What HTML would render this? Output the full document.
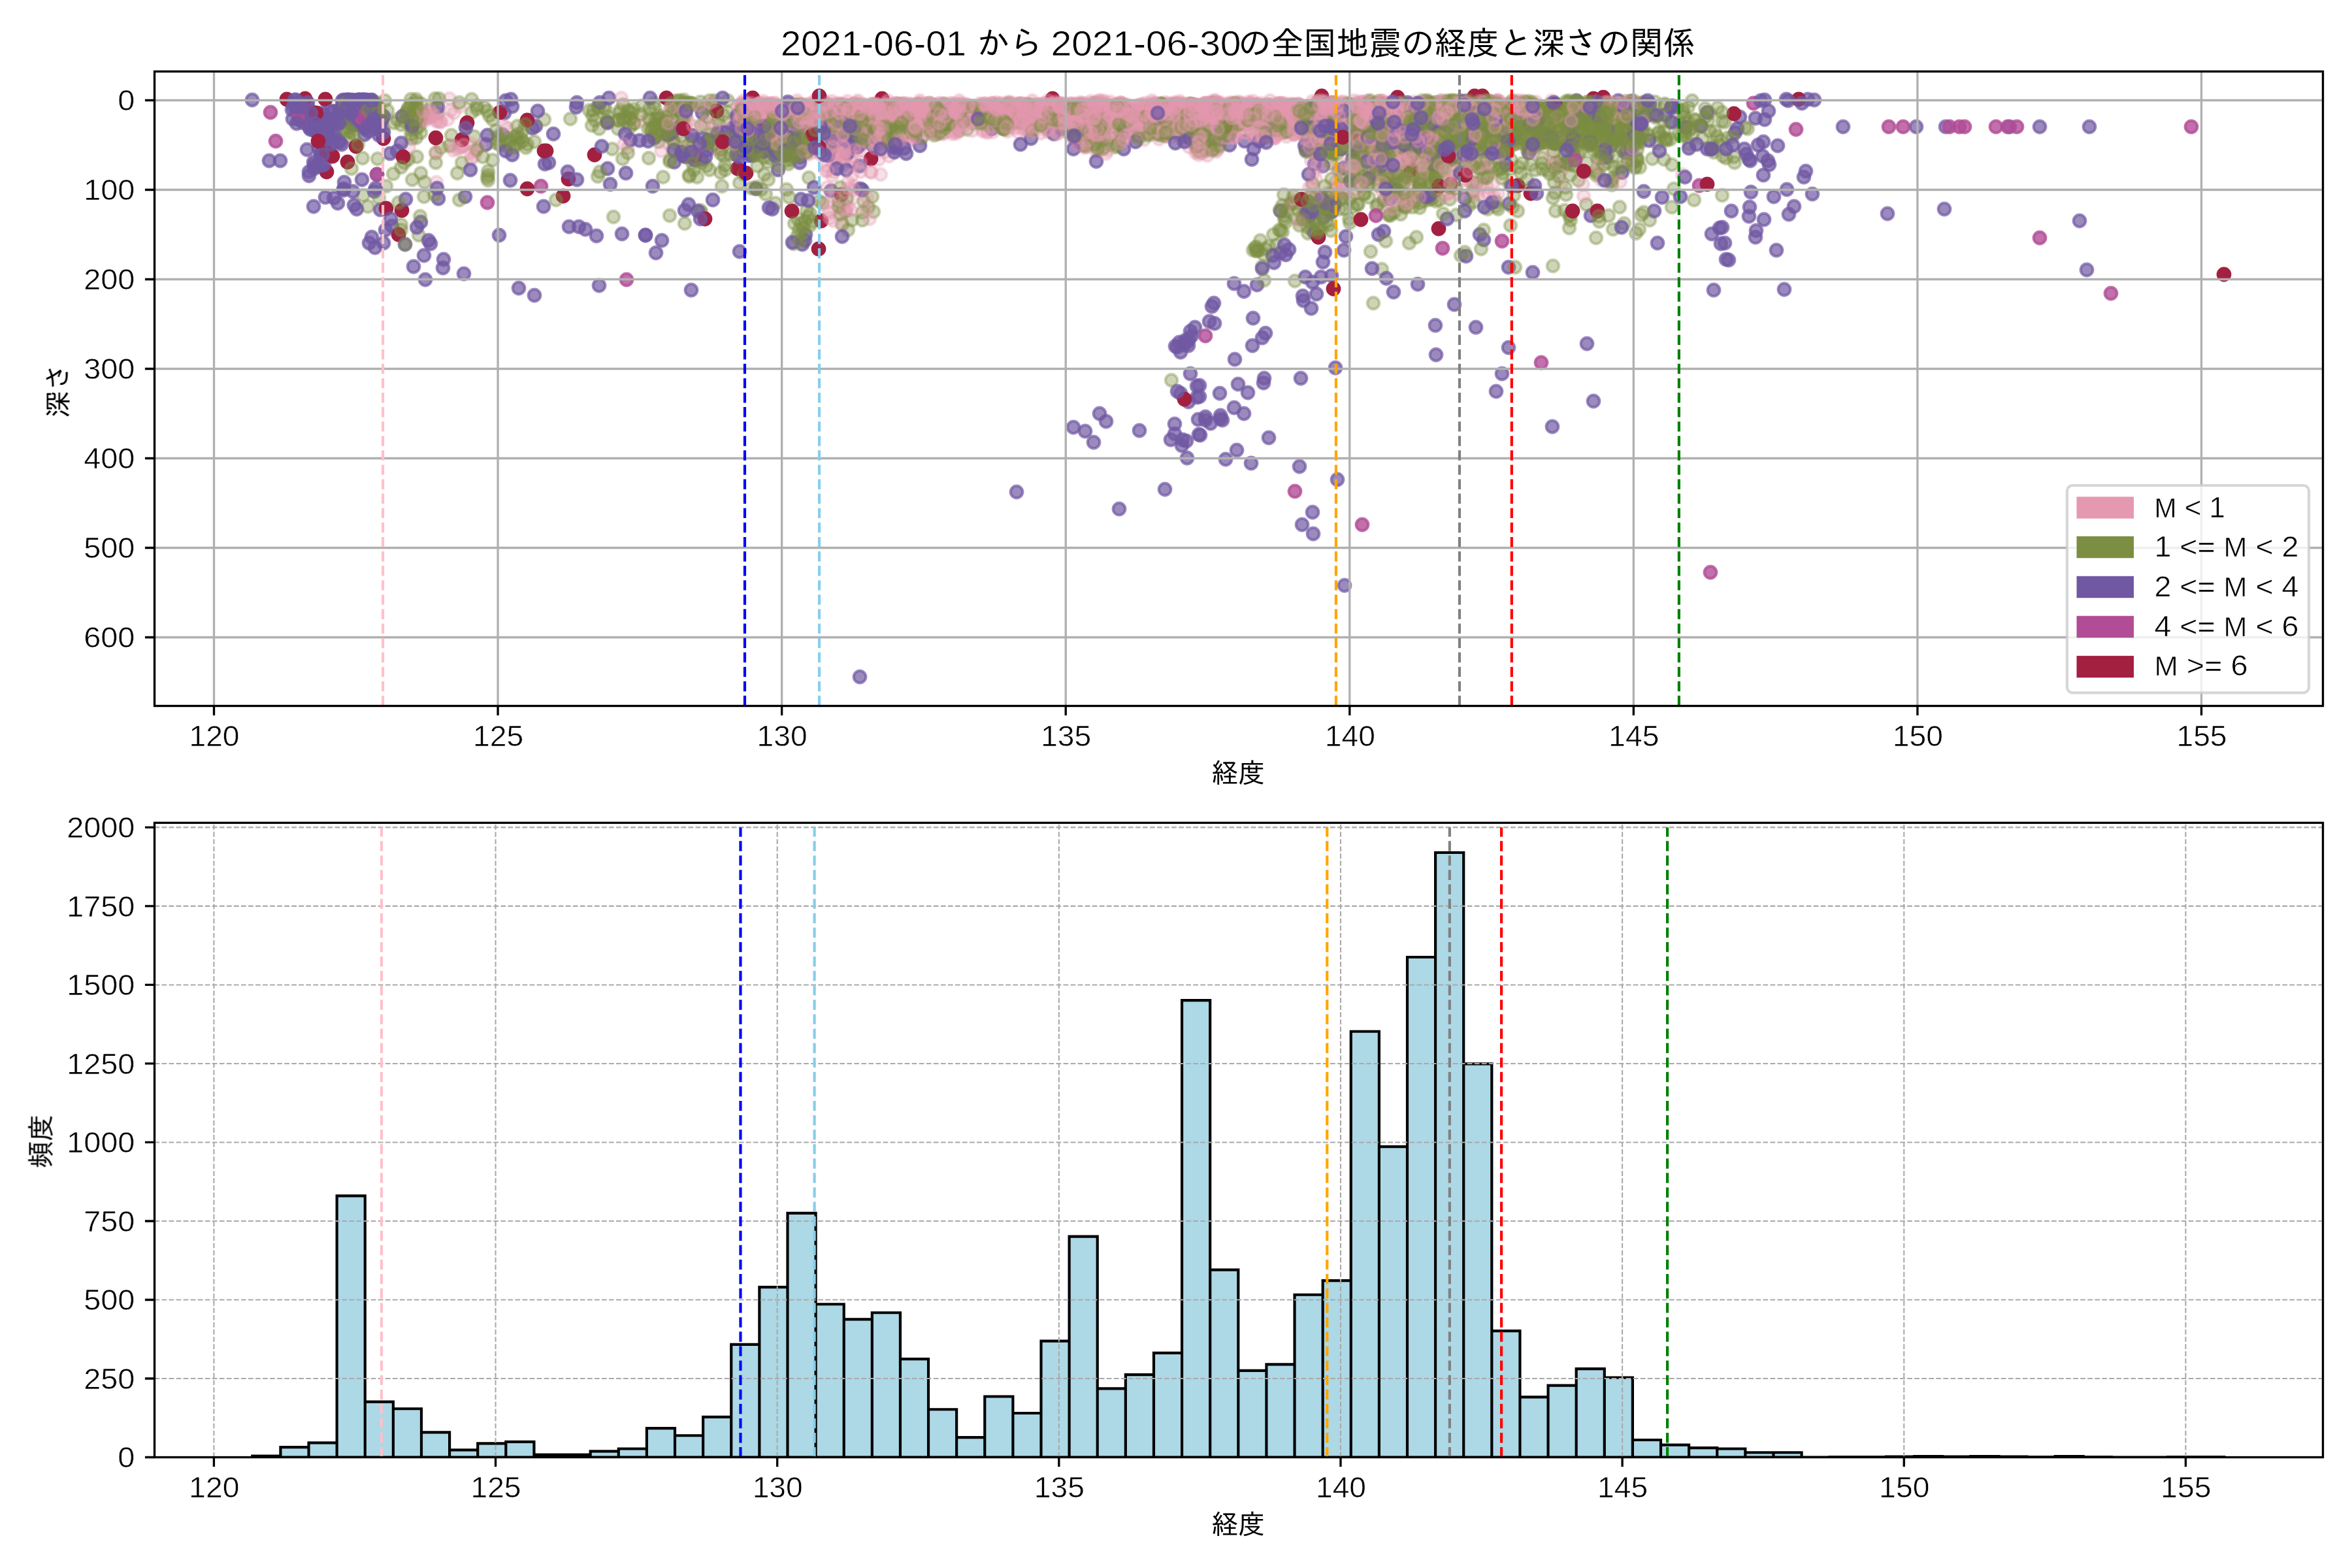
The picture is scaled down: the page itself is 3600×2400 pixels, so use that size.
<!DOCTYPE html>
<html lang="ja"><head><meta charset="utf-8"><title>2021-06 全国地震の経度と深さの関係</title>
<style>html,body{margin:0;padding:0;background:#fff}svg{display:block}text{font-family:'Liberation Sans', 'IPAGothic', sans-serif;fill:#000}</style></head><body>
<svg width="3600" height="2400" viewBox="0 0 3600 2400">
<rect width="3600" height="2400" fill="#fff"/>
<defs><clipPath id="ct"><rect x="236.5" y="109.4" width="3319.0" height="971.1"/></clipPath><clipPath id="cb"><rect x="236.5" y="1259.4" width="3319.0" height="971.1"/></clipPath></defs>
<g clip-path="url(#ct)">
<style>.sP{fill:#e599b1;stroke:#e599b1;fill-opacity:.3;stroke-opacity:.3}.sG{fill:#7c8e42;stroke:#7c8e42;fill-opacity:.38;stroke-opacity:.38}.sV{fill:#7058a2;stroke:#7058a2;fill-opacity:.7;stroke-opacity:.7}.sM{fill:#b24c96;stroke:#b24c96;fill-opacity:.8;stroke-opacity:.8}.sC{fill:#a32041;stroke:#a32041}.sc circle{r:9.3px}</style>
<g class="sc" stroke-width="4.17">
<g class="sC"><circle cx="2422" cy="169" r="9.3"/><circle cx="524" cy="170" r="9.3"/><circle cx="500" cy="263" r="9.3"/><circle cx="2365" cy="205" r="9.3"/><circle cx="1257" cy="338" r="9.3"/><circle cx="1129" cy="258" r="9.3"/></g>
<g class="sV"><circle cx="1138" cy="200" r="9.3"/><circle cx="2252" cy="171" r="9.3"/><circle cx="491" cy="236" r="9.3"/><circle cx="1993" cy="803" r="9.3"/><circle cx="510" cy="210" r="9.3"/><circle cx="481" cy="178" r="9.3"/><circle cx="532" cy="174" r="9.3"/><circle cx="542" cy="314" r="9.3"/><circle cx="2277" cy="215" r="9.3"/><circle cx="1272" cy="292" r="9.3"/><circle cx="537" cy="154" r="9.3"/><circle cx="1233" cy="359" r="9.3"/><circle cx="1835" cy="665" r="9.3"/><circle cx="2136" cy="159" r="9.3"/><circle cx="1002" cy="211" r="9.3"/><circle cx="1038" cy="168" r="9.3"/><circle cx="1199" cy="203" r="9.3"/><circle cx="820" cy="193" r="9.3"/><circle cx="1799" cy="530" r="9.3"/><circle cx="2392" cy="210" r="9.3"/><circle cx="2200" cy="211" r="9.3"/><circle cx="563" cy="154" r="9.3"/><circle cx="2125" cy="227" r="9.3"/><circle cx="1304" cy="211" r="9.3"/><circle cx="1192" cy="220" r="9.3"/><circle cx="1904" cy="633" r="9.3"/><circle cx="496" cy="252" r="9.3"/><circle cx="2640" cy="372" r="9.3"/><circle cx="2544" cy="302" r="9.3"/><circle cx="2293" cy="191" r="9.3"/><circle cx="744" cy="221" r="9.3"/><circle cx="2256" cy="210" r="9.3"/><circle cx="1401" cy="207" r="9.3"/><circle cx="2096" cy="194" r="9.3"/><circle cx="1346" cy="214" r="9.3"/><circle cx="2265" cy="359" r="9.3"/><circle cx="1868" cy="641" r="9.3"/><circle cx="2488" cy="234" r="9.3"/><circle cx="1169" cy="215" r="9.3"/><circle cx="2133" cy="447" r="9.3"/><circle cx="551" cy="153" r="9.3"/><circle cx="558" cy="154" r="9.3"/><circle cx="2455" cy="207" r="9.3"/><circle cx="527" cy="279" r="9.3"/><circle cx="579" cy="178" r="9.3"/><circle cx="847" cy="205" r="9.3"/><circle cx="2278" cy="188" r="9.3"/><circle cx="1233" cy="199" r="9.3"/><circle cx="533" cy="153" r="9.3"/><circle cx="525" cy="164" r="9.3"/><circle cx="568" cy="154" r="9.3"/><circle cx="2537" cy="372" r="9.3"/><circle cx="386" cy="153" r="9.3"/><circle cx="1177" cy="230" r="9.3"/><circle cx="896" cy="351" r="9.3"/><circle cx="1161" cy="201" r="9.3"/><circle cx="815" cy="196" r="9.3"/><circle cx="568" cy="168" r="9.3"/><circle cx="769" cy="206" r="9.3"/><circle cx="557" cy="153" r="9.3"/><circle cx="493" cy="198" r="9.3"/><circle cx="1470" cy="183" r="9.3"/><circle cx="2307" cy="204" r="9.3"/><circle cx="764" cy="360" r="9.3"/><circle cx="2642" cy="397" r="9.3"/><circle cx="2198" cy="183" r="9.3"/><circle cx="2145" cy="201" r="9.3"/><circle cx="1842" cy="202" r="9.3"/><circle cx="2738" cy="328" r="9.3"/><circle cx="1225" cy="240" r="9.3"/><circle cx="580" cy="199" r="9.3"/><circle cx="1853" cy="648" r="9.3"/><circle cx="2613" cy="228" r="9.3"/><circle cx="1195" cy="206" r="9.3"/><circle cx="772" cy="173" r="9.3"/></g>
<g class="sG"><circle cx="1973" cy="161" r="9.3"/><circle cx="2452" cy="179" r="9.3"/><circle cx="2133" cy="295" r="9.3"/><circle cx="2305" cy="176" r="9.3"/><circle cx="908" cy="169" r="9.3"/><circle cx="929" cy="186" r="9.3"/><circle cx="1428" cy="194" r="9.3"/><circle cx="622" cy="174" r="9.3"/><circle cx="2183" cy="160" r="9.3"/><circle cx="1192" cy="179" r="9.3"/><circle cx="2013" cy="225" r="9.3"/><circle cx="1820" cy="190" r="9.3"/><circle cx="2021" cy="306" r="9.3"/><circle cx="1491" cy="189" r="9.3"/><circle cx="2047" cy="297" r="9.3"/><circle cx="1357" cy="167" r="9.3"/><circle cx="2443" cy="155" r="9.3"/><circle cx="2144" cy="328" r="9.3"/><circle cx="1072" cy="322" r="9.3"/><circle cx="2181" cy="192" r="9.3"/><circle cx="2337" cy="219" r="9.3"/><circle cx="2076" cy="221" r="9.3"/><circle cx="2409" cy="187" r="9.3"/><circle cx="1406" cy="181" r="9.3"/><circle cx="2440" cy="173" r="9.3"/><circle cx="2226" cy="246" r="9.3"/><circle cx="539" cy="194" r="9.3"/><circle cx="2226" cy="198" r="9.3"/><circle cx="1838" cy="233" r="9.3"/><circle cx="2576" cy="168" r="9.3"/><circle cx="1891" cy="185" r="9.3"/><circle cx="2054" cy="282" r="9.3"/><circle cx="1210" cy="208" r="9.3"/><circle cx="667" cy="234" r="9.3"/><circle cx="1480" cy="198" r="9.3"/><circle cx="1949" cy="359" r="9.3"/><circle cx="2397" cy="216" r="9.3"/><circle cx="1833" cy="224" r="9.3"/><circle cx="649" cy="301" r="9.3"/><circle cx="2334" cy="177" r="9.3"/><circle cx="2097" cy="189" r="9.3"/><circle cx="1086" cy="154" r="9.3"/><circle cx="2497" cy="213" r="9.3"/><circle cx="1451" cy="167" r="9.3"/><circle cx="1658" cy="222" r="9.3"/><circle cx="2010" cy="175" r="9.3"/><circle cx="2397" cy="298" r="9.3"/><circle cx="1996" cy="188" r="9.3"/><circle cx="2096" cy="166" r="9.3"/><circle cx="1006" cy="207" r="9.3"/><circle cx="2474" cy="177" r="9.3"/><circle cx="2188" cy="226" r="9.3"/><circle cx="2395" cy="177" r="9.3"/><circle cx="2443" cy="263" r="9.3"/><circle cx="2478" cy="169" r="9.3"/><circle cx="2499" cy="164" r="9.3"/><circle cx="1529" cy="164" r="9.3"/><circle cx="2207" cy="192" r="9.3"/><circle cx="2255" cy="233" r="9.3"/><circle cx="2335" cy="167" r="9.3"/><circle cx="2115" cy="412" r="9.3"/><circle cx="2211" cy="186" r="9.3"/><circle cx="1069" cy="163" r="9.3"/><circle cx="2288" cy="164" r="9.3"/><circle cx="2203" cy="208" r="9.3"/><circle cx="2155" cy="161" r="9.3"/><circle cx="2579" cy="202" r="9.3"/><circle cx="1062" cy="260" r="9.3"/><circle cx="2397" cy="155" r="9.3"/><circle cx="807" cy="221" r="9.3"/><circle cx="2193" cy="235" r="9.3"/><circle cx="641" cy="360" r="9.3"/><circle cx="2255" cy="217" r="9.3"/><circle cx="2410" cy="190" r="9.3"/><circle cx="629" cy="160" r="9.3"/><circle cx="1878" cy="180" r="9.3"/><circle cx="1242" cy="193" r="9.3"/><circle cx="1345" cy="174" r="9.3"/><circle cx="1866" cy="222" r="9.3"/><circle cx="2174" cy="217" r="9.3"/><circle cx="1883" cy="204" r="9.3"/><circle cx="2362" cy="191" r="9.3"/><circle cx="2136" cy="208" r="9.3"/><circle cx="2205" cy="156" r="9.3"/><circle cx="2260" cy="280" r="9.3"/><circle cx="2090" cy="199" r="9.3"/><circle cx="1014" cy="191" r="9.3"/><circle cx="1825" cy="168" r="9.3"/><circle cx="2253" cy="161" r="9.3"/><circle cx="1886" cy="171" r="9.3"/><circle cx="1204" cy="221" r="9.3"/><circle cx="2057" cy="218" r="9.3"/><circle cx="2008" cy="202" r="9.3"/><circle cx="2167" cy="189" r="9.3"/><circle cx="1313" cy="206" r="9.3"/><circle cx="2456" cy="206" r="9.3"/><circle cx="1221" cy="335" r="9.3"/><circle cx="1229" cy="202" r="9.3"/><circle cx="1214" cy="198" r="9.3"/><circle cx="1254" cy="172" r="9.3"/><circle cx="1247" cy="214" r="9.3"/><circle cx="2436" cy="156" r="9.3"/><circle cx="1543" cy="170" r="9.3"/><circle cx="1121" cy="219" r="9.3"/><circle cx="2273" cy="215" r="9.3"/><circle cx="1469" cy="168" r="9.3"/><circle cx="2501" cy="206" r="9.3"/><circle cx="2070" cy="213" r="9.3"/><circle cx="2443" cy="171" r="9.3"/><circle cx="1320" cy="325" r="9.3"/><circle cx="1464" cy="174" r="9.3"/><circle cx="2464" cy="202" r="9.3"/><circle cx="2493" cy="164" r="9.3"/><circle cx="2238" cy="170" r="9.3"/><circle cx="2140" cy="313" r="9.3"/><circle cx="2168" cy="183" r="9.3"/><circle cx="670" cy="173" r="9.3"/><circle cx="2300" cy="194" r="9.3"/><circle cx="1466" cy="172" r="9.3"/><circle cx="2070" cy="206" r="9.3"/><circle cx="1363" cy="200" r="9.3"/><circle cx="2507" cy="184" r="9.3"/><circle cx="1872" cy="211" r="9.3"/><circle cx="2412" cy="191" r="9.3"/><circle cx="1056" cy="160" r="9.3"/><circle cx="1309" cy="173" r="9.3"/><circle cx="2173" cy="204" r="9.3"/><circle cx="2136" cy="163" r="9.3"/><circle cx="1047" cy="157" r="9.3"/><circle cx="955" cy="184" r="9.3"/><circle cx="2217" cy="188" r="9.3"/><circle cx="2038" cy="157" r="9.3"/><circle cx="587" cy="199" r="9.3"/><circle cx="2460" cy="177" r="9.3"/><circle cx="1151" cy="223" r="9.3"/><circle cx="1190" cy="181" r="9.3"/><circle cx="2419" cy="233" r="9.3"/><circle cx="1892" cy="192" r="9.3"/><circle cx="1937" cy="381" r="9.3"/><circle cx="1230" cy="349" r="9.3"/><circle cx="1164" cy="206" r="9.3"/><circle cx="2315" cy="183" r="9.3"/><circle cx="2440" cy="209" r="9.3"/><circle cx="1467" cy="200" r="9.3"/><circle cx="2210" cy="156" r="9.3"/><circle cx="2606" cy="212" r="9.3"/><circle cx="2081" cy="237" r="9.3"/><circle cx="1247" cy="204" r="9.3"/><circle cx="1607" cy="188" r="9.3"/><circle cx="2623" cy="233" r="9.3"/><circle cx="1837" cy="172" r="9.3"/><circle cx="2097" cy="206" r="9.3"/><circle cx="2539" cy="204" r="9.3"/><circle cx="1409" cy="190" r="9.3"/><circle cx="2273" cy="178" r="9.3"/><circle cx="1191" cy="169" r="9.3"/><circle cx="2357" cy="194" r="9.3"/><circle cx="2501" cy="176" r="9.3"/><circle cx="929" cy="186" r="9.3"/><circle cx="2248" cy="197" r="9.3"/><circle cx="2286" cy="205" r="9.3"/><circle cx="2453" cy="182" r="9.3"/><circle cx="2201" cy="264" r="9.3"/><circle cx="1917" cy="168" r="9.3"/><circle cx="1747" cy="200" r="9.3"/><circle cx="2180" cy="230" r="9.3"/><circle cx="1009" cy="193" r="9.3"/><circle cx="1037" cy="154" r="9.3"/><circle cx="2469" cy="171" r="9.3"/><circle cx="1196" cy="224" r="9.3"/><circle cx="2032" cy="228" r="9.3"/><circle cx="1055" cy="270" r="9.3"/><circle cx="1128" cy="207" r="9.3"/><circle cx="2258" cy="196" r="9.3"/><circle cx="2443" cy="170" r="9.3"/><circle cx="2488" cy="208" r="9.3"/><circle cx="2298" cy="173" r="9.3"/><circle cx="2634" cy="215" r="9.3"/><circle cx="1673" cy="162" r="9.3"/><circle cx="527" cy="162" r="9.3"/><circle cx="1373" cy="168" r="9.3"/><circle cx="2404" cy="329" r="9.3"/><circle cx="1178" cy="209" r="9.3"/><circle cx="1725" cy="173" r="9.3"/><circle cx="1275" cy="219" r="9.3"/><circle cx="1140" cy="206" r="9.3"/><circle cx="2288" cy="179" r="9.3"/><circle cx="2272" cy="218" r="9.3"/><circle cx="2469" cy="272" r="9.3"/><circle cx="1681" cy="159" r="9.3"/></g>
<g class="sP"><circle cx="1355" cy="209" r="9.3"/><circle cx="1945" cy="167" r="9.3"/><circle cx="1635" cy="179" r="9.3"/><circle cx="1867" cy="167" r="9.3"/><circle cx="1864" cy="172" r="9.3"/><circle cx="1646" cy="162" r="9.3"/><circle cx="1240" cy="205" r="9.3"/><circle cx="2118" cy="159" r="9.3"/><circle cx="2168" cy="187" r="9.3"/><circle cx="2258" cy="229" r="9.3"/><circle cx="1406" cy="158" r="9.3"/><circle cx="1614" cy="183" r="9.3"/><circle cx="1753" cy="174" r="9.3"/><circle cx="1413" cy="185" r="9.3"/><circle cx="1563" cy="167" r="9.3"/><circle cx="1832" cy="177" r="9.3"/><circle cx="1534" cy="168" r="9.3"/><circle cx="1345" cy="190" r="9.3"/><circle cx="1807" cy="159" r="9.3"/><circle cx="1736" cy="174" r="9.3"/><circle cx="2173" cy="158" r="9.3"/><circle cx="1208" cy="184" r="9.3"/><circle cx="1399" cy="213" r="9.3"/><circle cx="2155" cy="309" r="9.3"/><circle cx="1385" cy="176" r="9.3"/><circle cx="1473" cy="174" r="9.3"/><circle cx="2023" cy="158" r="9.3"/><circle cx="1255" cy="165" r="9.3"/><circle cx="674" cy="187" r="9.3"/><circle cx="1647" cy="175" r="9.3"/><circle cx="2186" cy="180" r="9.3"/><circle cx="1230" cy="169" r="9.3"/><circle cx="1986" cy="171" r="9.3"/><circle cx="1120" cy="192" r="9.3"/><circle cx="1884" cy="192" r="9.3"/><circle cx="1621" cy="160" r="9.3"/><circle cx="2296" cy="157" r="9.3"/><circle cx="1911" cy="156" r="9.3"/><circle cx="2287" cy="301" r="9.3"/><circle cx="2448" cy="208" r="9.3"/><circle cx="1298" cy="279" r="9.3"/><circle cx="1604" cy="202" r="9.3"/><circle cx="2076" cy="165" r="9.3"/><circle cx="1404" cy="183" r="9.3"/><circle cx="1708" cy="176" r="9.3"/><circle cx="1920" cy="161" r="9.3"/><circle cx="2155" cy="282" r="9.3"/><circle cx="2205" cy="180" r="9.3"/><circle cx="1598" cy="179" r="9.3"/><circle cx="1816" cy="181" r="9.3"/><circle cx="694" cy="230" r="9.3"/><circle cx="2267" cy="282" r="9.3"/><circle cx="1721" cy="160" r="9.3"/><circle cx="1596" cy="177" r="9.3"/><circle cx="1486" cy="168" r="9.3"/><circle cx="1151" cy="175" r="9.3"/><circle cx="1279" cy="243" r="9.3"/><circle cx="2261" cy="187" r="9.3"/><circle cx="1769" cy="164" r="9.3"/><circle cx="1461" cy="202" r="9.3"/><circle cx="1567" cy="174" r="9.3"/><circle cx="1626" cy="192" r="9.3"/><circle cx="2057" cy="288" r="9.3"/><circle cx="1575" cy="174" r="9.3"/><circle cx="2033" cy="181" r="9.3"/><circle cx="1653" cy="157" r="9.3"/><circle cx="1629" cy="162" r="9.3"/><circle cx="1461" cy="184" r="9.3"/><circle cx="2291" cy="161" r="9.3"/><circle cx="1799" cy="182" r="9.3"/><circle cx="1372" cy="177" r="9.3"/><circle cx="1570" cy="177" r="9.3"/><circle cx="1232" cy="178" r="9.3"/><circle cx="1734" cy="181" r="9.3"/><circle cx="1295" cy="175" r="9.3"/><circle cx="2512" cy="158" r="9.3"/><circle cx="2068" cy="189" r="9.3"/><circle cx="1332" cy="189" r="9.3"/><circle cx="1238" cy="172" r="9.3"/><circle cx="2228" cy="166" r="9.3"/><circle cx="2338" cy="157" r="9.3"/><circle cx="1255" cy="165" r="9.3"/><circle cx="1255" cy="160" r="9.3"/><circle cx="2332" cy="163" r="9.3"/><circle cx="1189" cy="168" r="9.3"/><circle cx="1433" cy="182" r="9.3"/><circle cx="1194" cy="162" r="9.3"/><circle cx="1326" cy="176" r="9.3"/><circle cx="2057" cy="299" r="9.3"/><circle cx="1810" cy="160" r="9.3"/><circle cx="1376" cy="176" r="9.3"/><circle cx="2380" cy="250" r="9.3"/><circle cx="1772" cy="162" r="9.3"/><circle cx="1678" cy="168" r="9.3"/><circle cx="1769" cy="206" r="9.3"/><circle cx="2150" cy="303" r="9.3"/><circle cx="1841" cy="219" r="9.3"/><circle cx="2213" cy="179" r="9.3"/><circle cx="1700" cy="212" r="9.3"/><circle cx="2153" cy="249" r="9.3"/><circle cx="1658" cy="165" r="9.3"/><circle cx="1842" cy="194" r="9.3"/><circle cx="1702" cy="165" r="9.3"/><circle cx="1728" cy="195" r="9.3"/><circle cx="1607" cy="178" r="9.3"/><circle cx="1309" cy="220" r="9.3"/><circle cx="1554" cy="172" r="9.3"/><circle cx="1220" cy="167" r="9.3"/><circle cx="2133" cy="171" r="9.3"/><circle cx="1364" cy="176" r="9.3"/><circle cx="1408" cy="154" r="9.3"/><circle cx="1345" cy="168" r="9.3"/><circle cx="1845" cy="158" r="9.3"/><circle cx="1090" cy="228" r="9.3"/><circle cx="1865" cy="159" r="9.3"/><circle cx="1384" cy="162" r="9.3"/><circle cx="2228" cy="175" r="9.3"/><circle cx="1822" cy="177" r="9.3"/><circle cx="1988" cy="186" r="9.3"/><circle cx="1725" cy="170" r="9.3"/><circle cx="2237" cy="163" r="9.3"/><circle cx="1796" cy="174" r="9.3"/><circle cx="1202" cy="162" r="9.3"/><circle cx="1734" cy="178" r="9.3"/><circle cx="2255" cy="163" r="9.3"/><circle cx="1848" cy="166" r="9.3"/><circle cx="1971" cy="318" r="9.3"/><circle cx="1897" cy="165" r="9.3"/><circle cx="1809" cy="178" r="9.3"/><circle cx="2164" cy="179" r="9.3"/><circle cx="1934" cy="164" r="9.3"/><circle cx="1785" cy="176" r="9.3"/><circle cx="1629" cy="187" r="9.3"/><circle cx="1450" cy="175" r="9.3"/><circle cx="1675" cy="176" r="9.3"/><circle cx="2049" cy="163" r="9.3"/><circle cx="1148" cy="170" r="9.3"/><circle cx="1890" cy="206" r="9.3"/><circle cx="1292" cy="323" r="9.3"/><circle cx="1513" cy="162" r="9.3"/><circle cx="1774" cy="168" r="9.3"/><circle cx="2327" cy="184" r="9.3"/><circle cx="1572" cy="171" r="9.3"/><circle cx="1748" cy="174" r="9.3"/><circle cx="1963" cy="198" r="9.3"/><circle cx="1333" cy="178" r="9.3"/><circle cx="1548" cy="171" r="9.3"/><circle cx="1964" cy="185" r="9.3"/><circle cx="2026" cy="185" r="9.3"/><circle cx="1920" cy="169" r="9.3"/><circle cx="2189" cy="165" r="9.3"/><circle cx="1222" cy="184" r="9.3"/><circle cx="703" cy="226" r="9.3"/><circle cx="1826" cy="212" r="9.3"/><circle cx="1708" cy="189" r="9.3"/><circle cx="1642" cy="163" r="9.3"/><circle cx="1798" cy="157" r="9.3"/><circle cx="1962" cy="178" r="9.3"/><circle cx="1280" cy="251" r="9.3"/><circle cx="1154" cy="209" r="9.3"/><circle cx="1819" cy="173" r="9.3"/><circle cx="1959" cy="171" r="9.3"/><circle cx="2127" cy="161" r="9.3"/><circle cx="2277" cy="164" r="9.3"/><circle cx="1956" cy="159" r="9.3"/><circle cx="2341" cy="225" r="9.3"/><circle cx="2168" cy="166" r="9.3"/><circle cx="1951" cy="210" r="9.3"/><circle cx="1275" cy="222" r="9.3"/><circle cx="1941" cy="203" r="9.3"/><circle cx="1937" cy="182" r="9.3"/><circle cx="2063" cy="186" r="9.3"/><circle cx="1624" cy="160" r="9.3"/><circle cx="2243" cy="246" r="9.3"/><circle cx="1779" cy="167" r="9.3"/><circle cx="1685" cy="204" r="9.3"/><circle cx="2028" cy="163" r="9.3"/><circle cx="1823" cy="159" r="9.3"/><circle cx="1383" cy="175" r="9.3"/><circle cx="1014" cy="176" r="9.3"/><circle cx="1757" cy="163" r="9.3"/><circle cx="1221" cy="160" r="9.3"/><circle cx="1559" cy="188" r="9.3"/><circle cx="1330" cy="173" r="9.3"/><circle cx="2088" cy="219" r="9.3"/><circle cx="1387" cy="168" r="9.3"/><circle cx="1387" cy="169" r="9.3"/><circle cx="1920" cy="168" r="9.3"/><circle cx="2048" cy="179" r="9.3"/><circle cx="1342" cy="203" r="9.3"/><circle cx="1637" cy="179" r="9.3"/><circle cx="1179" cy="161" r="9.3"/><circle cx="1405" cy="170" r="9.3"/><circle cx="1634" cy="191" r="9.3"/><circle cx="2468" cy="167" r="9.3"/><circle cx="1363" cy="163" r="9.3"/><circle cx="2441" cy="172" r="9.3"/><circle cx="1548" cy="187" r="9.3"/><circle cx="1256" cy="159" r="9.3"/><circle cx="1312" cy="176" r="9.3"/><circle cx="1908" cy="162" r="9.3"/><circle cx="2138" cy="174" r="9.3"/><circle cx="1896" cy="163" r="9.3"/><circle cx="1525" cy="166" r="9.3"/><circle cx="1827" cy="177" r="9.3"/><circle cx="2482" cy="166" r="9.3"/><circle cx="1918" cy="183" r="9.3"/><circle cx="2217" cy="185" r="9.3"/><circle cx="2276" cy="211" r="9.3"/><circle cx="1048" cy="225" r="9.3"/><circle cx="1178" cy="169" r="9.3"/><circle cx="2265" cy="175" r="9.3"/><circle cx="2293" cy="158" r="9.3"/><circle cx="1382" cy="165" r="9.3"/><circle cx="2106" cy="261" r="9.3"/><circle cx="1184" cy="171" r="9.3"/><circle cx="1316" cy="186" r="9.3"/><circle cx="1981" cy="162" r="9.3"/><circle cx="1348" cy="267" r="9.3"/><circle cx="1945" cy="162" r="9.3"/><circle cx="1939" cy="173" r="9.3"/><circle cx="1361" cy="239" r="9.3"/><circle cx="1329" cy="186" r="9.3"/><circle cx="1886" cy="170" r="9.3"/></g>
<g class="sM"><circle cx="1845" cy="514" r="9.3"/><circle cx="414" cy="172" r="9.3"/></g>
<g class="sG"><circle cx="2038" cy="326" r="9.3"/><circle cx="2628" cy="209" r="9.3"/><circle cx="2496" cy="156" r="9.3"/><circle cx="1927" cy="383" r="9.3"/><circle cx="2534" cy="180" r="9.3"/><circle cx="1960" cy="166" r="9.3"/><circle cx="2064" cy="194" r="9.3"/><circle cx="2286" cy="160" r="9.3"/><circle cx="2254" cy="198" r="9.3"/><circle cx="1984" cy="312" r="9.3"/><circle cx="2432" cy="181" r="9.3"/><circle cx="2288" cy="241" r="9.3"/><circle cx="1742" cy="171" r="9.3"/><circle cx="2136" cy="279" r="9.3"/><circle cx="1216" cy="193" r="9.3"/><circle cx="1256" cy="188" r="9.3"/><circle cx="1861" cy="216" r="9.3"/><circle cx="2120" cy="161" r="9.3"/><circle cx="2602" cy="192" r="9.3"/><circle cx="2066" cy="197" r="9.3"/><circle cx="1224" cy="185" r="9.3"/><circle cx="2533" cy="156" r="9.3"/><circle cx="1398" cy="203" r="9.3"/><circle cx="2464" cy="192" r="9.3"/><circle cx="954" cy="160" r="9.3"/><circle cx="2128" cy="328" r="9.3"/><circle cx="2425" cy="188" r="9.3"/><circle cx="1251" cy="181" r="9.3"/><circle cx="1416" cy="191" r="9.3"/><circle cx="2379" cy="188" r="9.3"/><circle cx="568" cy="164" r="9.3"/><circle cx="2305" cy="167" r="9.3"/><circle cx="1307" cy="214" r="9.3"/><circle cx="2340" cy="192" r="9.3"/><circle cx="1091" cy="160" r="9.3"/><circle cx="619" cy="186" r="9.3"/><circle cx="1130" cy="195" r="9.3"/><circle cx="1099" cy="183" r="9.3"/><circle cx="1101" cy="190" r="9.3"/><circle cx="2201" cy="233" r="9.3"/><circle cx="1716" cy="209" r="9.3"/><circle cx="1055" cy="268" r="9.3"/><circle cx="787" cy="225" r="9.3"/><circle cx="1388" cy="167" r="9.3"/><circle cx="1167" cy="174" r="9.3"/><circle cx="2245" cy="154" r="9.3"/><circle cx="2377" cy="186" r="9.3"/><circle cx="2403" cy="223" r="9.3"/><circle cx="2421" cy="180" r="9.3"/><circle cx="2088" cy="208" r="9.3"/><circle cx="2443" cy="221" r="9.3"/><circle cx="1828" cy="161" r="9.3"/><circle cx="2300" cy="187" r="9.3"/><circle cx="2001" cy="185" r="9.3"/><circle cx="2228" cy="176" r="9.3"/><circle cx="2073" cy="219" r="9.3"/><circle cx="2300" cy="164" r="9.3"/><circle cx="2181" cy="233" r="9.3"/><circle cx="1221" cy="230" r="9.3"/><circle cx="634" cy="175" r="9.3"/><circle cx="2502" cy="180" r="9.3"/><circle cx="630" cy="188" r="9.3"/><circle cx="2284" cy="169" r="9.3"/><circle cx="2411" cy="216" r="9.3"/><circle cx="1848" cy="196" r="9.3"/><circle cx="1168" cy="179" r="9.3"/><circle cx="2411" cy="196" r="9.3"/><circle cx="1716" cy="172" r="9.3"/><circle cx="1172" cy="229" r="9.3"/><circle cx="2391" cy="220" r="9.3"/><circle cx="2002" cy="357" r="9.3"/><circle cx="1257" cy="203" r="9.3"/><circle cx="1105" cy="285" r="9.3"/><circle cx="2427" cy="263" r="9.3"/><circle cx="1974" cy="196" r="9.3"/><circle cx="1723" cy="183" r="9.3"/><circle cx="2380" cy="295" r="9.3"/><circle cx="2375" cy="159" r="9.3"/><circle cx="2246" cy="155" r="9.3"/><circle cx="2270" cy="219" r="9.3"/><circle cx="2489" cy="200" r="9.3"/><circle cx="2454" cy="187" r="9.3"/><circle cx="2278" cy="267" r="9.3"/><circle cx="2270" cy="198" r="9.3"/><circle cx="2222" cy="172" r="9.3"/><circle cx="2296" cy="165" r="9.3"/><circle cx="2025" cy="314" r="9.3"/><circle cx="2221" cy="189" r="9.3"/><circle cx="2169" cy="221" r="9.3"/><circle cx="2266" cy="244" r="9.3"/><circle cx="2256" cy="196" r="9.3"/><circle cx="2159" cy="176" r="9.3"/><circle cx="2327" cy="195" r="9.3"/><circle cx="1212" cy="232" r="9.3"/><circle cx="2186" cy="264" r="9.3"/><circle cx="1248" cy="173" r="9.3"/><circle cx="2089" cy="203" r="9.3"/><circle cx="2429" cy="249" r="9.3"/><circle cx="675" cy="226" r="9.3"/><circle cx="2169" cy="189" r="9.3"/><circle cx="1181" cy="189" r="9.3"/><circle cx="1994" cy="331" r="9.3"/><circle cx="2230" cy="164" r="9.3"/><circle cx="2475" cy="200" r="9.3"/><circle cx="1842" cy="198" r="9.3"/><circle cx="2095" cy="302" r="9.3"/><circle cx="1964" cy="184" r="9.3"/><circle cx="2180" cy="220" r="9.3"/><circle cx="2286" cy="215" r="9.3"/><circle cx="2315" cy="218" r="9.3"/><circle cx="1264" cy="188" r="9.3"/><circle cx="1850" cy="208" r="9.3"/><circle cx="2432" cy="189" r="9.3"/><circle cx="1104" cy="229" r="9.3"/><circle cx="2192" cy="229" r="9.3"/><circle cx="564" cy="158" r="9.3"/><circle cx="1844" cy="227" r="9.3"/><circle cx="1295" cy="202" r="9.3"/><circle cx="2186" cy="183" r="9.3"/><circle cx="2005" cy="197" r="9.3"/><circle cx="997" cy="197" r="9.3"/><circle cx="2559" cy="317" r="9.3"/><circle cx="2280" cy="160" r="9.3"/><circle cx="2150" cy="199" r="9.3"/><circle cx="2196" cy="157" r="9.3"/><circle cx="1185" cy="207" r="9.3"/><circle cx="2034" cy="324" r="9.3"/><circle cx="2303" cy="198" r="9.3"/><circle cx="2420" cy="212" r="9.3"/><circle cx="2450" cy="229" r="9.3"/><circle cx="2482" cy="179" r="9.3"/><circle cx="2069" cy="161" r="9.3"/><circle cx="1204" cy="290" r="9.3"/><circle cx="1370" cy="192" r="9.3"/><circle cx="915" cy="163" r="9.3"/><circle cx="2231" cy="217" r="9.3"/><circle cx="2101" cy="260" r="9.3"/><circle cx="1874" cy="173" r="9.3"/><circle cx="1833" cy="184" r="9.3"/><circle cx="2176" cy="273" r="9.3"/><circle cx="1550" cy="168" r="9.3"/><circle cx="2475" cy="215" r="9.3"/><circle cx="2449" cy="211" r="9.3"/><circle cx="2340" cy="155" r="9.3"/><circle cx="1227" cy="163" r="9.3"/><circle cx="2066" cy="179" r="9.3"/><circle cx="2323" cy="196" r="9.3"/><circle cx="2088" cy="173" r="9.3"/><circle cx="1346" cy="192" r="9.3"/><circle cx="2198" cy="272" r="9.3"/><circle cx="2500" cy="210" r="9.3"/><circle cx="1989" cy="202" r="9.3"/><circle cx="1833" cy="231" r="9.3"/><circle cx="2230" cy="154" r="9.3"/><circle cx="1137" cy="213" r="9.3"/><circle cx="1745" cy="204" r="9.3"/><circle cx="2101" cy="197" r="9.3"/><circle cx="1435" cy="205" r="9.3"/><circle cx="907" cy="177" r="9.3"/><circle cx="2031" cy="194" r="9.3"/><circle cx="1138" cy="186" r="9.3"/><circle cx="2137" cy="158" r="9.3"/><circle cx="2248" cy="206" r="9.3"/><circle cx="1718" cy="199" r="9.3"/><circle cx="2449" cy="197" r="9.3"/><circle cx="2186" cy="259" r="9.3"/><circle cx="2104" cy="169" r="9.3"/><circle cx="1323" cy="200" r="9.3"/><circle cx="970" cy="189" r="9.3"/><circle cx="1197" cy="185" r="9.3"/><circle cx="2298" cy="189" r="9.3"/><circle cx="2289" cy="178" r="9.3"/><circle cx="2342" cy="193" r="9.3"/><circle cx="2315" cy="194" r="9.3"/><circle cx="1127" cy="231" r="9.3"/><circle cx="1586" cy="191" r="9.3"/><circle cx="1195" cy="165" r="9.3"/><circle cx="1667" cy="171" r="9.3"/><circle cx="2379" cy="173" r="9.3"/><circle cx="2343" cy="178" r="9.3"/><circle cx="2478" cy="189" r="9.3"/><circle cx="1195" cy="199" r="9.3"/><circle cx="1243" cy="203" r="9.3"/><circle cx="2380" cy="157" r="9.3"/><circle cx="1942" cy="377" r="9.3"/><circle cx="1638" cy="172" r="9.3"/><circle cx="2066" cy="341" r="9.3"/><circle cx="2228" cy="182" r="9.3"/><circle cx="1148" cy="178" r="9.3"/><circle cx="2487" cy="179" r="9.3"/></g>
<g class="sC"><circle cx="439" cy="152" r="9.3"/><circle cx="1212" cy="323" r="9.3"/><circle cx="587" cy="212" r="9.3"/><circle cx="1152" cy="150" r="9.3"/><circle cx="1288" cy="298" r="9.3"/><circle cx="2439" cy="151" r="9.3"/></g>
<g class="sP"><circle cx="1973" cy="165" r="9.3"/><circle cx="1976" cy="159" r="9.3"/><circle cx="1664" cy="217" r="9.3"/><circle cx="1675" cy="159" r="9.3"/><circle cx="1963" cy="184" r="9.3"/><circle cx="1605" cy="170" r="9.3"/><circle cx="1045" cy="230" r="9.3"/><circle cx="1693" cy="173" r="9.3"/><circle cx="999" cy="201" r="9.3"/><circle cx="1932" cy="174" r="9.3"/><circle cx="1462" cy="162" r="9.3"/><circle cx="1543" cy="186" r="9.3"/><circle cx="2251" cy="235" r="9.3"/><circle cx="1655" cy="171" r="9.3"/><circle cx="1372" cy="158" r="9.3"/><circle cx="1324" cy="201" r="9.3"/><circle cx="1198" cy="165" r="9.3"/><circle cx="1488" cy="200" r="9.3"/><circle cx="2214" cy="170" r="9.3"/><circle cx="2100" cy="197" r="9.3"/><circle cx="1785" cy="197" r="9.3"/><circle cx="1693" cy="193" r="9.3"/><circle cx="2338" cy="222" r="9.3"/><circle cx="1819" cy="198" r="9.3"/><circle cx="1675" cy="163" r="9.3"/><circle cx="1898" cy="175" r="9.3"/><circle cx="2211" cy="161" r="9.3"/><circle cx="1858" cy="169" r="9.3"/><circle cx="1880" cy="174" r="9.3"/><circle cx="1367" cy="174" r="9.3"/><circle cx="1729" cy="162" r="9.3"/><circle cx="1198" cy="178" r="9.3"/><circle cx="1893" cy="166" r="9.3"/><circle cx="1302" cy="162" r="9.3"/><circle cx="1976" cy="183" r="9.3"/><circle cx="1771" cy="173" r="9.3"/><circle cx="1793" cy="201" r="9.3"/><circle cx="2169" cy="175" r="9.3"/><circle cx="1583" cy="166" r="9.3"/><circle cx="1313" cy="168" r="9.3"/><circle cx="1940" cy="171" r="9.3"/><circle cx="1785" cy="204" r="9.3"/><circle cx="1512" cy="189" r="9.3"/><circle cx="1544" cy="164" r="9.3"/><circle cx="1399" cy="189" r="9.3"/><circle cx="1670" cy="155" r="9.3"/><circle cx="1245" cy="160" r="9.3"/><circle cx="1558" cy="159" r="9.3"/><circle cx="1411" cy="161" r="9.3"/><circle cx="1769" cy="165" r="9.3"/><circle cx="2118" cy="305" r="9.3"/><circle cx="1625" cy="176" r="9.3"/><circle cx="1948" cy="170" r="9.3"/><circle cx="1220" cy="154" r="9.3"/><circle cx="1911" cy="181" r="9.3"/><circle cx="1921" cy="160" r="9.3"/><circle cx="1322" cy="195" r="9.3"/><circle cx="1989" cy="168" r="9.3"/><circle cx="1897" cy="158" r="9.3"/><circle cx="1890" cy="181" r="9.3"/><circle cx="1396" cy="180" r="9.3"/><circle cx="1414" cy="174" r="9.3"/><circle cx="2329" cy="164" r="9.3"/><circle cx="1817" cy="165" r="9.3"/><circle cx="1550" cy="171" r="9.3"/><circle cx="2168" cy="165" r="9.3"/><circle cx="1768" cy="170" r="9.3"/><circle cx="1340" cy="160" r="9.3"/><circle cx="2105" cy="158" r="9.3"/><circle cx="2093" cy="180" r="9.3"/><circle cx="1281" cy="169" r="9.3"/><circle cx="1325" cy="171" r="9.3"/><circle cx="1677" cy="164" r="9.3"/><circle cx="1940" cy="160" r="9.3"/><circle cx="1206" cy="183" r="9.3"/><circle cx="1888" cy="166" r="9.3"/><circle cx="1918" cy="165" r="9.3"/><circle cx="1887" cy="163" r="9.3"/><circle cx="2194" cy="168" r="9.3"/><circle cx="1517" cy="165" r="9.3"/><circle cx="1559" cy="203" r="9.3"/><circle cx="708" cy="225" r="9.3"/><circle cx="1964" cy="203" r="9.3"/><circle cx="1994" cy="304" r="9.3"/><circle cx="1212" cy="198" r="9.3"/><circle cx="1615" cy="166" r="9.3"/><circle cx="1235" cy="237" r="9.3"/><circle cx="1232" cy="162" r="9.3"/><circle cx="2101" cy="241" r="9.3"/><circle cx="2176" cy="170" r="9.3"/><circle cx="1352" cy="178" r="9.3"/><circle cx="1636" cy="159" r="9.3"/><circle cx="1586" cy="165" r="9.3"/><circle cx="1175" cy="162" r="9.3"/><circle cx="2098" cy="162" r="9.3"/><circle cx="1101" cy="229" r="9.3"/><circle cx="2002" cy="174" r="9.3"/><circle cx="1372" cy="220" r="9.3"/><circle cx="2210" cy="194" r="9.3"/><circle cx="1417" cy="174" r="9.3"/><circle cx="1878" cy="181" r="9.3"/><circle cx="1785" cy="206" r="9.3"/><circle cx="1628" cy="163" r="9.3"/><circle cx="2122" cy="243" r="9.3"/><circle cx="2109" cy="241" r="9.3"/><circle cx="1574" cy="170" r="9.3"/><circle cx="1903" cy="172" r="9.3"/><circle cx="1344" cy="162" r="9.3"/><circle cx="1359" cy="179" r="9.3"/><circle cx="1697" cy="162" r="9.3"/><circle cx="1286" cy="163" r="9.3"/><circle cx="1309" cy="173" r="9.3"/><circle cx="1686" cy="168" r="9.3"/><circle cx="1260" cy="166" r="9.3"/><circle cx="1356" cy="171" r="9.3"/><circle cx="1736" cy="168" r="9.3"/><circle cx="1913" cy="163" r="9.3"/><circle cx="1698" cy="169" r="9.3"/><circle cx="1434" cy="180" r="9.3"/><circle cx="1843" cy="228" r="9.3"/><circle cx="1849" cy="177" r="9.3"/><circle cx="1897" cy="169" r="9.3"/><circle cx="1764" cy="190" r="9.3"/><circle cx="1190" cy="191" r="9.3"/><circle cx="1297" cy="155" r="9.3"/><circle cx="2375" cy="154" r="9.3"/><circle cx="1354" cy="166" r="9.3"/><circle cx="1986" cy="182" r="9.3"/><circle cx="1593" cy="204" r="9.3"/><circle cx="659" cy="179" r="9.3"/><circle cx="1389" cy="177" r="9.3"/><circle cx="2121" cy="158" r="9.3"/><circle cx="1316" cy="194" r="9.3"/><circle cx="1268" cy="160" r="9.3"/><circle cx="1883" cy="167" r="9.3"/><circle cx="2070" cy="168" r="9.3"/><circle cx="2145" cy="274" r="9.3"/><circle cx="2188" cy="177" r="9.3"/><circle cx="2132" cy="157" r="9.3"/><circle cx="1817" cy="181" r="9.3"/><circle cx="2230" cy="167" r="9.3"/><circle cx="1358" cy="220" r="9.3"/><circle cx="2182" cy="183" r="9.3"/><circle cx="1881" cy="178" r="9.3"/><circle cx="1680" cy="226" r="9.3"/><circle cx="1539" cy="174" r="9.3"/><circle cx="1445" cy="162" r="9.3"/><circle cx="1791" cy="167" r="9.3"/><circle cx="1787" cy="158" r="9.3"/><circle cx="2175" cy="172" r="9.3"/><circle cx="1312" cy="169" r="9.3"/><circle cx="1312" cy="173" r="9.3"/><circle cx="1429" cy="163" r="9.3"/><circle cx="2054" cy="294" r="9.3"/><circle cx="1856" cy="178" r="9.3"/><circle cx="2294" cy="171" r="9.3"/><circle cx="1863" cy="183" r="9.3"/><circle cx="1139" cy="176" r="9.3"/><circle cx="1866" cy="158" r="9.3"/><circle cx="1757" cy="164" r="9.3"/><circle cx="1936" cy="170" r="9.3"/><circle cx="2082" cy="231" r="9.3"/><circle cx="1692" cy="211" r="9.3"/><circle cx="2049" cy="171" r="9.3"/><circle cx="1234" cy="169" r="9.3"/><circle cx="1867" cy="175" r="9.3"/><circle cx="1298" cy="317" r="9.3"/><circle cx="1153" cy="177" r="9.3"/><circle cx="1885" cy="161" r="9.3"/><circle cx="2304" cy="161" r="9.3"/><circle cx="1751" cy="214" r="9.3"/><circle cx="1619" cy="160" r="9.3"/><circle cx="1848" cy="160" r="9.3"/><circle cx="1363" cy="167" r="9.3"/><circle cx="1411" cy="186" r="9.3"/><circle cx="1909" cy="178" r="9.3"/><circle cx="2178" cy="162" r="9.3"/><circle cx="1565" cy="180" r="9.3"/><circle cx="1223" cy="159" r="9.3"/><circle cx="1952" cy="211" r="9.3"/><circle cx="1192" cy="194" r="9.3"/><circle cx="2219" cy="219" r="9.3"/><circle cx="2156" cy="178" r="9.3"/><circle cx="2092" cy="161" r="9.3"/><circle cx="1285" cy="159" r="9.3"/><circle cx="2085" cy="180" r="9.3"/><circle cx="1187" cy="162" r="9.3"/><circle cx="1375" cy="162" r="9.3"/><circle cx="1655" cy="202" r="9.3"/><circle cx="1287" cy="167" r="9.3"/><circle cx="1727" cy="170" r="9.3"/><circle cx="1805" cy="163" r="9.3"/><circle cx="2334" cy="160" r="9.3"/><circle cx="2486" cy="167" r="9.3"/><circle cx="1721" cy="165" r="9.3"/><circle cx="2018" cy="154" r="9.3"/><circle cx="1235" cy="181" r="9.3"/><circle cx="1294" cy="324" r="9.3"/><circle cx="2014" cy="273" r="9.3"/><circle cx="1426" cy="191" r="9.3"/><circle cx="2071" cy="163" r="9.3"/><circle cx="2249" cy="278" r="9.3"/><circle cx="1234" cy="177" r="9.3"/><circle cx="2222" cy="168" r="9.3"/><circle cx="2121" cy="283" r="9.3"/><circle cx="1716" cy="158" r="9.3"/><circle cx="1419" cy="164" r="9.3"/><circle cx="1554" cy="178" r="9.3"/><circle cx="1856" cy="165" r="9.3"/><circle cx="1863" cy="213" r="9.3"/><circle cx="2026" cy="175" r="9.3"/><circle cx="1815" cy="186" r="9.3"/><circle cx="1441" cy="167" r="9.3"/><circle cx="2045" cy="162" r="9.3"/><circle cx="1961" cy="166" r="9.3"/><circle cx="1972" cy="196" r="9.3"/><circle cx="1249" cy="206" r="9.3"/><circle cx="1218" cy="173" r="9.3"/><circle cx="1896" cy="160" r="9.3"/><circle cx="1267" cy="166" r="9.3"/><circle cx="1768" cy="165" r="9.3"/><circle cx="2144" cy="173" r="9.3"/><circle cx="2255" cy="296" r="9.3"/><circle cx="1831" cy="164" r="9.3"/></g>
<g class="sV"><circle cx="1236" cy="230" r="9.3"/><circle cx="2364" cy="199" r="9.3"/><circle cx="2009" cy="784" r="9.3"/><circle cx="2049" cy="220" r="9.3"/><circle cx="1815" cy="210" r="9.3"/><circle cx="1146" cy="238" r="9.3"/><circle cx="2003" cy="309" r="9.3"/><circle cx="1895" cy="588" r="9.3"/><circle cx="1720" cy="228" r="9.3"/><circle cx="1994" cy="453" r="9.3"/><circle cx="1316" cy="1036" r="9.3"/><circle cx="549" cy="153" r="9.3"/><circle cx="1232" cy="368" r="9.3"/><circle cx="2296" cy="178" r="9.3"/><circle cx="2047" cy="734" r="9.3"/><circle cx="2123" cy="281" r="9.3"/><circle cx="1851" cy="492" r="9.3"/><circle cx="2139" cy="202" r="9.3"/><circle cx="532" cy="176" r="9.3"/><circle cx="2222" cy="177" r="9.3"/><circle cx="470" cy="229" r="9.3"/><circle cx="1054" cy="313" r="9.3"/><circle cx="2100" cy="411" r="9.3"/><circle cx="2154" cy="233" r="9.3"/><circle cx="1817" cy="701" r="9.3"/><circle cx="556" cy="153" r="9.3"/><circle cx="1876" cy="703" r="9.3"/><circle cx="1337" cy="224" r="9.3"/><circle cx="456" cy="159" r="9.3"/><circle cx="2269" cy="166" r="9.3"/><circle cx="670" cy="164" r="9.3"/><circle cx="539" cy="154" r="9.3"/><circle cx="2324" cy="164" r="9.3"/><circle cx="470" cy="157" r="9.3"/><circle cx="473" cy="269" r="9.3"/><circle cx="659" cy="373" r="9.3"/><circle cx="2670" cy="228" r="9.3"/><circle cx="2371" cy="182" r="9.3"/><circle cx="1048" cy="322" r="9.3"/><circle cx="1312" cy="225" r="9.3"/><circle cx="475" cy="198" r="9.3"/><circle cx="1175" cy="191" r="9.3"/><circle cx="1792" cy="180" r="9.3"/><circle cx="1372" cy="227" r="9.3"/><circle cx="2096" cy="166" r="9.3"/><circle cx="512" cy="182" r="9.3"/><circle cx="447" cy="168" r="9.3"/><circle cx="500" cy="206" r="9.3"/><circle cx="569" cy="177" r="9.3"/><circle cx="565" cy="372" r="9.3"/><circle cx="1098" cy="204" r="9.3"/><circle cx="571" cy="193" r="9.3"/><circle cx="540" cy="190" r="9.3"/><circle cx="2216" cy="175" r="9.3"/><circle cx="1157" cy="289" r="9.3"/><circle cx="531" cy="153" r="9.3"/><circle cx="1240" cy="228" r="9.3"/><circle cx="474" cy="196" r="9.3"/><circle cx="1973" cy="382" r="9.3"/><circle cx="1231" cy="217" r="9.3"/><circle cx="553" cy="180" r="9.3"/><circle cx="2477" cy="154" r="9.3"/><circle cx="1882" cy="222" r="9.3"/><circle cx="2073" cy="222" r="9.3"/><circle cx="1207" cy="227" r="9.3"/><circle cx="2516" cy="293" r="9.3"/><circle cx="496" cy="195" r="9.3"/><circle cx="656" cy="368" r="9.3"/><circle cx="531" cy="171" r="9.3"/><circle cx="2460" cy="159" r="9.3"/><circle cx="1227" cy="220" r="9.3"/><circle cx="2190" cy="234" r="9.3"/><circle cx="2687" cy="363" r="9.3"/><circle cx="2483" cy="171" r="9.3"/><circle cx="1562" cy="221" r="9.3"/></g>
<g class="sM"><circle cx="555" cy="193" r="9.3"/><circle cx="3122" cy="364" r="9.3"/><circle cx="551" cy="186" r="9.3"/></g>
<g class="sC"><circle cx="467" cy="151" r="9.3"/><circle cx="1611" cy="151" r="9.3"/><circle cx="1529" cy="166" r="9.3"/><circle cx="836" cy="231" r="9.3"/><circle cx="2023" cy="147" r="9.3"/><circle cx="2245" cy="184" r="9.3"/></g>
<g class="sV"><circle cx="1889" cy="434" r="9.3"/><circle cx="2619" cy="228" r="9.3"/><circle cx="2014" cy="312" r="9.3"/><circle cx="459" cy="181" r="9.3"/><circle cx="529" cy="172" r="9.3"/><circle cx="530" cy="154" r="9.3"/><circle cx="526" cy="289" r="9.3"/><circle cx="1894" cy="185" r="9.3"/><circle cx="1556" cy="753" r="9.3"/><circle cx="2026" cy="333" r="9.3"/><circle cx="2698" cy="239" r="9.3"/><circle cx="490" cy="181" r="9.3"/><circle cx="2679" cy="246" r="9.3"/><circle cx="2735" cy="290" r="9.3"/><circle cx="2343" cy="228" r="9.3"/><circle cx="1905" cy="216" r="9.3"/><circle cx="2397" cy="249" r="9.3"/><circle cx="1082" cy="230" r="9.3"/><circle cx="2061" cy="181" r="9.3"/><circle cx="2194" cy="172" r="9.3"/><circle cx="2408" cy="217" r="9.3"/><circle cx="2038" cy="422" r="9.3"/><circle cx="1497" cy="183" r="9.3"/><circle cx="535" cy="182" r="9.3"/><circle cx="2310" cy="312" r="9.3"/><circle cx="1723" cy="202" r="9.3"/><circle cx="1832" cy="608" r="9.3"/><circle cx="2096" cy="216" r="9.3"/><circle cx="535" cy="164" r="9.3"/><circle cx="1228" cy="374" r="9.3"/><circle cx="1998" cy="424" r="9.3"/><circle cx="1960" cy="323" r="9.3"/><circle cx="2005" cy="165" r="9.3"/><circle cx="2034" cy="201" r="9.3"/><circle cx="1820" cy="519" r="9.3"/><circle cx="2699" cy="217" r="9.3"/><circle cx="1151" cy="238" r="9.3"/><circle cx="2366" cy="181" r="9.3"/><circle cx="480" cy="248" r="9.3"/><circle cx="545" cy="154" r="9.3"/><circle cx="2490" cy="231" r="9.3"/><circle cx="507" cy="185" r="9.3"/><circle cx="1960" cy="387" r="9.3"/><circle cx="2761" cy="271" r="9.3"/><circle cx="712" cy="301" r="9.3"/><circle cx="1950" cy="402" r="9.3"/><circle cx="1091" cy="306" r="9.3"/><circle cx="2466" cy="223" r="9.3"/><circle cx="555" cy="185" r="9.3"/><circle cx="2089" cy="225" r="9.3"/><circle cx="542" cy="169" r="9.3"/><circle cx="2224" cy="240" r="9.3"/><circle cx="551" cy="177" r="9.3"/><circle cx="1578" cy="212" r="9.3"/><circle cx="575" cy="176" r="9.3"/><circle cx="2090" cy="166" r="9.3"/><circle cx="1760" cy="184" r="9.3"/><circle cx="678" cy="410" r="9.3"/><circle cx="1866" cy="214" r="9.3"/><circle cx="2244" cy="157" r="9.3"/><circle cx="1744" cy="659" r="9.3"/><circle cx="2025" cy="401" r="9.3"/><circle cx="1805" cy="524" r="9.3"/><circle cx="794" cy="441" r="9.3"/><circle cx="2105" cy="172" r="9.3"/><circle cx="2265" cy="228" r="9.3"/><circle cx="2288" cy="215" r="9.3"/><circle cx="2242" cy="304" r="9.3"/><circle cx="952" cy="358" r="9.3"/><circle cx="558" cy="206" r="9.3"/><circle cx="1998" cy="182" r="9.3"/><circle cx="2071" cy="243" r="9.3"/><circle cx="2346" cy="417" r="9.3"/><circle cx="2130" cy="165" r="9.3"/><circle cx="2933" cy="194" r="9.3"/><circle cx="2656" cy="203" r="9.3"/></g>
<g class="sG"><circle cx="2037" cy="353" r="9.3"/><circle cx="2435" cy="172" r="9.3"/><circle cx="1796" cy="164" r="9.3"/><circle cx="2123" cy="181" r="9.3"/><circle cx="1001" cy="158" r="9.3"/><circle cx="2479" cy="202" r="9.3"/><circle cx="1517" cy="167" r="9.3"/><circle cx="1661" cy="182" r="9.3"/><circle cx="2431" cy="215" r="9.3"/><circle cx="2255" cy="279" r="9.3"/><circle cx="1313" cy="174" r="9.3"/><circle cx="1170" cy="168" r="9.3"/><circle cx="2177" cy="173" r="9.3"/><circle cx="2248" cy="202" r="9.3"/><circle cx="1798" cy="183" r="9.3"/><circle cx="2414" cy="158" r="9.3"/><circle cx="2408" cy="160" r="9.3"/><circle cx="1160" cy="233" r="9.3"/><circle cx="2465" cy="165" r="9.3"/><circle cx="1998" cy="210" r="9.3"/><circle cx="2206" cy="163" r="9.3"/><circle cx="2248" cy="171" r="9.3"/><circle cx="2047" cy="212" r="9.3"/><circle cx="2258" cy="181" r="9.3"/><circle cx="2368" cy="183" r="9.3"/><circle cx="1615" cy="163" r="9.3"/><circle cx="2260" cy="212" r="9.3"/><circle cx="2010" cy="174" r="9.3"/><circle cx="2066" cy="304" r="9.3"/><circle cx="2277" cy="243" r="9.3"/><circle cx="1996" cy="196" r="9.3"/><circle cx="2045" cy="196" r="9.3"/><circle cx="2225" cy="207" r="9.3"/><circle cx="2370" cy="210" r="9.3"/><circle cx="2361" cy="242" r="9.3"/><circle cx="2632" cy="222" r="9.3"/><circle cx="1265" cy="160" r="9.3"/><circle cx="1299" cy="194" r="9.3"/><circle cx="569" cy="166" r="9.3"/><circle cx="703" cy="306" r="9.3"/><circle cx="2104" cy="206" r="9.3"/><circle cx="2231" cy="209" r="9.3"/><circle cx="1431" cy="169" r="9.3"/><circle cx="2510" cy="219" r="9.3"/><circle cx="965" cy="183" r="9.3"/><circle cx="2099" cy="216" r="9.3"/><circle cx="1895" cy="179" r="9.3"/><circle cx="2556" cy="186" r="9.3"/><circle cx="1307" cy="183" r="9.3"/><circle cx="1620" cy="160" r="9.3"/><circle cx="1785" cy="176" r="9.3"/><circle cx="2323" cy="323" r="9.3"/><circle cx="2559" cy="252" r="9.3"/><circle cx="2548" cy="159" r="9.3"/><circle cx="2099" cy="223" r="9.3"/><circle cx="1283" cy="182" r="9.3"/><circle cx="2355" cy="163" r="9.3"/><circle cx="1560" cy="159" r="9.3"/><circle cx="2496" cy="165" r="9.3"/><circle cx="2494" cy="221" r="9.3"/><circle cx="630" cy="212" r="9.3"/><circle cx="1198" cy="178" r="9.3"/><circle cx="2472" cy="165" r="9.3"/><circle cx="1828" cy="211" r="9.3"/><circle cx="2263" cy="200" r="9.3"/><circle cx="2379" cy="212" r="9.3"/><circle cx="2088" cy="182" r="9.3"/><circle cx="1877" cy="171" r="9.3"/><circle cx="833" cy="183" r="9.3"/><circle cx="2529" cy="243" r="9.3"/><circle cx="2636" cy="185" r="9.3"/><circle cx="1463" cy="171" r="9.3"/><circle cx="2211" cy="181" r="9.3"/><circle cx="1008" cy="217" r="9.3"/><circle cx="571" cy="184" r="9.3"/><circle cx="1218" cy="171" r="9.3"/><circle cx="2187" cy="172" r="9.3"/><circle cx="1223" cy="352" r="9.3"/><circle cx="2489" cy="162" r="9.3"/><circle cx="1966" cy="331" r="9.3"/><circle cx="1444" cy="165" r="9.3"/><circle cx="1970" cy="323" r="9.3"/><circle cx="2295" cy="192" r="9.3"/><circle cx="1334" cy="201" r="9.3"/><circle cx="2096" cy="158" r="9.3"/><circle cx="2190" cy="281" r="9.3"/><circle cx="2131" cy="273" r="9.3"/><circle cx="2296" cy="169" r="9.3"/><circle cx="2507" cy="207" r="9.3"/><circle cx="998" cy="210" r="9.3"/><circle cx="1215" cy="373" r="9.3"/><circle cx="2223" cy="154" r="9.3"/><circle cx="1152" cy="166" r="9.3"/><circle cx="1933" cy="201" r="9.3"/><circle cx="1610" cy="169" r="9.3"/><circle cx="2002" cy="325" r="9.3"/><circle cx="2063" cy="194" r="9.3"/><circle cx="2243" cy="184" r="9.3"/><circle cx="2146" cy="264" r="9.3"/><circle cx="773" cy="223" r="9.3"/><circle cx="2099" cy="242" r="9.3"/><circle cx="1780" cy="192" r="9.3"/><circle cx="1328" cy="211" r="9.3"/><circle cx="2282" cy="198" r="9.3"/><circle cx="2267" cy="179" r="9.3"/><circle cx="1675" cy="158" r="9.3"/><circle cx="2437" cy="201" r="9.3"/><circle cx="593" cy="169" r="9.3"/><circle cx="1230" cy="206" r="9.3"/><circle cx="1130" cy="182" r="9.3"/><circle cx="2133" cy="175" r="9.3"/><circle cx="2416" cy="171" r="9.3"/><circle cx="1032" cy="219" r="9.3"/><circle cx="2255" cy="187" r="9.3"/><circle cx="2168" cy="243" r="9.3"/><circle cx="2166" cy="169" r="9.3"/><circle cx="2079" cy="183" r="9.3"/><circle cx="2276" cy="215" r="9.3"/><circle cx="2381" cy="209" r="9.3"/><circle cx="2459" cy="216" r="9.3"/><circle cx="2451" cy="191" r="9.3"/><circle cx="2229" cy="235" r="9.3"/><circle cx="2636" cy="299" r="9.3"/><circle cx="997" cy="200" r="9.3"/><circle cx="2455" cy="206" r="9.3"/><circle cx="1548" cy="178" r="9.3"/><circle cx="1966" cy="203" r="9.3"/><circle cx="1015" cy="271" r="9.3"/><circle cx="2230" cy="242" r="9.3"/><circle cx="2417" cy="163" r="9.3"/><circle cx="2654" cy="240" r="9.3"/><circle cx="2112" cy="200" r="9.3"/><circle cx="1395" cy="181" r="9.3"/><circle cx="2352" cy="163" r="9.3"/><circle cx="1187" cy="311" r="9.3"/><circle cx="2465" cy="162" r="9.3"/><circle cx="2167" cy="200" r="9.3"/><circle cx="2442" cy="218" r="9.3"/><circle cx="2088" cy="297" r="9.3"/><circle cx="1259" cy="311" r="9.3"/><circle cx="1989" cy="345" r="9.3"/><circle cx="2172" cy="191" r="9.3"/><circle cx="2334" cy="204" r="9.3"/><circle cx="1796" cy="160" r="9.3"/><circle cx="2541" cy="209" r="9.3"/><circle cx="2154" cy="214" r="9.3"/><circle cx="2433" cy="223" r="9.3"/><circle cx="2121" cy="231" r="9.3"/><circle cx="1008" cy="182" r="9.3"/><circle cx="1381" cy="161" r="9.3"/><circle cx="1247" cy="200" r="9.3"/><circle cx="1150" cy="193" r="9.3"/><circle cx="2375" cy="217" r="9.3"/><circle cx="1274" cy="212" r="9.3"/><circle cx="2325" cy="193" r="9.3"/><circle cx="2473" cy="173" r="9.3"/><circle cx="2515" cy="158" r="9.3"/><circle cx="1376" cy="178" r="9.3"/><circle cx="961" cy="169" r="9.3"/><circle cx="2259" cy="213" r="9.3"/><circle cx="1997" cy="182" r="9.3"/><circle cx="1584" cy="171" r="9.3"/><circle cx="2214" cy="244" r="9.3"/><circle cx="2476" cy="196" r="9.3"/><circle cx="2249" cy="232" r="9.3"/><circle cx="1820" cy="179" r="9.3"/><circle cx="2391" cy="216" r="9.3"/><circle cx="2331" cy="220" r="9.3"/><circle cx="1981" cy="309" r="9.3"/><circle cx="1165" cy="290" r="9.3"/><circle cx="1901" cy="186" r="9.3"/><circle cx="2364" cy="218" r="9.3"/><circle cx="2502" cy="257" r="9.3"/><circle cx="1506" cy="188" r="9.3"/><circle cx="657" cy="169" r="9.3"/><circle cx="1329" cy="215" r="9.3"/><circle cx="1127" cy="184" r="9.3"/><circle cx="2357" cy="208" r="9.3"/><circle cx="1903" cy="181" r="9.3"/><circle cx="1379" cy="207" r="9.3"/><circle cx="1357" cy="214" r="9.3"/><circle cx="2237" cy="193" r="9.3"/><circle cx="1199" cy="202" r="9.3"/><circle cx="1954" cy="375" r="9.3"/><circle cx="1979" cy="169" r="9.3"/><circle cx="2303" cy="173" r="9.3"/><circle cx="2304" cy="170" r="9.3"/><circle cx="2186" cy="176" r="9.3"/><circle cx="2671" cy="195" r="9.3"/><circle cx="1114" cy="154" r="9.3"/><circle cx="2579" cy="207" r="9.3"/></g>
<g class="sP"><circle cx="1239" cy="171" r="9.3"/><circle cx="1530" cy="159" r="9.3"/><circle cx="1160" cy="159" r="9.3"/><circle cx="1340" cy="160" r="9.3"/><circle cx="2125" cy="300" r="9.3"/><circle cx="1841" cy="164" r="9.3"/><circle cx="1746" cy="160" r="9.3"/><circle cx="1553" cy="196" r="9.3"/><circle cx="1527" cy="167" r="9.3"/><circle cx="2009" cy="214" r="9.3"/><circle cx="1166" cy="174" r="9.3"/><circle cx="2160" cy="241" r="9.3"/><circle cx="1383" cy="216" r="9.3"/><circle cx="1975" cy="311" r="9.3"/><circle cx="1440" cy="164" r="9.3"/><circle cx="2126" cy="184" r="9.3"/><circle cx="1897" cy="161" r="9.3"/><circle cx="2410" cy="211" r="9.3"/><circle cx="1287" cy="170" r="9.3"/><circle cx="1534" cy="174" r="9.3"/><circle cx="1137" cy="159" r="9.3"/><circle cx="1692" cy="184" r="9.3"/><circle cx="1348" cy="161" r="9.3"/><circle cx="2194" cy="162" r="9.3"/><circle cx="1952" cy="166" r="9.3"/><circle cx="1443" cy="205" r="9.3"/><circle cx="1162" cy="159" r="9.3"/><circle cx="2108" cy="173" r="9.3"/><circle cx="1469" cy="190" r="9.3"/><circle cx="1267" cy="209" r="9.3"/><circle cx="1183" cy="196" r="9.3"/><circle cx="1147" cy="208" r="9.3"/><circle cx="1897" cy="166" r="9.3"/><circle cx="1136" cy="169" r="9.3"/><circle cx="2121" cy="176" r="9.3"/><circle cx="1375" cy="169" r="9.3"/><circle cx="1350" cy="178" r="9.3"/><circle cx="2223" cy="176" r="9.3"/><circle cx="1681" cy="230" r="9.3"/><circle cx="1418" cy="162" r="9.3"/><circle cx="1887" cy="162" r="9.3"/><circle cx="1808" cy="174" r="9.3"/><circle cx="1406" cy="160" r="9.3"/><circle cx="1527" cy="163" r="9.3"/><circle cx="1851" cy="171" r="9.3"/><circle cx="1898" cy="165" r="9.3"/><circle cx="2032" cy="174" r="9.3"/><circle cx="2321" cy="170" r="9.3"/><circle cx="1496" cy="174" r="9.3"/><circle cx="1936" cy="176" r="9.3"/><circle cx="2193" cy="177" r="9.3"/><circle cx="1472" cy="170" r="9.3"/><circle cx="1874" cy="190" r="9.3"/><circle cx="1986" cy="177" r="9.3"/><circle cx="2030" cy="215" r="9.3"/><circle cx="1864" cy="164" r="9.3"/><circle cx="1511" cy="203" r="9.3"/><circle cx="1370" cy="171" r="9.3"/><circle cx="1891" cy="163" r="9.3"/><circle cx="1497" cy="177" r="9.3"/><circle cx="1961" cy="159" r="9.3"/><circle cx="1823" cy="159" r="9.3"/><circle cx="1556" cy="174" r="9.3"/><circle cx="1536" cy="163" r="9.3"/><circle cx="1362" cy="192" r="9.3"/><circle cx="1829" cy="174" r="9.3"/><circle cx="1253" cy="163" r="9.3"/><circle cx="1848" cy="167" r="9.3"/><circle cx="2045" cy="278" r="9.3"/><circle cx="1354" cy="164" r="9.3"/><circle cx="1253" cy="176" r="9.3"/><circle cx="2142" cy="157" r="9.3"/><circle cx="1801" cy="167" r="9.3"/><circle cx="2442" cy="174" r="9.3"/><circle cx="1311" cy="163" r="9.3"/><circle cx="1468" cy="154" r="9.3"/><circle cx="1405" cy="179" r="9.3"/><circle cx="1275" cy="164" r="9.3"/><circle cx="2427" cy="161" r="9.3"/><circle cx="1271" cy="203" r="9.3"/><circle cx="1603" cy="159" r="9.3"/><circle cx="1956" cy="195" r="9.3"/><circle cx="2206" cy="169" r="9.3"/><circle cx="1875" cy="176" r="9.3"/><circle cx="2188" cy="160" r="9.3"/><circle cx="1323" cy="164" r="9.3"/><circle cx="1570" cy="160" r="9.3"/><circle cx="1451" cy="164" r="9.3"/><circle cx="2198" cy="165" r="9.3"/><circle cx="2014" cy="172" r="9.3"/><circle cx="1630" cy="168" r="9.3"/><circle cx="1187" cy="158" r="9.3"/><circle cx="1783" cy="177" r="9.3"/><circle cx="1575" cy="199" r="9.3"/><circle cx="2390" cy="280" r="9.3"/><circle cx="1651" cy="222" r="9.3"/><circle cx="1308" cy="285" r="9.3"/><circle cx="1916" cy="166" r="9.3"/><circle cx="1444" cy="204" r="9.3"/><circle cx="2478" cy="193" r="9.3"/><circle cx="1138" cy="163" r="9.3"/><circle cx="1847" cy="167" r="9.3"/><circle cx="1829" cy="170" r="9.3"/><circle cx="2122" cy="192" r="9.3"/><circle cx="2103" cy="200" r="9.3"/><circle cx="1516" cy="169" r="9.3"/><circle cx="1731" cy="179" r="9.3"/><circle cx="1661" cy="177" r="9.3"/><circle cx="2137" cy="256" r="9.3"/><circle cx="1987" cy="176" r="9.3"/><circle cx="1609" cy="179" r="9.3"/><circle cx="1761" cy="202" r="9.3"/><circle cx="1238" cy="173" r="9.3"/><circle cx="1989" cy="161" r="9.3"/><circle cx="1835" cy="174" r="9.3"/><circle cx="1924" cy="176" r="9.3"/><circle cx="1526" cy="159" r="9.3"/><circle cx="1877" cy="211" r="9.3"/><circle cx="2282" cy="179" r="9.3"/><circle cx="2164" cy="231" r="9.3"/><circle cx="1655" cy="191" r="9.3"/><circle cx="1743" cy="208" r="9.3"/><circle cx="1784" cy="171" r="9.3"/><circle cx="2207" cy="178" r="9.3"/><circle cx="1888" cy="165" r="9.3"/><circle cx="2258" cy="204" r="9.3"/><circle cx="2145" cy="222" r="9.3"/><circle cx="1840" cy="168" r="9.3"/><circle cx="1436" cy="176" r="9.3"/><circle cx="1814" cy="166" r="9.3"/><circle cx="1350" cy="168" r="9.3"/><circle cx="1947" cy="202" r="9.3"/><circle cx="688" cy="151" r="9.3"/><circle cx="2140" cy="213" r="9.3"/><circle cx="1635" cy="163" r="9.3"/><circle cx="2082" cy="159" r="9.3"/><circle cx="1875" cy="179" r="9.3"/><circle cx="1695" cy="210" r="9.3"/><circle cx="2244" cy="190" r="9.3"/><circle cx="1859" cy="154" r="9.3"/><circle cx="2206" cy="154" r="9.3"/><circle cx="2014" cy="216" r="9.3"/><circle cx="1667" cy="177" r="9.3"/><circle cx="1579" cy="182" r="9.3"/><circle cx="2129" cy="171" r="9.3"/><circle cx="1022" cy="186" r="9.3"/><circle cx="1228" cy="161" r="9.3"/><circle cx="1953" cy="205" r="9.3"/><circle cx="1636" cy="163" r="9.3"/><circle cx="1974" cy="161" r="9.3"/><circle cx="1692" cy="159" r="9.3"/><circle cx="1828" cy="171" r="9.3"/><circle cx="1790" cy="187" r="9.3"/><circle cx="1743" cy="180" r="9.3"/><circle cx="1834" cy="228" r="9.3"/><circle cx="1820" cy="225" r="9.3"/><circle cx="2031" cy="160" r="9.3"/><circle cx="1988" cy="167" r="9.3"/><circle cx="1994" cy="168" r="9.3"/><circle cx="2112" cy="165" r="9.3"/><circle cx="1189" cy="173" r="9.3"/><circle cx="2064" cy="272" r="9.3"/><circle cx="1664" cy="158" r="9.3"/><circle cx="1650" cy="211" r="9.3"/><circle cx="1946" cy="171" r="9.3"/><circle cx="2277" cy="163" r="9.3"/><circle cx="2235" cy="188" r="9.3"/><circle cx="1460" cy="175" r="9.3"/><circle cx="1672" cy="196" r="9.3"/><circle cx="1550" cy="161" r="9.3"/><circle cx="1290" cy="169" r="9.3"/><circle cx="2267" cy="171" r="9.3"/><circle cx="1825" cy="186" r="9.3"/><circle cx="1838" cy="178" r="9.3"/><circle cx="1284" cy="318" r="9.3"/><circle cx="2225" cy="173" r="9.3"/><circle cx="1166" cy="194" r="9.3"/><circle cx="1152" cy="164" r="9.3"/><circle cx="1251" cy="166" r="9.3"/><circle cx="1290" cy="233" r="9.3"/><circle cx="2092" cy="158" r="9.3"/><circle cx="1335" cy="174" r="9.3"/><circle cx="1838" cy="167" r="9.3"/><circle cx="2092" cy="222" r="9.3"/><circle cx="1855" cy="176" r="9.3"/><circle cx="1865" cy="182" r="9.3"/><circle cx="1495" cy="187" r="9.3"/><circle cx="1825" cy="161" r="9.3"/><circle cx="2166" cy="173" r="9.3"/><circle cx="2226" cy="175" r="9.3"/><circle cx="1432" cy="180" r="9.3"/><circle cx="1880" cy="162" r="9.3"/><circle cx="1740" cy="206" r="9.3"/><circle cx="2249" cy="180" r="9.3"/><circle cx="1838" cy="167" r="9.3"/><circle cx="1630" cy="170" r="9.3"/><circle cx="2090" cy="168" r="9.3"/><circle cx="1594" cy="171" r="9.3"/><circle cx="1678" cy="167" r="9.3"/><circle cx="1337" cy="170" r="9.3"/><circle cx="1144" cy="165" r="9.3"/><circle cx="1656" cy="223" r="9.3"/><circle cx="1566" cy="163" r="9.3"/><circle cx="1296" cy="184" r="9.3"/><circle cx="2246" cy="193" r="9.3"/><circle cx="1931" cy="175" r="9.3"/><circle cx="1828" cy="175" r="9.3"/><circle cx="1520" cy="202" r="9.3"/><circle cx="1164" cy="158" r="9.3"/><circle cx="1678" cy="232" r="9.3"/><circle cx="1269" cy="238" r="9.3"/><circle cx="1423" cy="172" r="9.3"/><circle cx="1863" cy="230" r="9.3"/><circle cx="1376" cy="170" r="9.3"/><circle cx="1853" cy="156" r="9.3"/><circle cx="2113" cy="182" r="9.3"/><circle cx="1988" cy="168" r="9.3"/><circle cx="1776" cy="158" r="9.3"/><circle cx="1987" cy="159" r="9.3"/><circle cx="2193" cy="168" r="9.3"/><circle cx="2017" cy="201" r="9.3"/><circle cx="1249" cy="194" r="9.3"/><circle cx="1660" cy="166" r="9.3"/><circle cx="2019" cy="159" r="9.3"/><circle cx="1981" cy="183" r="9.3"/></g>
<g class="sM"><circle cx="1982" cy="752" r="9.3"/><circle cx="1937" cy="207" r="9.3"/></g>
<g class="sG"><circle cx="1867" cy="224" r="9.3"/><circle cx="2228" cy="172" r="9.3"/><circle cx="2373" cy="160" r="9.3"/><circle cx="2225" cy="181" r="9.3"/><circle cx="2057" cy="212" r="9.3"/><circle cx="2291" cy="165" r="9.3"/><circle cx="2372" cy="191" r="9.3"/><circle cx="1660" cy="179" r="9.3"/><circle cx="2213" cy="240" r="9.3"/><circle cx="2243" cy="176" r="9.3"/><circle cx="2167" cy="232" r="9.3"/><circle cx="1273" cy="193" r="9.3"/><circle cx="2291" cy="167" r="9.3"/><circle cx="1871" cy="197" r="9.3"/><circle cx="2192" cy="268" r="9.3"/><circle cx="2313" cy="245" r="9.3"/><circle cx="2233" cy="198" r="9.3"/><circle cx="1223" cy="193" r="9.3"/><circle cx="1645" cy="208" r="9.3"/><circle cx="1976" cy="182" r="9.3"/><circle cx="1778" cy="162" r="9.3"/><circle cx="2174" cy="214" r="9.3"/><circle cx="2023" cy="351" r="9.3"/><circle cx="1189" cy="191" r="9.3"/><circle cx="1361" cy="197" r="9.3"/><circle cx="2394" cy="214" r="9.3"/><circle cx="2462" cy="175" r="9.3"/><circle cx="1171" cy="190" r="9.3"/><circle cx="2409" cy="166" r="9.3"/><circle cx="1032" cy="155" r="9.3"/><circle cx="1317" cy="181" r="9.3"/><circle cx="2170" cy="164" r="9.3"/><circle cx="2217" cy="190" r="9.3"/><circle cx="2356" cy="222" r="9.3"/><circle cx="1760" cy="197" r="9.3"/><circle cx="2215" cy="189" r="9.3"/><circle cx="2121" cy="165" r="9.3"/><circle cx="2465" cy="211" r="9.3"/><circle cx="1323" cy="192" r="9.3"/><circle cx="1217" cy="237" r="9.3"/><circle cx="2350" cy="260" r="9.3"/><circle cx="1284" cy="177" r="9.3"/><circle cx="2236" cy="163" r="9.3"/><circle cx="1968" cy="340" r="9.3"/><circle cx="1758" cy="207" r="9.3"/><circle cx="2088" cy="209" r="9.3"/><circle cx="629" cy="152" r="9.3"/><circle cx="1437" cy="189" r="9.3"/><circle cx="1820" cy="159" r="9.3"/><circle cx="2233" cy="215" r="9.3"/><circle cx="1856" cy="160" r="9.3"/><circle cx="1308" cy="199" r="9.3"/><circle cx="1169" cy="222" r="9.3"/><circle cx="2403" cy="174" r="9.3"/><circle cx="2119" cy="251" r="9.3"/><circle cx="765" cy="222" r="9.3"/><circle cx="667" cy="249" r="9.3"/><circle cx="1986" cy="335" r="9.3"/><circle cx="2586" cy="221" r="9.3"/><circle cx="2377" cy="303" r="9.3"/><circle cx="2423" cy="213" r="9.3"/><circle cx="563" cy="316" r="9.3"/><circle cx="2266" cy="194" r="9.3"/><circle cx="2265" cy="209" r="9.3"/><circle cx="2017" cy="155" r="9.3"/><circle cx="2040" cy="157" r="9.3"/><circle cx="2423" cy="217" r="9.3"/><circle cx="2073" cy="195" r="9.3"/><circle cx="2137" cy="193" r="9.3"/><circle cx="2507" cy="159" r="9.3"/><circle cx="634" cy="170" r="9.3"/><circle cx="2416" cy="175" r="9.3"/><circle cx="1152" cy="186" r="9.3"/><circle cx="2452" cy="238" r="9.3"/><circle cx="2137" cy="158" r="9.3"/><circle cx="541" cy="164" r="9.3"/><circle cx="2475" cy="215" r="9.3"/><circle cx="2366" cy="217" r="9.3"/><circle cx="2451" cy="187" r="9.3"/><circle cx="1375" cy="159" r="9.3"/><circle cx="2410" cy="254" r="9.3"/><circle cx="1608" cy="167" r="9.3"/><circle cx="584" cy="181" r="9.3"/><circle cx="2340" cy="174" r="9.3"/><circle cx="2238" cy="221" r="9.3"/><circle cx="2479" cy="317" r="9.3"/><circle cx="1214" cy="238" r="9.3"/><circle cx="776" cy="219" r="9.3"/><circle cx="2271" cy="166" r="9.3"/><circle cx="1278" cy="180" r="9.3"/><circle cx="2108" cy="260" r="9.3"/><circle cx="2167" cy="198" r="9.3"/><circle cx="1765" cy="165" r="9.3"/><circle cx="1582" cy="161" r="9.3"/><circle cx="1999" cy="206" r="9.3"/><circle cx="1289" cy="343" r="9.3"/><circle cx="2548" cy="212" r="9.3"/><circle cx="642" cy="179" r="9.3"/><circle cx="1647" cy="199" r="9.3"/><circle cx="2280" cy="158" r="9.3"/><circle cx="1884" cy="196" r="9.3"/><circle cx="1642" cy="198" r="9.3"/><circle cx="2277" cy="196" r="9.3"/><circle cx="1113" cy="171" r="9.3"/><circle cx="805" cy="226" r="9.3"/><circle cx="2206" cy="162" r="9.3"/><circle cx="1256" cy="185" r="9.3"/><circle cx="1604" cy="197" r="9.3"/><circle cx="1754" cy="189" r="9.3"/><circle cx="993" cy="181" r="9.3"/><circle cx="1602" cy="173" r="9.3"/><circle cx="1400" cy="171" r="9.3"/><circle cx="2290" cy="159" r="9.3"/><circle cx="2404" cy="268" r="9.3"/><circle cx="1273" cy="190" r="9.3"/><circle cx="2128" cy="196" r="9.3"/><circle cx="1932" cy="187" r="9.3"/><circle cx="2074" cy="296" r="9.3"/><circle cx="1003" cy="204" r="9.3"/><circle cx="963" cy="170" r="9.3"/><circle cx="1914" cy="199" r="9.3"/><circle cx="2250" cy="214" r="9.3"/><circle cx="2407" cy="164" r="9.3"/><circle cx="2400" cy="213" r="9.3"/><circle cx="2369" cy="261" r="9.3"/><circle cx="1376" cy="193" r="9.3"/><circle cx="2069" cy="201" r="9.3"/><circle cx="2461" cy="209" r="9.3"/><circle cx="2055" cy="213" r="9.3"/><circle cx="2150" cy="175" r="9.3"/><circle cx="2211" cy="231" r="9.3"/><circle cx="2408" cy="236" r="9.3"/><circle cx="2203" cy="236" r="9.3"/><circle cx="1736" cy="184" r="9.3"/><circle cx="2231" cy="198" r="9.3"/><circle cx="2128" cy="330" r="9.3"/><circle cx="2174" cy="279" r="9.3"/><circle cx="633" cy="180" r="9.3"/><circle cx="726" cy="209" r="9.3"/><circle cx="2175" cy="209" r="9.3"/><circle cx="579" cy="164" r="9.3"/><circle cx="2184" cy="208" r="9.3"/><circle cx="2238" cy="174" r="9.3"/><circle cx="2642" cy="242" r="9.3"/><circle cx="2021" cy="196" r="9.3"/><circle cx="2406" cy="229" r="9.3"/><circle cx="1564" cy="169" r="9.3"/><circle cx="1675" cy="176" r="9.3"/><circle cx="2001" cy="347" r="9.3"/><circle cx="2481" cy="177" r="9.3"/><circle cx="2539" cy="202" r="9.3"/><circle cx="1573" cy="164" r="9.3"/><circle cx="2369" cy="175" r="9.3"/><circle cx="1213" cy="195" r="9.3"/><circle cx="1535" cy="195" r="9.3"/><circle cx="2029" cy="328" r="9.3"/><circle cx="2212" cy="158" r="9.3"/><circle cx="1322" cy="308" r="9.3"/><circle cx="1652" cy="172" r="9.3"/><circle cx="1183" cy="218" r="9.3"/><circle cx="1050" cy="177" r="9.3"/><circle cx="2349" cy="161" r="9.3"/><circle cx="1890" cy="182" r="9.3"/><circle cx="2239" cy="221" r="9.3"/><circle cx="2408" cy="212" r="9.3"/><circle cx="1662" cy="224" r="9.3"/><circle cx="1913" cy="189" r="9.3"/><circle cx="2125" cy="329" r="9.3"/><circle cx="644" cy="203" r="9.3"/><circle cx="630" cy="186" r="9.3"/><circle cx="2233" cy="165" r="9.3"/><circle cx="2009" cy="281" r="9.3"/><circle cx="2209" cy="217" r="9.3"/><circle cx="2567" cy="165" r="9.3"/><circle cx="2372" cy="167" r="9.3"/><circle cx="1320" cy="337" r="9.3"/><circle cx="2311" cy="259" r="9.3"/><circle cx="2404" cy="337" r="9.3"/><circle cx="1334" cy="163" r="9.3"/><circle cx="2283" cy="209" r="9.3"/><circle cx="2200" cy="172" r="9.3"/><circle cx="1157" cy="226" r="9.3"/><circle cx="2205" cy="239" r="9.3"/><circle cx="722" cy="172" r="9.3"/><circle cx="2640" cy="187" r="9.3"/><circle cx="1584" cy="166" r="9.3"/><circle cx="1254" cy="308" r="9.3"/><circle cx="1350" cy="215" r="9.3"/><circle cx="2380" cy="219" r="9.3"/><circle cx="971" cy="189" r="9.3"/></g>
<g class="sC"><circle cx="1020" cy="150" r="9.3"/><circle cx="2139" cy="149" r="9.3"/><circle cx="615" cy="322" r="9.3"/><circle cx="1163" cy="182" r="9.3"/><circle cx="807" cy="184" r="9.3"/><circle cx="870" cy="274" r="9.3"/></g>
<g class="sP"><circle cx="2212" cy="160" r="9.3"/><circle cx="2332" cy="192" r="9.3"/><circle cx="1883" cy="174" r="9.3"/><circle cx="1405" cy="175" r="9.3"/><circle cx="1274" cy="248" r="9.3"/><circle cx="1253" cy="190" r="9.3"/><circle cx="1936" cy="174" r="9.3"/><circle cx="1679" cy="167" r="9.3"/><circle cx="2198" cy="248" r="9.3"/><circle cx="1373" cy="169" r="9.3"/><circle cx="1499" cy="159" r="9.3"/><circle cx="2158" cy="172" r="9.3"/><circle cx="1889" cy="194" r="9.3"/><circle cx="667" cy="185" r="9.3"/><circle cx="1751" cy="174" r="9.3"/><circle cx="2104" cy="198" r="9.3"/><circle cx="1862" cy="200" r="9.3"/><circle cx="1305" cy="160" r="9.3"/><circle cx="2038" cy="174" r="9.3"/><circle cx="1433" cy="173" r="9.3"/><circle cx="1907" cy="203" r="9.3"/><circle cx="1824" cy="168" r="9.3"/><circle cx="2060" cy="181" r="9.3"/><circle cx="1382" cy="172" r="9.3"/><circle cx="2209" cy="198" r="9.3"/><circle cx="1166" cy="169" r="9.3"/><circle cx="1899" cy="165" r="9.3"/><circle cx="1212" cy="227" r="9.3"/><circle cx="1951" cy="208" r="9.3"/><circle cx="1768" cy="191" r="9.3"/><circle cx="1192" cy="218" r="9.3"/><circle cx="1808" cy="165" r="9.3"/><circle cx="1675" cy="201" r="9.3"/><circle cx="1727" cy="174" r="9.3"/><circle cx="1839" cy="165" r="9.3"/><circle cx="1201" cy="209" r="9.3"/><circle cx="1894" cy="202" r="9.3"/><circle cx="1234" cy="203" r="9.3"/><circle cx="1698" cy="174" r="9.3"/><circle cx="1699" cy="176" r="9.3"/><circle cx="1995" cy="329" r="9.3"/><circle cx="1782" cy="208" r="9.3"/><circle cx="2020" cy="198" r="9.3"/><circle cx="2114" cy="206" r="9.3"/><circle cx="2347" cy="162" r="9.3"/><circle cx="1790" cy="194" r="9.3"/><circle cx="1884" cy="174" r="9.3"/><circle cx="1935" cy="179" r="9.3"/><circle cx="2335" cy="173" r="9.3"/><circle cx="2061" cy="158" r="9.3"/><circle cx="1627" cy="175" r="9.3"/><circle cx="1909" cy="165" r="9.3"/><circle cx="2412" cy="169" r="9.3"/><circle cx="2058" cy="295" r="9.3"/><circle cx="1201" cy="187" r="9.3"/><circle cx="1682" cy="169" r="9.3"/><circle cx="1988" cy="166" r="9.3"/><circle cx="1270" cy="326" r="9.3"/><circle cx="2240" cy="258" r="9.3"/><circle cx="1315" cy="177" r="9.3"/><circle cx="1557" cy="163" r="9.3"/><circle cx="1453" cy="201" r="9.3"/><circle cx="2340" cy="168" r="9.3"/><circle cx="2326" cy="172" r="9.3"/><circle cx="657" cy="180" r="9.3"/><circle cx="1636" cy="164" r="9.3"/><circle cx="1393" cy="182" r="9.3"/><circle cx="2277" cy="160" r="9.3"/><circle cx="1898" cy="166" r="9.3"/><circle cx="1501" cy="160" r="9.3"/><circle cx="1601" cy="196" r="9.3"/><circle cx="1345" cy="244" r="9.3"/><circle cx="2180" cy="168" r="9.3"/><circle cx="1289" cy="344" r="9.3"/><circle cx="1271" cy="166" r="9.3"/><circle cx="1805" cy="167" r="9.3"/><circle cx="1899" cy="177" r="9.3"/><circle cx="1919" cy="211" r="9.3"/><circle cx="1391" cy="185" r="9.3"/><circle cx="707" cy="224" r="9.3"/><circle cx="2334" cy="178" r="9.3"/><circle cx="1229" cy="168" r="9.3"/><circle cx="2036" cy="161" r="9.3"/><circle cx="1770" cy="165" r="9.3"/><circle cx="1367" cy="169" r="9.3"/><circle cx="2238" cy="178" r="9.3"/><circle cx="1411" cy="212" r="9.3"/><circle cx="1394" cy="168" r="9.3"/><circle cx="1831" cy="225" r="9.3"/><circle cx="721" cy="244" r="9.3"/><circle cx="2158" cy="254" r="9.3"/><circle cx="1615" cy="184" r="9.3"/><circle cx="1964" cy="163" r="9.3"/><circle cx="1172" cy="173" r="9.3"/><circle cx="1361" cy="168" r="9.3"/><circle cx="2100" cy="209" r="9.3"/><circle cx="2092" cy="163" r="9.3"/><circle cx="1801" cy="202" r="9.3"/><circle cx="1346" cy="179" r="9.3"/><circle cx="1807" cy="173" r="9.3"/><circle cx="1221" cy="163" r="9.3"/><circle cx="2020" cy="167" r="9.3"/><circle cx="2451" cy="174" r="9.3"/><circle cx="1602" cy="173" r="9.3"/><circle cx="1951" cy="180" r="9.3"/><circle cx="1567" cy="166" r="9.3"/><circle cx="1840" cy="187" r="9.3"/><circle cx="1191" cy="174" r="9.3"/><circle cx="1407" cy="165" r="9.3"/><circle cx="1153" cy="163" r="9.3"/><circle cx="2251" cy="183" r="9.3"/><circle cx="2213" cy="179" r="9.3"/><circle cx="1540" cy="168" r="9.3"/><circle cx="2061" cy="196" r="9.3"/><circle cx="1751" cy="169" r="9.3"/><circle cx="1906" cy="180" r="9.3"/><circle cx="1274" cy="269" r="9.3"/><circle cx="777" cy="196" r="9.3"/><circle cx="2347" cy="184" r="9.3"/><circle cx="1032" cy="191" r="9.3"/><circle cx="1575" cy="180" r="9.3"/><circle cx="1670" cy="166" r="9.3"/><circle cx="2085" cy="156" r="9.3"/><circle cx="1829" cy="195" r="9.3"/><circle cx="1435" cy="189" r="9.3"/><circle cx="1687" cy="180" r="9.3"/><circle cx="1752" cy="184" r="9.3"/><circle cx="1576" cy="183" r="9.3"/><circle cx="2120" cy="198" r="9.3"/><circle cx="1706" cy="180" r="9.3"/><circle cx="1361" cy="178" r="9.3"/><circle cx="1732" cy="168" r="9.3"/><circle cx="1727" cy="199" r="9.3"/><circle cx="772" cy="193" r="9.3"/><circle cx="1655" cy="173" r="9.3"/><circle cx="654" cy="178" r="9.3"/><circle cx="2057" cy="156" r="9.3"/><circle cx="1952" cy="189" r="9.3"/><circle cx="1841" cy="172" r="9.3"/><circle cx="2256" cy="160" r="9.3"/><circle cx="1445" cy="159" r="9.3"/><circle cx="1535" cy="196" r="9.3"/><circle cx="1308" cy="159" r="9.3"/><circle cx="1759" cy="189" r="9.3"/><circle cx="1528" cy="172" r="9.3"/><circle cx="2186" cy="180" r="9.3"/><circle cx="1571" cy="176" r="9.3"/><circle cx="1870" cy="172" r="9.3"/><circle cx="2062" cy="193" r="9.3"/><circle cx="1296" cy="191" r="9.3"/><circle cx="1737" cy="171" r="9.3"/><circle cx="1186" cy="166" r="9.3"/><circle cx="1925" cy="172" r="9.3"/><circle cx="1861" cy="165" r="9.3"/><circle cx="1816" cy="173" r="9.3"/><circle cx="1711" cy="166" r="9.3"/><circle cx="1783" cy="157" r="9.3"/><circle cx="1402" cy="173" r="9.3"/><circle cx="2320" cy="162" r="9.3"/><circle cx="1340" cy="170" r="9.3"/><circle cx="1626" cy="169" r="9.3"/><circle cx="1206" cy="174" r="9.3"/><circle cx="2118" cy="319" r="9.3"/><circle cx="1578" cy="164" r="9.3"/><circle cx="1682" cy="173" r="9.3"/><circle cx="2210" cy="160" r="9.3"/><circle cx="2070" cy="211" r="9.3"/><circle cx="2143" cy="164" r="9.3"/><circle cx="1924" cy="160" r="9.3"/><circle cx="1751" cy="202" r="9.3"/><circle cx="1188" cy="163" r="9.3"/><circle cx="1818" cy="176" r="9.3"/><circle cx="2213" cy="218" r="9.3"/><circle cx="1912" cy="177" r="9.3"/><circle cx="1672" cy="173" r="9.3"/><circle cx="1349" cy="158" r="9.3"/><circle cx="1726" cy="181" r="9.3"/><circle cx="1138" cy="154" r="9.3"/><circle cx="1680" cy="175" r="9.3"/><circle cx="1620" cy="186" r="9.3"/><circle cx="1416" cy="161" r="9.3"/><circle cx="2143" cy="236" r="9.3"/><circle cx="1263" cy="172" r="9.3"/><circle cx="2081" cy="156" r="9.3"/><circle cx="1628" cy="161" r="9.3"/><circle cx="1292" cy="160" r="9.3"/><circle cx="1402" cy="163" r="9.3"/><circle cx="1295" cy="322" r="9.3"/><circle cx="1618" cy="170" r="9.3"/><circle cx="1671" cy="181" r="9.3"/><circle cx="1314" cy="180" r="9.3"/><circle cx="1276" cy="263" r="9.3"/><circle cx="1551" cy="174" r="9.3"/><circle cx="1295" cy="179" r="9.3"/><circle cx="1360" cy="173" r="9.3"/><circle cx="2198" cy="159" r="9.3"/><circle cx="1828" cy="161" r="9.3"/><circle cx="1745" cy="196" r="9.3"/><circle cx="1774" cy="213" r="9.3"/><circle cx="645" cy="185" r="9.3"/><circle cx="1962" cy="175" r="9.3"/><circle cx="1885" cy="176" r="9.3"/><circle cx="1267" cy="203" r="9.3"/><circle cx="1624" cy="195" r="9.3"/><circle cx="1824" cy="171" r="9.3"/><circle cx="1638" cy="167" r="9.3"/><circle cx="1662" cy="169" r="9.3"/><circle cx="1996" cy="173" r="9.3"/><circle cx="1343" cy="172" r="9.3"/><circle cx="1458" cy="205" r="9.3"/><circle cx="1838" cy="168" r="9.3"/><circle cx="1267" cy="310" r="9.3"/><circle cx="1960" cy="167" r="9.3"/><circle cx="2098" cy="161" r="9.3"/><circle cx="1148" cy="186" r="9.3"/><circle cx="1242" cy="169" r="9.3"/><circle cx="1760" cy="174" r="9.3"/><circle cx="2076" cy="172" r="9.3"/><circle cx="1718" cy="173" r="9.3"/><circle cx="1426" cy="203" r="9.3"/><circle cx="2238" cy="190" r="9.3"/><circle cx="1340" cy="166" r="9.3"/><circle cx="1953" cy="165" r="9.3"/><circle cx="1992" cy="165" r="9.3"/></g>
<g class="sV"><circle cx="2023" cy="302" r="9.3"/><circle cx="2031" cy="308" r="9.3"/><circle cx="453" cy="159" r="9.3"/><circle cx="651" cy="428" r="9.3"/><circle cx="1269" cy="208" r="9.3"/><circle cx="1868" cy="636" r="9.3"/><circle cx="2057" cy="257" r="9.3"/><circle cx="2239" cy="159" r="9.3"/><circle cx="2497" cy="155" r="9.3"/><circle cx="2116" cy="228" r="9.3"/><circle cx="2497" cy="190" r="9.3"/><circle cx="1075" cy="173" r="9.3"/><circle cx="2186" cy="302" r="9.3"/><circle cx="2283" cy="163" r="9.3"/><circle cx="412" cy="246" r="9.3"/><circle cx="1995" cy="460" r="9.3"/><circle cx="559" cy="191" r="9.3"/><circle cx="546" cy="320" r="9.3"/><circle cx="1226" cy="305" r="9.3"/><circle cx="1063" cy="245" r="9.3"/><circle cx="2413" cy="154" r="9.3"/><circle cx="1149" cy="234" r="9.3"/><circle cx="1060" cy="208" r="9.3"/><circle cx="2057" cy="383" r="9.3"/><circle cx="2100" cy="218" r="9.3"/><circle cx="2003" cy="267" r="9.3"/><circle cx="2320" cy="162" r="9.3"/><circle cx="2192" cy="247" r="9.3"/><circle cx="1858" cy="464" r="9.3"/><circle cx="2148" cy="160" r="9.3"/><circle cx="1867" cy="602" r="9.3"/><circle cx="483" cy="201" r="9.3"/><circle cx="2286" cy="184" r="9.3"/><circle cx="2889" cy="327" r="9.3"/><circle cx="480" cy="316" r="9.3"/><circle cx="2659" cy="197" r="9.3"/><circle cx="633" cy="408" r="9.3"/><circle cx="542" cy="189" r="9.3"/><circle cx="520" cy="176" r="9.3"/><circle cx="2203" cy="218" r="9.3"/><circle cx="3194" cy="413" r="9.3"/><circle cx="2510" cy="161" r="9.3"/><circle cx="465" cy="173" r="9.3"/><circle cx="1085" cy="217" r="9.3"/><circle cx="2012" cy="356" r="9.3"/><circle cx="883" cy="275" r="9.3"/><circle cx="2549" cy="176" r="9.3"/><circle cx="1076" cy="212" r="9.3"/><circle cx="784" cy="237" r="9.3"/><circle cx="1822" cy="572" r="9.3"/><circle cx="1127" cy="195" r="9.3"/><circle cx="1254" cy="190" r="9.3"/><circle cx="2236" cy="198" r="9.3"/><circle cx="471" cy="157" r="9.3"/><circle cx="1131" cy="240" r="9.3"/><circle cx="2158" cy="193" r="9.3"/><circle cx="1039" cy="195" r="9.3"/><circle cx="2035" cy="168" r="9.3"/><circle cx="1518" cy="197" r="9.3"/><circle cx="2122" cy="232" r="9.3"/><circle cx="1819" cy="529" r="9.3"/><circle cx="530" cy="154" r="9.3"/><circle cx="999" cy="285" r="9.3"/><circle cx="2767" cy="152" r="9.3"/><circle cx="2435" cy="330" r="9.3"/><circle cx="1845" cy="643" r="9.3"/><circle cx="547" cy="154" r="9.3"/><circle cx="2343" cy="199" r="9.3"/><circle cx="496" cy="175" r="9.3"/><circle cx="2325" cy="176" r="9.3"/><circle cx="2259" cy="501" r="9.3"/><circle cx="1917" cy="529" r="9.3"/><circle cx="1809" cy="682" r="9.3"/><circle cx="1074" cy="244" r="9.3"/><circle cx="2246" cy="228" r="9.3"/></g>
<g class="sM"><circle cx="2618" cy="876" r="9.3"/><circle cx="828" cy="285" r="9.3"/><circle cx="959" cy="428" r="9.3"/></g>
<g class="sC"><circle cx="1064" cy="238" r="9.3"/><circle cx="765" cy="172" r="9.3"/><circle cx="1671" cy="208" r="9.3"/><circle cx="1097" cy="170" r="9.3"/><circle cx="862" cy="300" r="9.3"/><circle cx="2018" cy="363" r="9.3"/></g>
<g class="sV"><circle cx="493" cy="253" r="9.3"/><circle cx="495" cy="205" r="9.3"/><circle cx="649" cy="391" r="9.3"/><circle cx="546" cy="185" r="9.3"/><circle cx="1084" cy="214" r="9.3"/><circle cx="561" cy="153" r="9.3"/><circle cx="2304" cy="165" r="9.3"/><circle cx="560" cy="178" r="9.3"/><circle cx="1320" cy="291" r="9.3"/><circle cx="2195" cy="185" r="9.3"/><circle cx="2558" cy="165" r="9.3"/><circle cx="1313" cy="225" r="9.3"/><circle cx="2128" cy="187" r="9.3"/><circle cx="2170" cy="167" r="9.3"/><circle cx="2158" cy="241" r="9.3"/><circle cx="2585" cy="227" r="9.3"/><circle cx="2241" cy="156" r="9.3"/><circle cx="2719" cy="383" r="9.3"/><circle cx="1049" cy="240" r="9.3"/><circle cx="2205" cy="184" r="9.3"/><circle cx="1268" cy="238" r="9.3"/><circle cx="2112" cy="183" r="9.3"/><circle cx="1686" cy="186" r="9.3"/><circle cx="1270" cy="228" r="9.3"/><circle cx="464" cy="188" r="9.3"/><circle cx="2074" cy="218" r="9.3"/><circle cx="2307" cy="233" r="9.3"/><circle cx="2212" cy="179" r="9.3"/><circle cx="560" cy="154" r="9.3"/><circle cx="2194" cy="231" r="9.3"/><circle cx="1819" cy="615" r="9.3"/><circle cx="561" cy="154" r="9.3"/><circle cx="2331" cy="172" r="9.3"/><circle cx="1882" cy="207" r="9.3"/><circle cx="2240" cy="222" r="9.3"/><circle cx="2167" cy="207" r="9.3"/><circle cx="485" cy="255" r="9.3"/><circle cx="1935" cy="579" r="9.3"/><circle cx="461" cy="180" r="9.3"/><circle cx="1273" cy="217" r="9.3"/><circle cx="2217" cy="173" r="9.3"/><circle cx="930" cy="258" r="9.3"/><circle cx="1032" cy="248" r="9.3"/><circle cx="2030" cy="158" r="9.3"/><circle cx="1807" cy="602" r="9.3"/><circle cx="2358" cy="184" r="9.3"/><circle cx="1829" cy="501" r="9.3"/><circle cx="529" cy="168" r="9.3"/><circle cx="1832" cy="591" r="9.3"/><circle cx="2105" cy="162" r="9.3"/><circle cx="540" cy="160" r="9.3"/><circle cx="2084" cy="204" r="9.3"/><circle cx="1196" cy="192" r="9.3"/><circle cx="1167" cy="222" r="9.3"/><circle cx="2275" cy="227" r="9.3"/><circle cx="2106" cy="255" r="9.3"/><circle cx="542" cy="154" r="9.3"/><circle cx="2234" cy="186" r="9.3"/><circle cx="547" cy="182" r="9.3"/><circle cx="597" cy="235" r="9.3"/><circle cx="2263" cy="172" r="9.3"/><circle cx="477" cy="171" r="9.3"/><circle cx="463" cy="163" r="9.3"/><circle cx="504" cy="238" r="9.3"/><circle cx="1317" cy="289" r="9.3"/><circle cx="2198" cy="543" r="9.3"/><circle cx="1812" cy="528" r="9.3"/><circle cx="2197" cy="498" r="9.3"/><circle cx="2663" cy="179" r="9.3"/><circle cx="1918" cy="487" r="9.3"/><circle cx="1845" cy="638" r="9.3"/><circle cx="2020" cy="173" r="9.3"/><circle cx="3183" cy="338" r="9.3"/><circle cx="577" cy="181" r="9.3"/><circle cx="466" cy="170" r="9.3"/><circle cx="2319" cy="157" r="9.3"/></g>
<g class="sG"><circle cx="2485" cy="232" r="9.3"/><circle cx="2469" cy="351" r="9.3"/><circle cx="2399" cy="203" r="9.3"/><circle cx="763" cy="208" r="9.3"/><circle cx="1656" cy="200" r="9.3"/><circle cx="2476" cy="164" r="9.3"/><circle cx="746" cy="272" r="9.3"/><circle cx="2316" cy="179" r="9.3"/><circle cx="2315" cy="154" r="9.3"/><circle cx="1217" cy="222" r="9.3"/><circle cx="2180" cy="215" r="9.3"/><circle cx="2222" cy="219" r="9.3"/><circle cx="1256" cy="170" r="9.3"/><circle cx="2283" cy="161" r="9.3"/><circle cx="2443" cy="268" r="9.3"/><circle cx="2075" cy="212" r="9.3"/><circle cx="1183" cy="221" r="9.3"/><circle cx="2187" cy="229" r="9.3"/><circle cx="2228" cy="166" r="9.3"/><circle cx="2482" cy="255" r="9.3"/><circle cx="1271" cy="209" r="9.3"/><circle cx="2501" cy="186" r="9.3"/><circle cx="1251" cy="197" r="9.3"/><circle cx="2293" cy="202" r="9.3"/><circle cx="754" cy="245" r="9.3"/><circle cx="1337" cy="198" r="9.3"/><circle cx="1423" cy="158" r="9.3"/><circle cx="2284" cy="228" r="9.3"/><circle cx="534" cy="210" r="9.3"/><circle cx="1030" cy="172" r="9.3"/><circle cx="2431" cy="206" r="9.3"/><circle cx="2248" cy="161" r="9.3"/><circle cx="1228" cy="357" r="9.3"/><circle cx="2013" cy="335" r="9.3"/><circle cx="1804" cy="206" r="9.3"/><circle cx="2436" cy="170" r="9.3"/><circle cx="2055" cy="190" r="9.3"/><circle cx="1249" cy="168" r="9.3"/><circle cx="2330" cy="160" r="9.3"/><circle cx="1252" cy="199" r="9.3"/><circle cx="2290" cy="316" r="9.3"/><circle cx="2297" cy="258" r="9.3"/><circle cx="2216" cy="211" r="9.3"/><circle cx="2260" cy="155" r="9.3"/><circle cx="2222" cy="183" r="9.3"/><circle cx="1308" cy="174" r="9.3"/><circle cx="2001" cy="208" r="9.3"/><circle cx="1369" cy="195" r="9.3"/><circle cx="1286" cy="287" r="9.3"/><circle cx="2655" cy="249" r="9.3"/><circle cx="1051" cy="159" r="9.3"/><circle cx="2223" cy="209" r="9.3"/><circle cx="730" cy="167" r="9.3"/><circle cx="2418" cy="189" r="9.3"/><circle cx="1348" cy="165" r="9.3"/><circle cx="2330" cy="205" r="9.3"/><circle cx="2506" cy="229" r="9.3"/><circle cx="1220" cy="362" r="9.3"/><circle cx="1716" cy="206" r="9.3"/><circle cx="2163" cy="221" r="9.3"/><circle cx="1532" cy="171" r="9.3"/><circle cx="1204" cy="180" r="9.3"/><circle cx="2109" cy="313" r="9.3"/><circle cx="2073" cy="267" r="9.3"/><circle cx="1127" cy="218" r="9.3"/><circle cx="2261" cy="203" r="9.3"/><circle cx="624" cy="168" r="9.3"/><circle cx="1401" cy="176" r="9.3"/><circle cx="2211" cy="221" r="9.3"/><circle cx="1244" cy="163" r="9.3"/><circle cx="1233" cy="221" r="9.3"/><circle cx="2195" cy="194" r="9.3"/><circle cx="2197" cy="270" r="9.3"/><circle cx="2215" cy="200" r="9.3"/><circle cx="1713" cy="171" r="9.3"/><circle cx="1354" cy="210" r="9.3"/><circle cx="1998" cy="165" r="9.3"/><circle cx="2416" cy="276" r="9.3"/><circle cx="2035" cy="185" r="9.3"/><circle cx="1376" cy="196" r="9.3"/><circle cx="2478" cy="187" r="9.3"/><circle cx="1073" cy="325" r="9.3"/><circle cx="2402" cy="164" r="9.3"/><circle cx="1859" cy="228" r="9.3"/><circle cx="1291" cy="174" r="9.3"/><circle cx="1337" cy="324" r="9.3"/><circle cx="2008" cy="165" r="9.3"/><circle cx="2197" cy="173" r="9.3"/><circle cx="2446" cy="229" r="9.3"/><circle cx="2314" cy="165" r="9.3"/><circle cx="792" cy="206" r="9.3"/><circle cx="1178" cy="242" r="9.3"/><circle cx="2455" cy="164" r="9.3"/><circle cx="2259" cy="202" r="9.3"/><circle cx="1668" cy="218" r="9.3"/><circle cx="2121" cy="270" r="9.3"/><circle cx="1284" cy="166" r="9.3"/><circle cx="1923" cy="161" r="9.3"/><circle cx="1179" cy="189" r="9.3"/><circle cx="1211" cy="245" r="9.3"/><circle cx="2390" cy="213" r="9.3"/><circle cx="2124" cy="267" r="9.3"/><circle cx="2443" cy="170" r="9.3"/><circle cx="2108" cy="227" r="9.3"/><circle cx="1718" cy="175" r="9.3"/><circle cx="2434" cy="203" r="9.3"/><circle cx="1907" cy="183" r="9.3"/><circle cx="2258" cy="161" r="9.3"/><circle cx="2254" cy="293" r="9.3"/><circle cx="1055" cy="162" r="9.3"/><circle cx="2165" cy="224" r="9.3"/><circle cx="2522" cy="165" r="9.3"/><circle cx="1793" cy="582" r="9.3"/><circle cx="1580" cy="180" r="9.3"/><circle cx="2497" cy="208" r="9.3"/><circle cx="2208" cy="221" r="9.3"/><circle cx="2531" cy="176" r="9.3"/><circle cx="2435" cy="196" r="9.3"/><circle cx="2347" cy="161" r="9.3"/><circle cx="2584" cy="164" r="9.3"/><circle cx="2289" cy="166" r="9.3"/><circle cx="2298" cy="186" r="9.3"/><circle cx="1304" cy="208" r="9.3"/><circle cx="2413" cy="164" r="9.3"/><circle cx="1363" cy="192" r="9.3"/><circle cx="1013" cy="189" r="9.3"/><circle cx="532" cy="182" r="9.3"/><circle cx="2296" cy="193" r="9.3"/><circle cx="2171" cy="301" r="9.3"/><circle cx="2373" cy="185" r="9.3"/><circle cx="2381" cy="249" r="9.3"/><circle cx="1272" cy="204" r="9.3"/><circle cx="2475" cy="199" r="9.3"/><circle cx="2417" cy="214" r="9.3"/><circle cx="2271" cy="257" r="9.3"/><circle cx="1851" cy="217" r="9.3"/><circle cx="2248" cy="170" r="9.3"/><circle cx="1284" cy="316" r="9.3"/><circle cx="1625" cy="182" r="9.3"/><circle cx="2355" cy="219" r="9.3"/><circle cx="2321" cy="165" r="9.3"/><circle cx="2404" cy="158" r="9.3"/><circle cx="2299" cy="220" r="9.3"/><circle cx="1020" cy="185" r="9.3"/><circle cx="2578" cy="178" r="9.3"/><circle cx="2214" cy="174" r="9.3"/><circle cx="2264" cy="179" r="9.3"/><circle cx="2213" cy="177" r="9.3"/><circle cx="1030" cy="229" r="9.3"/><circle cx="2416" cy="234" r="9.3"/><circle cx="1025" cy="247" r="9.3"/><circle cx="1309" cy="212" r="9.3"/><circle cx="1364" cy="196" r="9.3"/><circle cx="2038" cy="274" r="9.3"/><circle cx="2269" cy="161" r="9.3"/><circle cx="2644" cy="211" r="9.3"/><circle cx="2466" cy="278" r="9.3"/><circle cx="2438" cy="156" r="9.3"/><circle cx="1086" cy="260" r="9.3"/><circle cx="2312" cy="345" r="9.3"/><circle cx="2198" cy="280" r="9.3"/><circle cx="2298" cy="217" r="9.3"/><circle cx="1552" cy="187" r="9.3"/><circle cx="1852" cy="161" r="9.3"/><circle cx="1864" cy="177" r="9.3"/><circle cx="632" cy="189" r="9.3"/><circle cx="2218" cy="181" r="9.3"/><circle cx="2248" cy="315" r="9.3"/><circle cx="790" cy="212" r="9.3"/><circle cx="1976" cy="312" r="9.3"/><circle cx="672" cy="151" r="9.3"/><circle cx="2237" cy="215" r="9.3"/><circle cx="2151" cy="315" r="9.3"/><circle cx="1430" cy="207" r="9.3"/><circle cx="1139" cy="267" r="9.3"/><circle cx="2011" cy="314" r="9.3"/><circle cx="2467" cy="283" r="9.3"/><circle cx="1352" cy="161" r="9.3"/><circle cx="1945" cy="166" r="9.3"/><circle cx="2348" cy="194" r="9.3"/><circle cx="2070" cy="267" r="9.3"/><circle cx="1949" cy="182" r="9.3"/><circle cx="2078" cy="241" r="9.3"/><circle cx="2383" cy="206" r="9.3"/><circle cx="2319" cy="220" r="9.3"/><circle cx="2172" cy="183" r="9.3"/><circle cx="1867" cy="182" r="9.3"/><circle cx="1615" cy="186" r="9.3"/><circle cx="2349" cy="163" r="9.3"/><circle cx="2040" cy="235" r="9.3"/></g>
<g class="sP"><circle cx="1851" cy="181" r="9.3"/><circle cx="2155" cy="179" r="9.3"/><circle cx="1382" cy="197" r="9.3"/><circle cx="1812" cy="176" r="9.3"/><circle cx="2167" cy="295" r="9.3"/><circle cx="2045" cy="289" r="9.3"/><circle cx="1911" cy="191" r="9.3"/><circle cx="1466" cy="170" r="9.3"/><circle cx="2327" cy="180" r="9.3"/><circle cx="2144" cy="183" r="9.3"/><circle cx="1391" cy="171" r="9.3"/><circle cx="1250" cy="158" r="9.3"/><circle cx="2026" cy="163" r="9.3"/><circle cx="1979" cy="305" r="9.3"/><circle cx="1879" cy="165" r="9.3"/><circle cx="1942" cy="184" r="9.3"/><circle cx="1430" cy="164" r="9.3"/><circle cx="1857" cy="170" r="9.3"/><circle cx="1616" cy="175" r="9.3"/><circle cx="1262" cy="176" r="9.3"/><circle cx="2198" cy="165" r="9.3"/><circle cx="1862" cy="164" r="9.3"/><circle cx="1621" cy="167" r="9.3"/><circle cx="1941" cy="175" r="9.3"/><circle cx="1535" cy="197" r="9.3"/><circle cx="1324" cy="216" r="9.3"/><circle cx="2189" cy="190" r="9.3"/><circle cx="2211" cy="157" r="9.3"/><circle cx="2108" cy="174" r="9.3"/><circle cx="1490" cy="178" r="9.3"/><circle cx="1741" cy="174" r="9.3"/><circle cx="2085" cy="265" r="9.3"/><circle cx="1715" cy="158" r="9.3"/><circle cx="1280" cy="173" r="9.3"/><circle cx="1305" cy="215" r="9.3"/><circle cx="1904" cy="168" r="9.3"/><circle cx="1584" cy="164" r="9.3"/><circle cx="1249" cy="159" r="9.3"/><circle cx="1608" cy="169" r="9.3"/><circle cx="1245" cy="167" r="9.3"/><circle cx="2408" cy="186" r="9.3"/><circle cx="1136" cy="159" r="9.3"/><circle cx="2042" cy="176" r="9.3"/><circle cx="1695" cy="179" r="9.3"/><circle cx="1709" cy="167" r="9.3"/><circle cx="1774" cy="162" r="9.3"/><circle cx="1361" cy="171" r="9.3"/><circle cx="1688" cy="174" r="9.3"/><circle cx="1847" cy="179" r="9.3"/><circle cx="1736" cy="178" r="9.3"/><circle cx="1182" cy="168" r="9.3"/><circle cx="1877" cy="176" r="9.3"/><circle cx="1733" cy="180" r="9.3"/><circle cx="1257" cy="237" r="9.3"/><circle cx="1519" cy="158" r="9.3"/><circle cx="1799" cy="171" r="9.3"/><circle cx="1773" cy="174" r="9.3"/><circle cx="1422" cy="158" r="9.3"/><circle cx="1194" cy="216" r="9.3"/><circle cx="1716" cy="175" r="9.3"/><circle cx="1829" cy="195" r="9.3"/><circle cx="1662" cy="179" r="9.3"/><circle cx="1802" cy="188" r="9.3"/><circle cx="2248" cy="158" r="9.3"/><circle cx="1928" cy="176" r="9.3"/><circle cx="1682" cy="208" r="9.3"/><circle cx="1956" cy="197" r="9.3"/><circle cx="1352" cy="162" r="9.3"/><circle cx="2029" cy="168" r="9.3"/><circle cx="2191" cy="246" r="9.3"/><circle cx="2017" cy="181" r="9.3"/><circle cx="1593" cy="171" r="9.3"/><circle cx="1613" cy="186" r="9.3"/><circle cx="1986" cy="160" r="9.3"/><circle cx="1830" cy="161" r="9.3"/><circle cx="1945" cy="173" r="9.3"/><circle cx="1596" cy="165" r="9.3"/><circle cx="1272" cy="190" r="9.3"/><circle cx="1765" cy="177" r="9.3"/><circle cx="1214" cy="180" r="9.3"/><circle cx="1903" cy="170" r="9.3"/><circle cx="1133" cy="173" r="9.3"/><circle cx="1236" cy="188" r="9.3"/><circle cx="1823" cy="161" r="9.3"/><circle cx="2261" cy="299" r="9.3"/><circle cx="1979" cy="176" r="9.3"/><circle cx="1690" cy="170" r="9.3"/><circle cx="1239" cy="226" r="9.3"/><circle cx="1293" cy="246" r="9.3"/><circle cx="1859" cy="163" r="9.3"/><circle cx="1233" cy="175" r="9.3"/><circle cx="1699" cy="173" r="9.3"/><circle cx="1954" cy="173" r="9.3"/><circle cx="1835" cy="173" r="9.3"/><circle cx="2021" cy="197" r="9.3"/><circle cx="1593" cy="178" r="9.3"/><circle cx="1503" cy="169" r="9.3"/><circle cx="1890" cy="174" r="9.3"/><circle cx="1635" cy="163" r="9.3"/><circle cx="1745" cy="191" r="9.3"/><circle cx="1773" cy="163" r="9.3"/><circle cx="2073" cy="162" r="9.3"/><circle cx="1152" cy="165" r="9.3"/><circle cx="1237" cy="160" r="9.3"/><circle cx="2077" cy="222" r="9.3"/><circle cx="2447" cy="213" r="9.3"/><circle cx="2131" cy="160" r="9.3"/><circle cx="1524" cy="174" r="9.3"/><circle cx="1981" cy="166" r="9.3"/><circle cx="1654" cy="172" r="9.3"/><circle cx="1685" cy="192" r="9.3"/><circle cx="1917" cy="183" r="9.3"/><circle cx="2160" cy="209" r="9.3"/><circle cx="2282" cy="155" r="9.3"/><circle cx="1685" cy="222" r="9.3"/><circle cx="1233" cy="209" r="9.3"/><circle cx="1798" cy="158" r="9.3"/><circle cx="1713" cy="165" r="9.3"/><circle cx="1957" cy="201" r="9.3"/><circle cx="2075" cy="169" r="9.3"/><circle cx="1136" cy="188" r="9.3"/><circle cx="1828" cy="166" r="9.3"/><circle cx="1304" cy="228" r="9.3"/><circle cx="1808" cy="164" r="9.3"/><circle cx="1269" cy="165" r="9.3"/><circle cx="2021" cy="168" r="9.3"/><circle cx="2107" cy="172" r="9.3"/><circle cx="1896" cy="164" r="9.3"/><circle cx="1649" cy="184" r="9.3"/><circle cx="2086" cy="176" r="9.3"/><circle cx="1135" cy="158" r="9.3"/><circle cx="1376" cy="177" r="9.3"/><circle cx="1680" cy="172" r="9.3"/><circle cx="1460" cy="176" r="9.3"/><circle cx="2030" cy="315" r="9.3"/><circle cx="1409" cy="176" r="9.3"/><circle cx="1438" cy="178" r="9.3"/><circle cx="1619" cy="187" r="9.3"/><circle cx="1823" cy="169" r="9.3"/><circle cx="2315" cy="203" r="9.3"/><circle cx="1995" cy="179" r="9.3"/><circle cx="1184" cy="170" r="9.3"/><circle cx="1359" cy="180" r="9.3"/><circle cx="1462" cy="163" r="9.3"/><circle cx="1409" cy="158" r="9.3"/><circle cx="1152" cy="190" r="9.3"/><circle cx="2128" cy="163" r="9.3"/><circle cx="1900" cy="185" r="9.3"/><circle cx="1921" cy="212" r="9.3"/><circle cx="1200" cy="210" r="9.3"/><circle cx="1527" cy="161" r="9.3"/><circle cx="1315" cy="177" r="9.3"/><circle cx="1503" cy="164" r="9.3"/><circle cx="2009" cy="155" r="9.3"/><circle cx="2446" cy="217" r="9.3"/><circle cx="1850" cy="179" r="9.3"/><circle cx="2138" cy="163" r="9.3"/><circle cx="1944" cy="179" r="9.3"/><circle cx="1542" cy="201" r="9.3"/><circle cx="1623" cy="159" r="9.3"/><circle cx="1976" cy="185" r="9.3"/><circle cx="2319" cy="201" r="9.3"/><circle cx="1948" cy="182" r="9.3"/><circle cx="1353" cy="233" r="9.3"/><circle cx="1825" cy="186" r="9.3"/><circle cx="1843" cy="163" r="9.3"/><circle cx="1743" cy="164" r="9.3"/><circle cx="1623" cy="173" r="9.3"/><circle cx="2448" cy="154" r="9.3"/><circle cx="1670" cy="172" r="9.3"/><circle cx="1938" cy="209" r="9.3"/><circle cx="1137" cy="177" r="9.3"/><circle cx="1830" cy="234" r="9.3"/><circle cx="1272" cy="168" r="9.3"/><circle cx="1825" cy="163" r="9.3"/><circle cx="1204" cy="170" r="9.3"/><circle cx="1754" cy="164" r="9.3"/><circle cx="1163" cy="173" r="9.3"/><circle cx="2125" cy="191" r="9.3"/><circle cx="1393" cy="175" r="9.3"/><circle cx="1860" cy="154" r="9.3"/><circle cx="2003" cy="162" r="9.3"/><circle cx="1660" cy="172" r="9.3"/><circle cx="1425" cy="160" r="9.3"/><circle cx="2043" cy="192" r="9.3"/><circle cx="1234" cy="169" r="9.3"/><circle cx="1433" cy="205" r="9.3"/><circle cx="1689" cy="187" r="9.3"/><circle cx="1657" cy="162" r="9.3"/><circle cx="1391" cy="195" r="9.3"/><circle cx="1895" cy="186" r="9.3"/><circle cx="2329" cy="193" r="9.3"/><circle cx="1303" cy="246" r="9.3"/><circle cx="1419" cy="160" r="9.3"/><circle cx="1753" cy="174" r="9.3"/><circle cx="1549" cy="161" r="9.3"/><circle cx="1695" cy="170" r="9.3"/><circle cx="2404" cy="223" r="9.3"/><circle cx="1647" cy="215" r="9.3"/><circle cx="1377" cy="168" r="9.3"/><circle cx="1887" cy="163" r="9.3"/><circle cx="1458" cy="180" r="9.3"/><circle cx="1433" cy="160" r="9.3"/><circle cx="1993" cy="203" r="9.3"/><circle cx="1907" cy="161" r="9.3"/><circle cx="1021" cy="219" r="9.3"/><circle cx="1401" cy="176" r="9.3"/><circle cx="2129" cy="177" r="9.3"/><circle cx="2301" cy="176" r="9.3"/><circle cx="1140" cy="159" r="9.3"/><circle cx="2305" cy="197" r="9.3"/><circle cx="1913" cy="166" r="9.3"/><circle cx="1788" cy="171" r="9.3"/><circle cx="1532" cy="171" r="9.3"/><circle cx="1338" cy="165" r="9.3"/><circle cx="1672" cy="207" r="9.3"/><circle cx="2037" cy="240" r="9.3"/><circle cx="1862" cy="195" r="9.3"/><circle cx="2158" cy="263" r="9.3"/><circle cx="1863" cy="167" r="9.3"/><circle cx="1865" cy="209" r="9.3"/><circle cx="1999" cy="183" r="9.3"/><circle cx="721" cy="220" r="9.3"/><circle cx="1838" cy="209" r="9.3"/><circle cx="1147" cy="162" r="9.3"/></g>
<g class="sM"><circle cx="463" cy="184" r="9.3"/><circle cx="3231" cy="449" r="9.3"/><circle cx="2085" cy="803" r="9.3"/></g>
<g class="sG"><circle cx="1530" cy="176" r="9.3"/><circle cx="1538" cy="198" r="9.3"/><circle cx="2412" cy="172" r="9.3"/><circle cx="2084" cy="269" r="9.3"/><circle cx="2118" cy="241" r="9.3"/><circle cx="1343" cy="162" r="9.3"/><circle cx="1666" cy="191" r="9.3"/><circle cx="1283" cy="192" r="9.3"/><circle cx="1250" cy="203" r="9.3"/><circle cx="1232" cy="183" r="9.3"/><circle cx="707" cy="249" r="9.3"/><circle cx="1816" cy="202" r="9.3"/><circle cx="1810" cy="177" r="9.3"/><circle cx="2142" cy="212" r="9.3"/><circle cx="1824" cy="177" r="9.3"/><circle cx="2429" cy="168" r="9.3"/><circle cx="2277" cy="320" r="9.3"/><circle cx="1634" cy="197" r="9.3"/><circle cx="2381" cy="323" r="9.3"/><circle cx="1644" cy="211" r="9.3"/><circle cx="1948" cy="176" r="9.3"/><circle cx="1444" cy="174" r="9.3"/><circle cx="994" cy="167" r="9.3"/><circle cx="2395" cy="322" r="9.3"/><circle cx="2388" cy="182" r="9.3"/><circle cx="2422" cy="190" r="9.3"/><circle cx="650" cy="279" r="9.3"/><circle cx="2416" cy="217" r="9.3"/><circle cx="1067" cy="271" r="9.3"/><circle cx="2131" cy="215" r="9.3"/><circle cx="1047" cy="158" r="9.3"/><circle cx="2534" cy="177" r="9.3"/><circle cx="2307" cy="171" r="9.3"/><circle cx="2306" cy="204" r="9.3"/><circle cx="1907" cy="167" r="9.3"/><circle cx="2296" cy="210" r="9.3"/><circle cx="1882" cy="169" r="9.3"/><circle cx="1851" cy="226" r="9.3"/><circle cx="2096" cy="282" r="9.3"/><circle cx="2404" cy="173" r="9.3"/><circle cx="2230" cy="207" r="9.3"/><circle cx="1928" cy="188" r="9.3"/><circle cx="1325" cy="217" r="9.3"/><circle cx="1215" cy="230" r="9.3"/><circle cx="1691" cy="226" r="9.3"/><circle cx="1107" cy="176" r="9.3"/><circle cx="2455" cy="183" r="9.3"/><circle cx="1370" cy="192" r="9.3"/><circle cx="1603" cy="188" r="9.3"/><circle cx="2451" cy="210" r="9.3"/><circle cx="2200" cy="214" r="9.3"/><circle cx="556" cy="299" r="9.3"/><circle cx="2095" cy="230" r="9.3"/><circle cx="2428" cy="313" r="9.3"/><circle cx="2343" cy="288" r="9.3"/><circle cx="2295" cy="211" r="9.3"/><circle cx="2188" cy="194" r="9.3"/><circle cx="2340" cy="187" r="9.3"/><circle cx="1358" cy="217" r="9.3"/><circle cx="1910" cy="169" r="9.3"/><circle cx="1362" cy="212" r="9.3"/><circle cx="2219" cy="305" r="9.3"/><circle cx="2447" cy="266" r="9.3"/><circle cx="2265" cy="197" r="9.3"/><circle cx="1734" cy="191" r="9.3"/><circle cx="2491" cy="195" r="9.3"/><circle cx="1405" cy="160" r="9.3"/><circle cx="2220" cy="156" r="9.3"/><circle cx="1818" cy="171" r="9.3"/><circle cx="1343" cy="199" r="9.3"/><circle cx="2637" cy="239" r="9.3"/><circle cx="2183" cy="260" r="9.3"/><circle cx="2006" cy="330" r="9.3"/><circle cx="911" cy="184" r="9.3"/><circle cx="1369" cy="162" r="9.3"/><circle cx="2486" cy="342" r="9.3"/><circle cx="1233" cy="200" r="9.3"/><circle cx="2303" cy="219" r="9.3"/><circle cx="2053" cy="179" r="9.3"/><circle cx="1158" cy="179" r="9.3"/><circle cx="1530" cy="179" r="9.3"/><circle cx="2072" cy="201" r="9.3"/><circle cx="1204" cy="237" r="9.3"/><circle cx="2253" cy="173" r="9.3"/><circle cx="1201" cy="226" r="9.3"/><circle cx="2484" cy="186" r="9.3"/><circle cx="2461" cy="236" r="9.3"/><circle cx="2547" cy="244" r="9.3"/><circle cx="1225" cy="167" r="9.3"/><circle cx="2124" cy="278" r="9.3"/><circle cx="2072" cy="272" r="9.3"/><circle cx="2173" cy="231" r="9.3"/><circle cx="1869" cy="186" r="9.3"/><circle cx="2486" cy="180" r="9.3"/><circle cx="937" cy="228" r="9.3"/><circle cx="1144" cy="165" r="9.3"/><circle cx="2211" cy="179" r="9.3"/><circle cx="2461" cy="249" r="9.3"/><circle cx="1172" cy="297" r="9.3"/><circle cx="1263" cy="193" r="9.3"/><circle cx="1049" cy="239" r="9.3"/><circle cx="2244" cy="212" r="9.3"/><circle cx="2223" cy="209" r="9.3"/><circle cx="2065" cy="160" r="9.3"/><circle cx="1981" cy="161" r="9.3"/><circle cx="2467" cy="160" r="9.3"/><circle cx="2077" cy="313" r="9.3"/><circle cx="1786" cy="163" r="9.3"/><circle cx="2202" cy="177" r="9.3"/><circle cx="2243" cy="186" r="9.3"/><circle cx="1544" cy="158" r="9.3"/><circle cx="2188" cy="306" r="9.3"/><circle cx="2236" cy="160" r="9.3"/><circle cx="1382" cy="193" r="9.3"/><circle cx="2040" cy="163" r="9.3"/><circle cx="2416" cy="175" r="9.3"/><circle cx="2455" cy="184" r="9.3"/><circle cx="2066" cy="229" r="9.3"/><circle cx="2286" cy="205" r="9.3"/><circle cx="1770" cy="186" r="9.3"/><circle cx="2306" cy="206" r="9.3"/><circle cx="2124" cy="217" r="9.3"/><circle cx="2354" cy="194" r="9.3"/><circle cx="2038" cy="178" r="9.3"/><circle cx="2480" cy="171" r="9.3"/><circle cx="2131" cy="197" r="9.3"/><circle cx="995" cy="184" r="9.3"/><circle cx="2250" cy="254" r="9.3"/><circle cx="2289" cy="183" r="9.3"/><circle cx="2230" cy="220" r="9.3"/><circle cx="2424" cy="168" r="9.3"/><circle cx="1413" cy="192" r="9.3"/><circle cx="2255" cy="188" r="9.3"/><circle cx="1277" cy="196" r="9.3"/><circle cx="1232" cy="339" r="9.3"/><circle cx="1290" cy="183" r="9.3"/><circle cx="2571" cy="188" r="9.3"/><circle cx="1965" cy="165" r="9.3"/><circle cx="2236" cy="391" r="9.3"/><circle cx="2261" cy="221" r="9.3"/><circle cx="2046" cy="236" r="9.3"/><circle cx="2466" cy="276" r="9.3"/><circle cx="1110" cy="260" r="9.3"/><circle cx="2444" cy="215" r="9.3"/><circle cx="2474" cy="184" r="9.3"/><circle cx="2403" cy="166" r="9.3"/><circle cx="691" cy="207" r="9.3"/><circle cx="1962" cy="181" r="9.3"/><circle cx="2325" cy="199" r="9.3"/><circle cx="1667" cy="202" r="9.3"/><circle cx="1300" cy="197" r="9.3"/><circle cx="2231" cy="216" r="9.3"/><circle cx="1130" cy="219" r="9.3"/><circle cx="2088" cy="214" r="9.3"/><circle cx="2223" cy="214" r="9.3"/><circle cx="1875" cy="167" r="9.3"/><circle cx="2225" cy="208" r="9.3"/><circle cx="2328" cy="218" r="9.3"/><circle cx="1692" cy="173" r="9.3"/><circle cx="2383" cy="201" r="9.3"/><circle cx="2434" cy="219" r="9.3"/><circle cx="1544" cy="165" r="9.3"/><circle cx="2217" cy="179" r="9.3"/><circle cx="2205" cy="167" r="9.3"/><circle cx="1684" cy="165" r="9.3"/><circle cx="1032" cy="167" r="9.3"/><circle cx="2148" cy="315" r="9.3"/><circle cx="947" cy="184" r="9.3"/><circle cx="2291" cy="216" r="9.3"/><circle cx="1356" cy="195" r="9.3"/><circle cx="2449" cy="169" r="9.3"/><circle cx="1960" cy="187" r="9.3"/><circle cx="2171" cy="280" r="9.3"/><circle cx="2396" cy="167" r="9.3"/><circle cx="1938" cy="210" r="9.3"/><circle cx="2436" cy="220" r="9.3"/><circle cx="2509" cy="211" r="9.3"/><circle cx="1136" cy="224" r="9.3"/><circle cx="1212" cy="234" r="9.3"/><circle cx="1556" cy="177" r="9.3"/><circle cx="2389" cy="170" r="9.3"/><circle cx="2177" cy="154" r="9.3"/><circle cx="2027" cy="177" r="9.3"/><circle cx="939" cy="332" r="9.3"/><circle cx="2054" cy="270" r="9.3"/><circle cx="2321" cy="189" r="9.3"/><circle cx="1231" cy="233" r="9.3"/><circle cx="2214" cy="178" r="9.3"/><circle cx="2247" cy="162" r="9.3"/><circle cx="2229" cy="211" r="9.3"/><circle cx="2135" cy="281" r="9.3"/></g>
<g class="sC"><circle cx="1333" cy="243" r="9.3"/><circle cx="498" cy="152" r="9.3"/><circle cx="910" cy="237" r="9.3"/><circle cx="1208" cy="175" r="9.3"/><circle cx="707" cy="214" r="9.3"/><circle cx="2343" cy="296" r="9.3"/></g>
<g class="sP"><circle cx="1312" cy="161" r="9.3"/><circle cx="1971" cy="173" r="9.3"/><circle cx="1785" cy="175" r="9.3"/><circle cx="1684" cy="174" r="9.3"/><circle cx="1927" cy="162" r="9.3"/><circle cx="1214" cy="185" r="9.3"/><circle cx="1397" cy="199" r="9.3"/><circle cx="2007" cy="167" r="9.3"/><circle cx="2123" cy="159" r="9.3"/><circle cx="1826" cy="208" r="9.3"/><circle cx="2324" cy="167" r="9.3"/><circle cx="1279" cy="171" r="9.3"/><circle cx="1415" cy="195" r="9.3"/><circle cx="1417" cy="159" r="9.3"/><circle cx="1317" cy="166" r="9.3"/><circle cx="1677" cy="161" r="9.3"/><circle cx="1367" cy="163" r="9.3"/><circle cx="1870" cy="162" r="9.3"/><circle cx="1682" cy="175" r="9.3"/><circle cx="1255" cy="180" r="9.3"/><circle cx="1820" cy="163" r="9.3"/><circle cx="1899" cy="174" r="9.3"/><circle cx="1575" cy="177" r="9.3"/><circle cx="1434" cy="177" r="9.3"/><circle cx="2016" cy="156" r="9.3"/><circle cx="1290" cy="198" r="9.3"/><circle cx="1561" cy="166" r="9.3"/><circle cx="2142" cy="179" r="9.3"/><circle cx="1750" cy="177" r="9.3"/><circle cx="1658" cy="175" r="9.3"/><circle cx="1355" cy="170" r="9.3"/><circle cx="1616" cy="168" r="9.3"/><circle cx="2164" cy="156" r="9.3"/><circle cx="1264" cy="174" r="9.3"/><circle cx="1758" cy="180" r="9.3"/><circle cx="1990" cy="180" r="9.3"/><circle cx="2232" cy="298" r="9.3"/><circle cx="2320" cy="220" r="9.3"/><circle cx="1640" cy="210" r="9.3"/><circle cx="1398" cy="182" r="9.3"/><circle cx="1981" cy="162" r="9.3"/><circle cx="2255" cy="188" r="9.3"/><circle cx="690" cy="169" r="9.3"/><circle cx="1274" cy="173" r="9.3"/><circle cx="1786" cy="175" r="9.3"/><circle cx="1821" cy="203" r="9.3"/><circle cx="1892" cy="167" r="9.3"/><circle cx="1953" cy="167" r="9.3"/><circle cx="2050" cy="159" r="9.3"/><circle cx="1751" cy="177" r="9.3"/><circle cx="1268" cy="173" r="9.3"/><circle cx="1982" cy="171" r="9.3"/><circle cx="1912" cy="198" r="9.3"/><circle cx="1462" cy="161" r="9.3"/><circle cx="1469" cy="159" r="9.3"/><circle cx="1409" cy="173" r="9.3"/><circle cx="2226" cy="263" r="9.3"/><circle cx="1742" cy="161" r="9.3"/><circle cx="2259" cy="175" r="9.3"/><circle cx="1729" cy="173" r="9.3"/><circle cx="1904" cy="173" r="9.3"/><circle cx="1848" cy="203" r="9.3"/><circle cx="1806" cy="160" r="9.3"/><circle cx="2351" cy="156" r="9.3"/><circle cx="1183" cy="212" r="9.3"/><circle cx="1487" cy="162" r="9.3"/><circle cx="1739" cy="198" r="9.3"/><circle cx="1447" cy="165" r="9.3"/><circle cx="1629" cy="187" r="9.3"/><circle cx="1310" cy="171" r="9.3"/><circle cx="1172" cy="174" r="9.3"/><circle cx="1519" cy="196" r="9.3"/><circle cx="1939" cy="160" r="9.3"/><circle cx="2049" cy="175" r="9.3"/><circle cx="2144" cy="184" r="9.3"/><circle cx="2236" cy="193" r="9.3"/><circle cx="1694" cy="164" r="9.3"/><circle cx="2234" cy="165" r="9.3"/><circle cx="1842" cy="167" r="9.3"/><circle cx="1729" cy="211" r="9.3"/><circle cx="1332" cy="163" r="9.3"/><circle cx="2254" cy="178" r="9.3"/><circle cx="1518" cy="177" r="9.3"/><circle cx="1704" cy="181" r="9.3"/><circle cx="1851" cy="173" r="9.3"/><circle cx="1665" cy="224" r="9.3"/><circle cx="1713" cy="177" r="9.3"/><circle cx="2113" cy="184" r="9.3"/><circle cx="2276" cy="286" r="9.3"/><circle cx="1795" cy="172" r="9.3"/><circle cx="2223" cy="233" r="9.3"/><circle cx="2100" cy="168" r="9.3"/><circle cx="1923" cy="163" r="9.3"/><circle cx="2190" cy="246" r="9.3"/><circle cx="1457" cy="159" r="9.3"/><circle cx="1275" cy="338" r="9.3"/><circle cx="1211" cy="167" r="9.3"/><circle cx="1630" cy="173" r="9.3"/><circle cx="685" cy="183" r="9.3"/><circle cx="1379" cy="170" r="9.3"/><circle cx="1900" cy="159" r="9.3"/><circle cx="1717" cy="174" r="9.3"/><circle cx="1473" cy="159" r="9.3"/><circle cx="2098" cy="165" r="9.3"/><circle cx="1132" cy="164" r="9.3"/><circle cx="1989" cy="167" r="9.3"/><circle cx="1885" cy="159" r="9.3"/><circle cx="1551" cy="174" r="9.3"/><circle cx="1653" cy="177" r="9.3"/><circle cx="2120" cy="195" r="9.3"/><circle cx="2018" cy="175" r="9.3"/><circle cx="961" cy="226" r="9.3"/><circle cx="1651" cy="167" r="9.3"/><circle cx="1620" cy="181" r="9.3"/><circle cx="1785" cy="166" r="9.3"/><circle cx="1288" cy="173" r="9.3"/><circle cx="1421" cy="194" r="9.3"/><circle cx="1766" cy="165" r="9.3"/><circle cx="1220" cy="174" r="9.3"/><circle cx="1298" cy="193" r="9.3"/><circle cx="2135" cy="214" r="9.3"/><circle cx="1770" cy="184" r="9.3"/><circle cx="1993" cy="176" r="9.3"/><circle cx="2298" cy="166" r="9.3"/><circle cx="1168" cy="180" r="9.3"/><circle cx="2073" cy="154" r="9.3"/><circle cx="1214" cy="230" r="9.3"/><circle cx="2099" cy="166" r="9.3"/><circle cx="1748" cy="171" r="9.3"/><circle cx="1594" cy="177" r="9.3"/><circle cx="1713" cy="167" r="9.3"/><circle cx="1375" cy="171" r="9.3"/><circle cx="2185" cy="170" r="9.3"/><circle cx="1957" cy="161" r="9.3"/><circle cx="1432" cy="169" r="9.3"/><circle cx="1663" cy="168" r="9.3"/><circle cx="1399" cy="161" r="9.3"/><circle cx="1686" cy="164" r="9.3"/><circle cx="1146" cy="206" r="9.3"/><circle cx="1688" cy="166" r="9.3"/><circle cx="1334" cy="207" r="9.3"/><circle cx="1899" cy="190" r="9.3"/><circle cx="1229" cy="176" r="9.3"/><circle cx="1358" cy="158" r="9.3"/><circle cx="1943" cy="205" r="9.3"/><circle cx="1382" cy="185" r="9.3"/><circle cx="1525" cy="174" r="9.3"/><circle cx="1876" cy="171" r="9.3"/><circle cx="2221" cy="165" r="9.3"/><circle cx="1534" cy="179" r="9.3"/><circle cx="1563" cy="168" r="9.3"/><circle cx="1748" cy="178" r="9.3"/><circle cx="1193" cy="176" r="9.3"/><circle cx="1713" cy="163" r="9.3"/><circle cx="1629" cy="174" r="9.3"/><circle cx="1251" cy="167" r="9.3"/><circle cx="1227" cy="174" r="9.3"/><circle cx="1770" cy="173" r="9.3"/><circle cx="1198" cy="172" r="9.3"/><circle cx="1753" cy="158" r="9.3"/><circle cx="1924" cy="183" r="9.3"/><circle cx="2011" cy="234" r="9.3"/><circle cx="2176" cy="172" r="9.3"/><circle cx="2085" cy="228" r="9.3"/><circle cx="1816" cy="178" r="9.3"/><circle cx="1550" cy="158" r="9.3"/><circle cx="1675" cy="166" r="9.3"/><circle cx="1826" cy="160" r="9.3"/><circle cx="2237" cy="185" r="9.3"/><circle cx="1615" cy="160" r="9.3"/><circle cx="1980" cy="160" r="9.3"/><circle cx="2277" cy="162" r="9.3"/><circle cx="1588" cy="162" r="9.3"/><circle cx="1836" cy="178" r="9.3"/><circle cx="2109" cy="166" r="9.3"/><circle cx="1012" cy="231" r="9.3"/><circle cx="1965" cy="170" r="9.3"/><circle cx="2227" cy="159" r="9.3"/><circle cx="1340" cy="227" r="9.3"/><circle cx="1180" cy="175" r="9.3"/><circle cx="2231" cy="210" r="9.3"/><circle cx="1813" cy="160" r="9.3"/><circle cx="1903" cy="163" r="9.3"/><circle cx="1830" cy="175" r="9.3"/><circle cx="727" cy="231" r="9.3"/><circle cx="1273" cy="184" r="9.3"/><circle cx="1854" cy="159" r="9.3"/><circle cx="1346" cy="185" r="9.3"/><circle cx="1383" cy="159" r="9.3"/><circle cx="1805" cy="196" r="9.3"/><circle cx="1154" cy="176" r="9.3"/><circle cx="1826" cy="163" r="9.3"/><circle cx="2121" cy="244" r="9.3"/><circle cx="2278" cy="162" r="9.3"/><circle cx="2005" cy="169" r="9.3"/><circle cx="1214" cy="190" r="9.3"/><circle cx="1200" cy="173" r="9.3"/><circle cx="1580" cy="165" r="9.3"/><circle cx="1243" cy="234" r="9.3"/><circle cx="1300" cy="190" r="9.3"/><circle cx="1688" cy="171" r="9.3"/><circle cx="1296" cy="234" r="9.3"/><circle cx="1277" cy="178" r="9.3"/><circle cx="1759" cy="173" r="9.3"/><circle cx="1884" cy="197" r="9.3"/><circle cx="1849" cy="163" r="9.3"/><circle cx="1421" cy="173" r="9.3"/><circle cx="1993" cy="168" r="9.3"/><circle cx="1688" cy="159" r="9.3"/><circle cx="2110" cy="179" r="9.3"/><circle cx="2125" cy="165" r="9.3"/><circle cx="1597" cy="171" r="9.3"/><circle cx="1570" cy="160" r="9.3"/><circle cx="1589" cy="161" r="9.3"/><circle cx="1738" cy="182" r="9.3"/><circle cx="2189" cy="215" r="9.3"/><circle cx="1843" cy="174" r="9.3"/><circle cx="1983" cy="177" r="9.3"/><circle cx="2423" cy="282" r="9.3"/><circle cx="1300" cy="164" r="9.3"/><circle cx="2079" cy="193" r="9.3"/><circle cx="1992" cy="177" r="9.3"/><circle cx="1729" cy="177" r="9.3"/><circle cx="1862" cy="171" r="9.3"/></g>
<g class="sV"><circle cx="2085" cy="187" r="9.3"/><circle cx="2060" cy="203" r="9.3"/><circle cx="995" cy="150" r="9.3"/><circle cx="1948" cy="391" r="9.3"/><circle cx="3122" cy="194" r="9.3"/><circle cx="2700" cy="336" r="9.3"/><circle cx="453" cy="153" r="9.3"/><circle cx="489" cy="192" r="9.3"/><circle cx="1106" cy="203" r="9.3"/><circle cx="1307" cy="219" r="9.3"/><circle cx="1315" cy="198" r="9.3"/><circle cx="1408" cy="223" r="9.3"/><circle cx="2244" cy="216" r="9.3"/><circle cx="2275" cy="179" r="9.3"/><circle cx="1179" cy="212" r="9.3"/><circle cx="2067" cy="277" r="9.3"/><circle cx="2731" cy="443" r="9.3"/><circle cx="1148" cy="233" r="9.3"/><circle cx="1625" cy="168" r="9.3"/><circle cx="511" cy="303" r="9.3"/><circle cx="569" cy="164" r="9.3"/><circle cx="1239" cy="192" r="9.3"/><circle cx="644" cy="340" r="9.3"/><circle cx="540" cy="171" r="9.3"/><circle cx="2707" cy="170" r="9.3"/><circle cx="2291" cy="217" r="9.3"/><circle cx="503" cy="215" r="9.3"/><circle cx="2492" cy="172" r="9.3"/><circle cx="2197" cy="200" r="9.3"/><circle cx="2299" cy="572" r="9.3"/><circle cx="2509" cy="160" r="9.3"/><circle cx="2604" cy="193" r="9.3"/><circle cx="546" cy="175" r="9.3"/><circle cx="572" cy="185" r="9.3"/><circle cx="1162" cy="207" r="9.3"/><circle cx="503" cy="209" r="9.3"/><circle cx="2186" cy="216" r="9.3"/><circle cx="525" cy="173" r="9.3"/><circle cx="988" cy="360" r="9.3"/><circle cx="1261" cy="193" r="9.3"/><circle cx="1613" cy="205" r="9.3"/><circle cx="2096" cy="202" r="9.3"/><circle cx="1223" cy="217" r="9.3"/><circle cx="3198" cy="194" r="9.3"/><circle cx="2454" cy="195" r="9.3"/><circle cx="2180" cy="160" r="9.3"/><circle cx="1127" cy="237" r="9.3"/><circle cx="1367" cy="225" r="9.3"/><circle cx="1326" cy="200" r="9.3"/><circle cx="1265" cy="204" r="9.3"/><circle cx="533" cy="154" r="9.3"/><circle cx="1032" cy="230" r="9.3"/><circle cx="871" cy="347" r="9.3"/><circle cx="2059" cy="213" r="9.3"/><circle cx="2094" cy="187" r="9.3"/><circle cx="507" cy="219" r="9.3"/><circle cx="580" cy="207" r="9.3"/><circle cx="1153" cy="212" r="9.3"/><circle cx="2290" cy="599" r="9.3"/><circle cx="2305" cy="252" r="9.3"/><circle cx="1183" cy="213" r="9.3"/><circle cx="2161" cy="206" r="9.3"/><circle cx="558" cy="159" r="9.3"/><circle cx="2009" cy="432" r="9.3"/><circle cx="1333" cy="209" r="9.3"/><circle cx="2034" cy="312" r="9.3"/><circle cx="1068" cy="323" r="9.3"/><circle cx="2286" cy="170" r="9.3"/><circle cx="1941" cy="203" r="9.3"/><circle cx="1284" cy="193" r="9.3"/><circle cx="1713" cy="779" r="9.3"/><circle cx="2210" cy="202" r="9.3"/><circle cx="784" cy="163" r="9.3"/><circle cx="2580" cy="195" r="9.3"/><circle cx="2277" cy="175" r="9.3"/></g>
<g class="sM"><circle cx="2684" cy="158" r="9.3"/><circle cx="2999" cy="194" r="9.3"/></g>
<g class="sC"><circle cx="2241" cy="169" r="9.3"/><circle cx="1079" cy="335" r="9.3"/><circle cx="2323" cy="284" r="9.3"/><circle cx="2454" cy="149" r="9.3"/><circle cx="1191" cy="211" r="9.3"/><circle cx="2160" cy="260" r="9.3"/><circle cx="1350" cy="151" r="9.3"/></g>
<g class="sV"><circle cx="840" cy="249" r="9.3"/><circle cx="448" cy="182" r="9.3"/><circle cx="2246" cy="179" r="9.3"/><circle cx="2450" cy="186" r="9.3"/><circle cx="548" cy="153" r="9.3"/><circle cx="2691" cy="222" r="9.3"/><circle cx="2636" cy="348" r="9.3"/><circle cx="1226" cy="203" r="9.3"/><circle cx="548" cy="176" r="9.3"/><circle cx="2487" cy="215" r="9.3"/><circle cx="2019" cy="234" r="9.3"/><circle cx="497" cy="213" r="9.3"/><circle cx="564" cy="201" r="9.3"/><circle cx="2305" cy="232" r="9.3"/><circle cx="2070" cy="244" r="9.3"/><circle cx="1822" cy="507" r="9.3"/><circle cx="2018" cy="197" r="9.3"/><circle cx="1128" cy="177" r="9.3"/><circle cx="1129" cy="208" r="9.3"/><circle cx="2012" cy="251" r="9.3"/><circle cx="2677" cy="244" r="9.3"/><circle cx="518" cy="216" r="9.3"/><circle cx="823" cy="170" r="9.3"/><circle cx="455" cy="168" r="9.3"/><circle cx="500" cy="200" r="9.3"/><circle cx="2194" cy="167" r="9.3"/><circle cx="1375" cy="216" r="9.3"/><circle cx="2137" cy="291" r="9.3"/><circle cx="2146" cy="211" r="9.3"/><circle cx="2108" cy="256" r="9.3"/><circle cx="2028" cy="386" r="9.3"/><circle cx="451" cy="153" r="9.3"/><circle cx="1122" cy="196" r="9.3"/><circle cx="540" cy="293" r="9.3"/><circle cx="555" cy="154" r="9.3"/><circle cx="2701" cy="183" r="9.3"/><circle cx="2646" cy="398" r="9.3"/><circle cx="2429" cy="526" r="9.3"/><circle cx="2244" cy="392" r="9.3"/><circle cx="574" cy="159" r="9.3"/><circle cx="1058" cy="207" r="9.3"/><circle cx="608" cy="231" r="9.3"/><circle cx="1119" cy="211" r="9.3"/><circle cx="1810" cy="673" r="9.3"/><circle cx="2340" cy="234" r="9.3"/><circle cx="600" cy="346" r="9.3"/><circle cx="1807" cy="539" r="9.3"/><circle cx="1893" cy="689" r="9.3"/><circle cx="2458" cy="241" r="9.3"/><circle cx="2376" cy="179" r="9.3"/><circle cx="566" cy="154" r="9.3"/><circle cx="539" cy="173" r="9.3"/><circle cx="522" cy="184" r="9.3"/><circle cx="1316" cy="254" r="9.3"/><circle cx="671" cy="304" r="9.3"/><circle cx="2431" cy="175" r="9.3"/><circle cx="1276" cy="224" r="9.3"/><circle cx="1798" cy="649" r="9.3"/><circle cx="834" cy="251" r="9.3"/><circle cx="561" cy="161" r="9.3"/><circle cx="488" cy="227" r="9.3"/><circle cx="1295" cy="203" r="9.3"/><circle cx="526" cy="291" r="9.3"/><circle cx="577" cy="168" r="9.3"/><circle cx="581" cy="199" r="9.3"/><circle cx="2193" cy="166" r="9.3"/><circle cx="2043" cy="311" r="9.3"/><circle cx="1127" cy="216" r="9.3"/><circle cx="2156" cy="204" r="9.3"/><circle cx="2024" cy="198" r="9.3"/><circle cx="930" cy="188" r="9.3"/><circle cx="2706" cy="246" r="9.3"/><circle cx="2101" cy="208" r="9.3"/><circle cx="1200" cy="206" r="9.3"/><circle cx="958" cy="265" r="9.3"/><circle cx="1356" cy="199" r="9.3"/></g>
<g class="sG"><circle cx="2108" cy="228" r="9.3"/><circle cx="1525" cy="169" r="9.3"/><circle cx="2299" cy="273" r="9.3"/><circle cx="1129" cy="209" r="9.3"/><circle cx="2211" cy="205" r="9.3"/><circle cx="2228" cy="207" r="9.3"/><circle cx="576" cy="189" r="9.3"/><circle cx="2161" cy="264" r="9.3"/><circle cx="1380" cy="160" r="9.3"/><circle cx="2143" cy="219" r="9.3"/><circle cx="1667" cy="212" r="9.3"/><circle cx="2126" cy="206" r="9.3"/><circle cx="1932" cy="408" r="9.3"/><circle cx="1800" cy="194" r="9.3"/><circle cx="2315" cy="193" r="9.3"/><circle cx="1657" cy="212" r="9.3"/><circle cx="1621" cy="165" r="9.3"/><circle cx="2446" cy="197" r="9.3"/><circle cx="2500" cy="248" r="9.3"/><circle cx="2343" cy="207" r="9.3"/><circle cx="2263" cy="203" r="9.3"/><circle cx="2032" cy="214" r="9.3"/><circle cx="983" cy="162" r="9.3"/><circle cx="1290" cy="214" r="9.3"/><circle cx="1744" cy="206" r="9.3"/><circle cx="2269" cy="207" r="9.3"/><circle cx="2475" cy="213" r="9.3"/><circle cx="2402" cy="349" r="9.3"/><circle cx="2652" cy="209" r="9.3"/><circle cx="2206" cy="220" r="9.3"/><circle cx="1158" cy="163" r="9.3"/><circle cx="1243" cy="180" r="9.3"/><circle cx="1456" cy="187" r="9.3"/><circle cx="2001" cy="175" r="9.3"/><circle cx="1715" cy="203" r="9.3"/><circle cx="1232" cy="230" r="9.3"/><circle cx="2333" cy="184" r="9.3"/><circle cx="2465" cy="157" r="9.3"/><circle cx="642" cy="193" r="9.3"/><circle cx="2154" cy="273" r="9.3"/><circle cx="1838" cy="183" r="9.3"/><circle cx="1989" cy="179" r="9.3"/><circle cx="2199" cy="201" r="9.3"/><circle cx="1251" cy="200" r="9.3"/><circle cx="1204" cy="246" r="9.3"/><circle cx="1707" cy="225" r="9.3"/><circle cx="1973" cy="194" r="9.3"/><circle cx="2509" cy="351" r="9.3"/><circle cx="2229" cy="201" r="9.3"/><circle cx="2137" cy="194" r="9.3"/><circle cx="2250" cy="220" r="9.3"/><circle cx="1788" cy="200" r="9.3"/><circle cx="2253" cy="156" r="9.3"/><circle cx="2562" cy="289" r="9.3"/><circle cx="2283" cy="168" r="9.3"/><circle cx="2210" cy="172" r="9.3"/><circle cx="2399" cy="251" r="9.3"/><circle cx="1279" cy="172" r="9.3"/><circle cx="1625" cy="183" r="9.3"/><circle cx="2446" cy="217" r="9.3"/><circle cx="1240" cy="327" r="9.3"/><circle cx="2209" cy="205" r="9.3"/><circle cx="1546" cy="173" r="9.3"/><circle cx="2032" cy="222" r="9.3"/><circle cx="1260" cy="209" r="9.3"/><circle cx="2056" cy="208" r="9.3"/><circle cx="2181" cy="226" r="9.3"/><circle cx="1175" cy="248" r="9.3"/><circle cx="2014" cy="301" r="9.3"/><circle cx="1834" cy="219" r="9.3"/><circle cx="1824" cy="160" r="9.3"/><circle cx="1639" cy="195" r="9.3"/><circle cx="1518" cy="175" r="9.3"/><circle cx="2589" cy="196" r="9.3"/><circle cx="2277" cy="162" r="9.3"/><circle cx="2273" cy="156" r="9.3"/><circle cx="2428" cy="192" r="9.3"/><circle cx="1699" cy="188" r="9.3"/><circle cx="902" cy="169" r="9.3"/><circle cx="2122" cy="224" r="9.3"/><circle cx="2235" cy="187" r="9.3"/><circle cx="1561" cy="188" r="9.3"/><circle cx="1300" cy="162" r="9.3"/><circle cx="2469" cy="179" r="9.3"/><circle cx="1989" cy="188" r="9.3"/><circle cx="2363" cy="214" r="9.3"/><circle cx="1293" cy="210" r="9.3"/><circle cx="2473" cy="216" r="9.3"/><circle cx="2330" cy="250" r="9.3"/><circle cx="2140" cy="165" r="9.3"/><circle cx="2179" cy="308" r="9.3"/><circle cx="2322" cy="177" r="9.3"/><circle cx="2410" cy="238" r="9.3"/><circle cx="2348" cy="201" r="9.3"/><circle cx="2225" cy="269" r="9.3"/><circle cx="1398" cy="192" r="9.3"/><circle cx="1002" cy="165" r="9.3"/><circle cx="1021" cy="208" r="9.3"/><circle cx="2400" cy="156" r="9.3"/><circle cx="1573" cy="191" r="9.3"/><circle cx="1821" cy="176" r="9.3"/><circle cx="2091" cy="212" r="9.3"/><circle cx="2338" cy="215" r="9.3"/><circle cx="2088" cy="175" r="9.3"/><circle cx="1001" cy="195" r="9.3"/><circle cx="760" cy="219" r="9.3"/><circle cx="2229" cy="196" r="9.3"/><circle cx="1428" cy="181" r="9.3"/><circle cx="1776" cy="207" r="9.3"/><circle cx="638" cy="240" r="9.3"/><circle cx="2229" cy="230" r="9.3"/><circle cx="2455" cy="185" r="9.3"/><circle cx="2151" cy="318" r="9.3"/><circle cx="1186" cy="220" r="9.3"/><circle cx="1203" cy="233" r="9.3"/><circle cx="2177" cy="185" r="9.3"/><circle cx="2507" cy="245" r="9.3"/><circle cx="2011" cy="318" r="9.3"/><circle cx="2382" cy="188" r="9.3"/><circle cx="637" cy="152" r="9.3"/><circle cx="1316" cy="200" r="9.3"/><circle cx="1998" cy="324" r="9.3"/><circle cx="1325" cy="190" r="9.3"/><circle cx="1311" cy="177" r="9.3"/><circle cx="2459" cy="183" r="9.3"/><circle cx="1336" cy="160" r="9.3"/><circle cx="2418" cy="170" r="9.3"/><circle cx="2023" cy="160" r="9.3"/><circle cx="1222" cy="199" r="9.3"/><circle cx="1839" cy="211" r="9.3"/><circle cx="2165" cy="235" r="9.3"/><circle cx="2040" cy="235" r="9.3"/><circle cx="2502" cy="183" r="9.3"/><circle cx="1997" cy="192" r="9.3"/><circle cx="1347" cy="208" r="9.3"/><circle cx="2088" cy="296" r="9.3"/><circle cx="1282" cy="188" r="9.3"/><circle cx="2344" cy="220" r="9.3"/><circle cx="1060" cy="223" r="9.3"/><circle cx="2373" cy="196" r="9.3"/><circle cx="2458" cy="162" r="9.3"/><circle cx="1250" cy="179" r="9.3"/><circle cx="1209" cy="214" r="9.3"/><circle cx="625" cy="244" r="9.3"/><circle cx="561" cy="176" r="9.3"/><circle cx="1081" cy="254" r="9.3"/><circle cx="627" cy="190" r="9.3"/><circle cx="1347" cy="210" r="9.3"/><circle cx="1394" cy="175" r="9.3"/><circle cx="2003" cy="231" r="9.3"/><circle cx="1625" cy="170" r="9.3"/><circle cx="2337" cy="275" r="9.3"/><circle cx="2184" cy="160" r="9.3"/><circle cx="2425" cy="170" r="9.3"/><circle cx="1847" cy="184" r="9.3"/><circle cx="2210" cy="208" r="9.3"/><circle cx="2242" cy="184" r="9.3"/><circle cx="2127" cy="295" r="9.3"/><circle cx="2505" cy="246" r="9.3"/><circle cx="2590" cy="154" r="9.3"/><circle cx="2215" cy="158" r="9.3"/><circle cx="1856" cy="158" r="9.3"/><circle cx="2220" cy="176" r="9.3"/><circle cx="2250" cy="229" r="9.3"/><circle cx="1986" cy="196" r="9.3"/><circle cx="2173" cy="231" r="9.3"/><circle cx="2317" cy="221" r="9.3"/><circle cx="2471" cy="215" r="9.3"/><circle cx="2307" cy="199" r="9.3"/><circle cx="1983" cy="180" r="9.3"/><circle cx="1179" cy="164" r="9.3"/><circle cx="2272" cy="160" r="9.3"/><circle cx="1856" cy="171" r="9.3"/><circle cx="2323" cy="203" r="9.3"/><circle cx="1409" cy="180" r="9.3"/><circle cx="1089" cy="222" r="9.3"/><circle cx="1653" cy="197" r="9.3"/><circle cx="2223" cy="181" r="9.3"/><circle cx="2180" cy="195" r="9.3"/><circle cx="1285" cy="206" r="9.3"/><circle cx="818" cy="217" r="9.3"/><circle cx="2226" cy="170" r="9.3"/><circle cx="2169" cy="160" r="9.3"/><circle cx="1325" cy="171" r="9.3"/><circle cx="2049" cy="260" r="9.3"/><circle cx="2266" cy="176" r="9.3"/><circle cx="1991" cy="180" r="9.3"/><circle cx="2222" cy="194" r="9.3"/><circle cx="2011" cy="223" r="9.3"/><circle cx="2305" cy="168" r="9.3"/></g>
<g class="sP"><circle cx="1969" cy="209" r="9.3"/><circle cx="1283" cy="158" r="9.3"/><circle cx="1837" cy="172" r="9.3"/><circle cx="1633" cy="173" r="9.3"/><circle cx="1036" cy="206" r="9.3"/><circle cx="1143" cy="198" r="9.3"/><circle cx="1931" cy="168" r="9.3"/><circle cx="2403" cy="166" r="9.3"/><circle cx="1999" cy="186" r="9.3"/><circle cx="1809" cy="214" r="9.3"/><circle cx="1307" cy="159" r="9.3"/><circle cx="1679" cy="175" r="9.3"/><circle cx="1832" cy="165" r="9.3"/><circle cx="2049" cy="224" r="9.3"/><circle cx="2212" cy="235" r="9.3"/><circle cx="1828" cy="180" r="9.3"/><circle cx="979" cy="186" r="9.3"/><circle cx="1845" cy="160" r="9.3"/><circle cx="2091" cy="169" r="9.3"/><circle cx="1769" cy="184" r="9.3"/><circle cx="1738" cy="173" r="9.3"/><circle cx="1709" cy="212" r="9.3"/><circle cx="1629" cy="188" r="9.3"/><circle cx="2233" cy="195" r="9.3"/><circle cx="1558" cy="166" r="9.3"/><circle cx="1789" cy="198" r="9.3"/><circle cx="1776" cy="206" r="9.3"/><circle cx="2075" cy="197" r="9.3"/><circle cx="1984" cy="177" r="9.3"/><circle cx="1308" cy="165" r="9.3"/><circle cx="1830" cy="178" r="9.3"/><circle cx="1255" cy="157" r="9.3"/><circle cx="1242" cy="166" r="9.3"/><circle cx="2456" cy="157" r="9.3"/><circle cx="1537" cy="191" r="9.3"/><circle cx="1776" cy="163" r="9.3"/><circle cx="1914" cy="160" r="9.3"/><circle cx="2489" cy="222" r="9.3"/><circle cx="1044" cy="193" r="9.3"/><circle cx="726" cy="239" r="9.3"/><circle cx="1793" cy="179" r="9.3"/><circle cx="1779" cy="182" r="9.3"/><circle cx="1217" cy="204" r="9.3"/><circle cx="1593" cy="171" r="9.3"/><circle cx="1135" cy="162" r="9.3"/><circle cx="2265" cy="167" r="9.3"/><circle cx="1768" cy="158" r="9.3"/><circle cx="1426" cy="170" r="9.3"/><circle cx="2192" cy="160" r="9.3"/><circle cx="1666" cy="163" r="9.3"/><circle cx="2291" cy="154" r="9.3"/><circle cx="1893" cy="191" r="9.3"/><circle cx="1580" cy="180" r="9.3"/><circle cx="1165" cy="160" r="9.3"/><circle cx="1834" cy="181" r="9.3"/><circle cx="1049" cy="192" r="9.3"/><circle cx="1803" cy="174" r="9.3"/><circle cx="1818" cy="196" r="9.3"/><circle cx="2021" cy="164" r="9.3"/><circle cx="2486" cy="173" r="9.3"/><circle cx="1989" cy="165" r="9.3"/><circle cx="2214" cy="221" r="9.3"/><circle cx="1731" cy="206" r="9.3"/><circle cx="2067" cy="208" r="9.3"/><circle cx="1418" cy="174" r="9.3"/><circle cx="1428" cy="161" r="9.3"/><circle cx="1183" cy="179" r="9.3"/><circle cx="1749" cy="180" r="9.3"/><circle cx="2216" cy="181" r="9.3"/><circle cx="1686" cy="172" r="9.3"/><circle cx="2345" cy="162" r="9.3"/><circle cx="1277" cy="190" r="9.3"/><circle cx="1824" cy="164" r="9.3"/><circle cx="1938" cy="176" r="9.3"/><circle cx="1611" cy="186" r="9.3"/><circle cx="2285" cy="280" r="9.3"/><circle cx="1807" cy="158" r="9.3"/><circle cx="1613" cy="162" r="9.3"/><circle cx="1129" cy="164" r="9.3"/><circle cx="1910" cy="177" r="9.3"/><circle cx="2009" cy="286" r="9.3"/><circle cx="1879" cy="197" r="9.3"/><circle cx="1580" cy="154" r="9.3"/><circle cx="1649" cy="164" r="9.3"/><circle cx="1384" cy="173" r="9.3"/><circle cx="2380" cy="175" r="9.3"/><circle cx="1982" cy="163" r="9.3"/><circle cx="1755" cy="169" r="9.3"/><circle cx="1587" cy="175" r="9.3"/><circle cx="652" cy="182" r="9.3"/><circle cx="1208" cy="173" r="9.3"/><circle cx="1192" cy="219" r="9.3"/><circle cx="2111" cy="172" r="9.3"/><circle cx="1236" cy="179" r="9.3"/><circle cx="1237" cy="222" r="9.3"/><circle cx="1222" cy="177" r="9.3"/><circle cx="1801" cy="180" r="9.3"/><circle cx="1151" cy="199" r="9.3"/><circle cx="2092" cy="181" r="9.3"/><circle cx="2149" cy="173" r="9.3"/><circle cx="1233" cy="162" r="9.3"/><circle cx="2120" cy="290" r="9.3"/><circle cx="2155" cy="298" r="9.3"/><circle cx="1848" cy="238" r="9.3"/><circle cx="1231" cy="234" r="9.3"/><circle cx="1434" cy="188" r="9.3"/><circle cx="1582" cy="166" r="9.3"/><circle cx="1909" cy="171" r="9.3"/><circle cx="1938" cy="162" r="9.3"/><circle cx="1585" cy="174" r="9.3"/><circle cx="1823" cy="177" r="9.3"/><circle cx="2076" cy="158" r="9.3"/><circle cx="1678" cy="165" r="9.3"/><circle cx="1208" cy="173" r="9.3"/><circle cx="1650" cy="217" r="9.3"/><circle cx="1278" cy="179" r="9.3"/><circle cx="1442" cy="166" r="9.3"/><circle cx="2173" cy="186" r="9.3"/><circle cx="1844" cy="165" r="9.3"/><circle cx="1700" cy="167" r="9.3"/><circle cx="2149" cy="168" r="9.3"/><circle cx="1273" cy="155" r="9.3"/><circle cx="2043" cy="305" r="9.3"/><circle cx="1236" cy="164" r="9.3"/><circle cx="1597" cy="177" r="9.3"/><circle cx="675" cy="186" r="9.3"/><circle cx="1184" cy="191" r="9.3"/><circle cx="1458" cy="162" r="9.3"/><circle cx="1656" cy="159" r="9.3"/><circle cx="1978" cy="171" r="9.3"/><circle cx="1357" cy="160" r="9.3"/><circle cx="1464" cy="159" r="9.3"/><circle cx="1648" cy="159" r="9.3"/><circle cx="1982" cy="168" r="9.3"/><circle cx="2070" cy="212" r="9.3"/><circle cx="1172" cy="158" r="9.3"/><circle cx="1834" cy="179" r="9.3"/><circle cx="1653" cy="166" r="9.3"/><circle cx="654" cy="177" r="9.3"/><circle cx="2023" cy="172" r="9.3"/><circle cx="1615" cy="156" r="9.3"/><circle cx="1963" cy="180" r="9.3"/><circle cx="1795" cy="185" r="9.3"/><circle cx="1518" cy="158" r="9.3"/><circle cx="1806" cy="155" r="9.3"/><circle cx="1695" cy="230" r="9.3"/><circle cx="1394" cy="178" r="9.3"/><circle cx="1230" cy="162" r="9.3"/><circle cx="1922" cy="175" r="9.3"/><circle cx="1258" cy="162" r="9.3"/><circle cx="2160" cy="303" r="9.3"/><circle cx="1882" cy="163" r="9.3"/><circle cx="1809" cy="164" r="9.3"/><circle cx="1887" cy="171" r="9.3"/><circle cx="2108" cy="184" r="9.3"/><circle cx="1601" cy="172" r="9.3"/><circle cx="1519" cy="159" r="9.3"/><circle cx="1933" cy="168" r="9.3"/><circle cx="2291" cy="171" r="9.3"/><circle cx="1888" cy="190" r="9.3"/><circle cx="1406" cy="179" r="9.3"/><circle cx="1847" cy="163" r="9.3"/><circle cx="2102" cy="266" r="9.3"/><circle cx="1816" cy="174" r="9.3"/><circle cx="1622" cy="162" r="9.3"/><circle cx="1323" cy="163" r="9.3"/><circle cx="1622" cy="170" r="9.3"/><circle cx="1417" cy="188" r="9.3"/><circle cx="1393" cy="214" r="9.3"/><circle cx="2268" cy="200" r="9.3"/><circle cx="1138" cy="186" r="9.3"/><circle cx="668" cy="279" r="9.3"/><circle cx="1671" cy="164" r="9.3"/><circle cx="650" cy="170" r="9.3"/><circle cx="1294" cy="168" r="9.3"/><circle cx="2270" cy="157" r="9.3"/><circle cx="1176" cy="165" r="9.3"/><circle cx="1224" cy="160" r="9.3"/><circle cx="1578" cy="185" r="9.3"/><circle cx="1575" cy="195" r="9.3"/><circle cx="1839" cy="178" r="9.3"/><circle cx="1506" cy="184" r="9.3"/><circle cx="1314" cy="169" r="9.3"/><circle cx="1657" cy="160" r="9.3"/><circle cx="2391" cy="260" r="9.3"/><circle cx="2279" cy="296" r="9.3"/><circle cx="1154" cy="162" r="9.3"/><circle cx="1531" cy="177" r="9.3"/><circle cx="2333" cy="175" r="9.3"/><circle cx="1904" cy="202" r="9.3"/><circle cx="2287" cy="185" r="9.3"/><circle cx="1564" cy="169" r="9.3"/><circle cx="2262" cy="179" r="9.3"/><circle cx="1206" cy="175" r="9.3"/><circle cx="2107" cy="210" r="9.3"/><circle cx="1688" cy="177" r="9.3"/><circle cx="2131" cy="206" r="9.3"/><circle cx="1608" cy="160" r="9.3"/><circle cx="1339" cy="174" r="9.3"/><circle cx="1720" cy="177" r="9.3"/><circle cx="2214" cy="189" r="9.3"/><circle cx="1940" cy="172" r="9.3"/><circle cx="1517" cy="169" r="9.3"/><circle cx="2113" cy="256" r="9.3"/><circle cx="1956" cy="169" r="9.3"/><circle cx="1643" cy="172" r="9.3"/><circle cx="1585" cy="164" r="9.3"/><circle cx="2121" cy="159" r="9.3"/><circle cx="1138" cy="190" r="9.3"/><circle cx="2205" cy="160" r="9.3"/><circle cx="1845" cy="159" r="9.3"/><circle cx="1842" cy="168" r="9.3"/><circle cx="1578" cy="187" r="9.3"/><circle cx="1231" cy="235" r="9.3"/><circle cx="2132" cy="214" r="9.3"/><circle cx="1264" cy="171" r="9.3"/><circle cx="2485" cy="176" r="9.3"/><circle cx="1843" cy="159" r="9.3"/><circle cx="1844" cy="173" r="9.3"/><circle cx="1310" cy="168" r="9.3"/><circle cx="2160" cy="160" r="9.3"/><circle cx="1620" cy="164" r="9.3"/><circle cx="1884" cy="177" r="9.3"/><circle cx="1770" cy="189" r="9.3"/><circle cx="1480" cy="162" r="9.3"/></g>
<g class="sM"><circle cx="459" cy="164" r="9.3"/><circle cx="746" cy="310" r="9.3"/><circle cx="2749" cy="198" r="9.3"/></g>
<g class="sG"><circle cx="953" cy="181" r="9.3"/><circle cx="1147" cy="217" r="9.3"/><circle cx="2227" cy="202" r="9.3"/><circle cx="2536" cy="219" r="9.3"/><circle cx="1178" cy="231" r="9.3"/><circle cx="1895" cy="184" r="9.3"/><circle cx="2386" cy="179" r="9.3"/><circle cx="1445" cy="159" r="9.3"/><circle cx="949" cy="169" r="9.3"/><circle cx="1363" cy="217" r="9.3"/><circle cx="1249" cy="180" r="9.3"/><circle cx="2121" cy="238" r="9.3"/><circle cx="1447" cy="196" r="9.3"/><circle cx="1588" cy="189" r="9.3"/><circle cx="2379" cy="167" r="9.3"/><circle cx="2229" cy="200" r="9.3"/><circle cx="637" cy="211" r="9.3"/><circle cx="1216" cy="342" r="9.3"/><circle cx="1295" cy="210" r="9.3"/><circle cx="2503" cy="163" r="9.3"/><circle cx="1262" cy="162" r="9.3"/><circle cx="1988" cy="188" r="9.3"/><circle cx="1849" cy="195" r="9.3"/><circle cx="2419" cy="212" r="9.3"/><circle cx="2299" cy="190" r="9.3"/><circle cx="2333" cy="169" r="9.3"/><circle cx="2426" cy="170" r="9.3"/><circle cx="1574" cy="169" r="9.3"/><circle cx="2491" cy="186" r="9.3"/><circle cx="1295" cy="176" r="9.3"/><circle cx="2284" cy="227" r="9.3"/><circle cx="2161" cy="300" r="9.3"/><circle cx="1891" cy="175" r="9.3"/><circle cx="1556" cy="183" r="9.3"/><circle cx="2199" cy="157" r="9.3"/><circle cx="1190" cy="233" r="9.3"/><circle cx="2503" cy="255" r="9.3"/><circle cx="688" cy="223" r="9.3"/><circle cx="2372" cy="266" r="9.3"/><circle cx="2284" cy="255" r="9.3"/><circle cx="1179" cy="192" r="9.3"/><circle cx="2220" cy="177" r="9.3"/><circle cx="631" cy="275" r="9.3"/><circle cx="2216" cy="154" r="9.3"/><circle cx="1245" cy="167" r="9.3"/><circle cx="639" cy="166" r="9.3"/><circle cx="1417" cy="163" r="9.3"/><circle cx="2412" cy="160" r="9.3"/><circle cx="1872" cy="203" r="9.3"/><circle cx="1132" cy="280" r="9.3"/><circle cx="1209" cy="181" r="9.3"/><circle cx="2333" cy="199" r="9.3"/><circle cx="578" cy="243" r="9.3"/><circle cx="1842" cy="201" r="9.3"/><circle cx="1238" cy="272" r="9.3"/><circle cx="1963" cy="355" r="9.3"/><circle cx="2007" cy="170" r="9.3"/><circle cx="1293" cy="174" r="9.3"/><circle cx="2199" cy="187" r="9.3"/><circle cx="2436" cy="194" r="9.3"/><circle cx="2459" cy="200" r="9.3"/><circle cx="1809" cy="171" r="9.3"/><circle cx="1477" cy="175" r="9.3"/><circle cx="2155" cy="165" r="9.3"/><circle cx="2356" cy="168" r="9.3"/><circle cx="1324" cy="162" r="9.3"/><circle cx="927" cy="167" r="9.3"/><circle cx="1923" cy="384" r="9.3"/><circle cx="2222" cy="209" r="9.3"/><circle cx="2487" cy="174" r="9.3"/><circle cx="602" cy="266" r="9.3"/><circle cx="1148" cy="198" r="9.3"/><circle cx="1362" cy="194" r="9.3"/><circle cx="1087" cy="216" r="9.3"/><circle cx="2151" cy="232" r="9.3"/><circle cx="1873" cy="203" r="9.3"/><circle cx="2312" cy="199" r="9.3"/><circle cx="2148" cy="307" r="9.3"/><circle cx="2196" cy="189" r="9.3"/><circle cx="1786" cy="205" r="9.3"/><circle cx="2149" cy="281" r="9.3"/><circle cx="2083" cy="261" r="9.3"/><circle cx="2387" cy="181" r="9.3"/><circle cx="2469" cy="239" r="9.3"/><circle cx="2141" cy="186" r="9.3"/><circle cx="2445" cy="243" r="9.3"/><circle cx="1683" cy="167" r="9.3"/><circle cx="2027" cy="230" r="9.3"/><circle cx="2417" cy="214" r="9.3"/><circle cx="2026" cy="208" r="9.3"/><circle cx="2357" cy="209" r="9.3"/><circle cx="2508" cy="162" r="9.3"/><circle cx="1520" cy="189" r="9.3"/><circle cx="2193" cy="284" r="9.3"/><circle cx="1785" cy="198" r="9.3"/><circle cx="1838" cy="210" r="9.3"/><circle cx="1277" cy="180" r="9.3"/><circle cx="1208" cy="228" r="9.3"/><circle cx="1226" cy="342" r="9.3"/><circle cx="2015" cy="235" r="9.3"/><circle cx="2272" cy="159" r="9.3"/><circle cx="2456" cy="180" r="9.3"/><circle cx="665" cy="298" r="9.3"/><circle cx="2525" cy="337" r="9.3"/><circle cx="1190" cy="211" r="9.3"/><circle cx="1149" cy="191" r="9.3"/><circle cx="2282" cy="161" r="9.3"/><circle cx="2093" cy="168" r="9.3"/><circle cx="2504" cy="216" r="9.3"/><circle cx="2054" cy="207" r="9.3"/><circle cx="2040" cy="182" r="9.3"/><circle cx="2340" cy="210" r="9.3"/><circle cx="2219" cy="214" r="9.3"/><circle cx="2059" cy="320" r="9.3"/><circle cx="2214" cy="162" r="9.3"/><circle cx="1648" cy="207" r="9.3"/><circle cx="800" cy="216" r="9.3"/><circle cx="2215" cy="244" r="9.3"/><circle cx="2152" cy="230" r="9.3"/><circle cx="1800" cy="184" r="9.3"/><circle cx="2395" cy="237" r="9.3"/><circle cx="1055" cy="158" r="9.3"/><circle cx="2199" cy="203" r="9.3"/><circle cx="2443" cy="364" r="9.3"/><circle cx="1740" cy="175" r="9.3"/><circle cx="2500" cy="154" r="9.3"/><circle cx="2306" cy="229" r="9.3"/><circle cx="2133" cy="266" r="9.3"/><circle cx="2023" cy="200" r="9.3"/><circle cx="873" cy="182" r="9.3"/><circle cx="2200" cy="255" r="9.3"/><circle cx="1929" cy="183" r="9.3"/><circle cx="1430" cy="168" r="9.3"/><circle cx="2276" cy="181" r="9.3"/><circle cx="1340" cy="174" r="9.3"/><circle cx="2459" cy="170" r="9.3"/><circle cx="1999" cy="183" r="9.3"/><circle cx="2505" cy="241" r="9.3"/><circle cx="1373" cy="193" r="9.3"/><circle cx="2428" cy="207" r="9.3"/><circle cx="2383" cy="173" r="9.3"/><circle cx="1825" cy="197" r="9.3"/><circle cx="2225" cy="190" r="9.3"/><circle cx="1633" cy="166" r="9.3"/><circle cx="2012" cy="340" r="9.3"/><circle cx="2230" cy="216" r="9.3"/><circle cx="2278" cy="255" r="9.3"/><circle cx="2237" cy="195" r="9.3"/><circle cx="2300" cy="206" r="9.3"/><circle cx="603" cy="188" r="9.3"/><circle cx="1778" cy="159" r="9.3"/><circle cx="2584" cy="186" r="9.3"/><circle cx="2110" cy="232" r="9.3"/><circle cx="1630" cy="177" r="9.3"/><circle cx="2137" cy="244" r="9.3"/><circle cx="1800" cy="201" r="9.3"/><circle cx="2264" cy="219" r="9.3"/><circle cx="2361" cy="259" r="9.3"/><circle cx="2021" cy="189" r="9.3"/><circle cx="2381" cy="178" r="9.3"/><circle cx="1647" cy="207" r="9.3"/><circle cx="1784" cy="208" r="9.3"/><circle cx="2130" cy="262" r="9.3"/><circle cx="2234" cy="176" r="9.3"/><circle cx="2071" cy="317" r="9.3"/><circle cx="2108" cy="189" r="9.3"/><circle cx="1837" cy="177" r="9.3"/><circle cx="1690" cy="209" r="9.3"/><circle cx="2291" cy="212" r="9.3"/><circle cx="2247" cy="170" r="9.3"/><circle cx="1135" cy="213" r="9.3"/><circle cx="2419" cy="164" r="9.3"/><circle cx="2186" cy="191" r="9.3"/><circle cx="1653" cy="192" r="9.3"/><circle cx="2169" cy="218" r="9.3"/><circle cx="2240" cy="211" r="9.3"/><circle cx="2063" cy="175" r="9.3"/><circle cx="1631" cy="182" r="9.3"/><circle cx="2205" cy="195" r="9.3"/><circle cx="2037" cy="212" r="9.3"/><circle cx="1700" cy="221" r="9.3"/><circle cx="1773" cy="205" r="9.3"/><circle cx="2118" cy="194" r="9.3"/><circle cx="2154" cy="258" r="9.3"/><circle cx="1175" cy="224" r="9.3"/><circle cx="1627" cy="181" r="9.3"/><circle cx="2214" cy="211" r="9.3"/><circle cx="1329" cy="317" r="9.3"/><circle cx="2156" cy="250" r="9.3"/><circle cx="2018" cy="351" r="9.3"/></g>
<g class="sC"><circle cx="545" cy="224" r="9.3"/><circle cx="1142" cy="265" r="9.3"/><circle cx="2202" cy="350" r="9.3"/><circle cx="2041" cy="442" r="9.3"/><circle cx="2257" cy="147" r="9.3"/><circle cx="2269" cy="147" r="9.3"/></g>
<g class="sP"><circle cx="2234" cy="154" r="9.3"/><circle cx="1078" cy="190" r="9.3"/><circle cx="1401" cy="176" r="9.3"/><circle cx="1692" cy="171" r="9.3"/><circle cx="1456" cy="179" r="9.3"/><circle cx="1335" cy="160" r="9.3"/><circle cx="1466" cy="170" r="9.3"/><circle cx="2024" cy="172" r="9.3"/><circle cx="2278" cy="155" r="9.3"/><circle cx="2492" cy="248" r="9.3"/><circle cx="1306" cy="303" r="9.3"/><circle cx="1628" cy="158" r="9.3"/><circle cx="2016" cy="238" r="9.3"/><circle cx="1912" cy="169" r="9.3"/><circle cx="1134" cy="161" r="9.3"/><circle cx="1598" cy="159" r="9.3"/><circle cx="1876" cy="181" r="9.3"/><circle cx="1361" cy="196" r="9.3"/><circle cx="1329" cy="217" r="9.3"/><circle cx="2218" cy="295" r="9.3"/><circle cx="1311" cy="174" r="9.3"/><circle cx="1426" cy="160" r="9.3"/><circle cx="1542" cy="161" r="9.3"/><circle cx="2483" cy="167" r="9.3"/><circle cx="1505" cy="198" r="9.3"/><circle cx="1782" cy="161" r="9.3"/><circle cx="1257" cy="164" r="9.3"/><circle cx="2124" cy="198" r="9.3"/><circle cx="2142" cy="168" r="9.3"/><circle cx="1381" cy="217" r="9.3"/><circle cx="1379" cy="162" r="9.3"/><circle cx="2050" cy="159" r="9.3"/><circle cx="1866" cy="162" r="9.3"/><circle cx="1305" cy="161" r="9.3"/><circle cx="1461" cy="179" r="9.3"/><circle cx="1400" cy="173" r="9.3"/><circle cx="1974" cy="181" r="9.3"/><circle cx="1438" cy="169" r="9.3"/><circle cx="2151" cy="233" r="9.3"/><circle cx="1432" cy="192" r="9.3"/><circle cx="1994" cy="165" r="9.3"/><circle cx="1371" cy="179" r="9.3"/><circle cx="1492" cy="169" r="9.3"/><circle cx="1946" cy="162" r="9.3"/><circle cx="1604" cy="168" r="9.3"/><circle cx="1635" cy="182" r="9.3"/><circle cx="1367" cy="181" r="9.3"/><circle cx="1326" cy="320" r="9.3"/><circle cx="1904" cy="160" r="9.3"/><circle cx="2157" cy="231" r="9.3"/><circle cx="2162" cy="171" r="9.3"/><circle cx="1660" cy="167" r="9.3"/><circle cx="1142" cy="196" r="9.3"/><circle cx="2221" cy="166" r="9.3"/><circle cx="1590" cy="162" r="9.3"/><circle cx="704" cy="163" r="9.3"/><circle cx="1947" cy="189" r="9.3"/><circle cx="1557" cy="186" r="9.3"/><circle cx="2287" cy="204" r="9.3"/><circle cx="1839" cy="189" r="9.3"/><circle cx="1520" cy="161" r="9.3"/><circle cx="1794" cy="160" r="9.3"/><circle cx="1848" cy="161" r="9.3"/><circle cx="1835" cy="165" r="9.3"/><circle cx="2030" cy="225" r="9.3"/><circle cx="1212" cy="172" r="9.3"/><circle cx="2287" cy="174" r="9.3"/><circle cx="2205" cy="175" r="9.3"/><circle cx="1549" cy="168" r="9.3"/><circle cx="2111" cy="157" r="9.3"/><circle cx="2373" cy="237" r="9.3"/><circle cx="1467" cy="193" r="9.3"/><circle cx="1798" cy="180" r="9.3"/><circle cx="1330" cy="162" r="9.3"/><circle cx="1218" cy="159" r="9.3"/><circle cx="1896" cy="164" r="9.3"/><circle cx="1854" cy="171" r="9.3"/><circle cx="2398" cy="171" r="9.3"/><circle cx="1723" cy="189" r="9.3"/><circle cx="1147" cy="171" r="9.3"/><circle cx="2087" cy="229" r="9.3"/><circle cx="1754" cy="199" r="9.3"/><circle cx="2177" cy="157" r="9.3"/><circle cx="1653" cy="161" r="9.3"/><circle cx="2254" cy="165" r="9.3"/><circle cx="2076" cy="293" r="9.3"/><circle cx="1289" cy="313" r="9.3"/><circle cx="1460" cy="185" r="9.3"/><circle cx="2228" cy="263" r="9.3"/><circle cx="1484" cy="186" r="9.3"/><circle cx="1851" cy="167" r="9.3"/><circle cx="1339" cy="194" r="9.3"/><circle cx="1732" cy="173" r="9.3"/><circle cx="1225" cy="169" r="9.3"/><circle cx="1296" cy="161" r="9.3"/><circle cx="1706" cy="163" r="9.3"/><circle cx="2268" cy="220" r="9.3"/><circle cx="1266" cy="198" r="9.3"/><circle cx="2082" cy="172" r="9.3"/><circle cx="2043" cy="287" r="9.3"/><circle cx="1363" cy="161" r="9.3"/><circle cx="1518" cy="174" r="9.3"/><circle cx="670" cy="186" r="9.3"/><circle cx="2331" cy="181" r="9.3"/><circle cx="1747" cy="190" r="9.3"/><circle cx="1777" cy="178" r="9.3"/><circle cx="1280" cy="238" r="9.3"/><circle cx="2149" cy="245" r="9.3"/><circle cx="1987" cy="161" r="9.3"/><circle cx="1310" cy="171" r="9.3"/><circle cx="1313" cy="205" r="9.3"/><circle cx="1894" cy="156" r="9.3"/><circle cx="1705" cy="160" r="9.3"/><circle cx="2163" cy="161" r="9.3"/><circle cx="2233" cy="170" r="9.3"/><circle cx="2054" cy="195" r="9.3"/><circle cx="1258" cy="158" r="9.3"/><circle cx="1278" cy="160" r="9.3"/><circle cx="1767" cy="175" r="9.3"/><circle cx="2087" cy="182" r="9.3"/><circle cx="1842" cy="161" r="9.3"/><circle cx="1923" cy="176" r="9.3"/><circle cx="1851" cy="164" r="9.3"/><circle cx="2044" cy="159" r="9.3"/><circle cx="1380" cy="164" r="9.3"/><circle cx="1111" cy="197" r="9.3"/><circle cx="2003" cy="171" r="9.3"/><circle cx="1680" cy="164" r="9.3"/><circle cx="1306" cy="183" r="9.3"/><circle cx="1274" cy="165" r="9.3"/><circle cx="2237" cy="154" r="9.3"/><circle cx="1570" cy="199" r="9.3"/><circle cx="1707" cy="183" r="9.3"/><circle cx="2089" cy="162" r="9.3"/><circle cx="1183" cy="172" r="9.3"/><circle cx="1863" cy="182" r="9.3"/><circle cx="1669" cy="165" r="9.3"/><circle cx="2278" cy="218" r="9.3"/><circle cx="2097" cy="166" r="9.3"/><circle cx="1150" cy="174" r="9.3"/><circle cx="1656" cy="158" r="9.3"/><circle cx="2241" cy="275" r="9.3"/><circle cx="1857" cy="162" r="9.3"/><circle cx="1664" cy="170" r="9.3"/><circle cx="1746" cy="161" r="9.3"/><circle cx="1046" cy="170" r="9.3"/><circle cx="2259" cy="171" r="9.3"/><circle cx="1564" cy="164" r="9.3"/><circle cx="1762" cy="160" r="9.3"/><circle cx="1621" cy="175" r="9.3"/><circle cx="1325" cy="170" r="9.3"/><circle cx="1771" cy="178" r="9.3"/><circle cx="1960" cy="162" r="9.3"/><circle cx="626" cy="225" r="9.3"/><circle cx="1338" cy="176" r="9.3"/><circle cx="1482" cy="167" r="9.3"/><circle cx="1699" cy="175" r="9.3"/><circle cx="1941" cy="160" r="9.3"/><circle cx="1426" cy="161" r="9.3"/><circle cx="1988" cy="194" r="9.3"/><circle cx="1304" cy="249" r="9.3"/><circle cx="1831" cy="183" r="9.3"/><circle cx="1844" cy="161" r="9.3"/><circle cx="1438" cy="158" r="9.3"/><circle cx="1847" cy="161" r="9.3"/><circle cx="2133" cy="166" r="9.3"/><circle cx="1825" cy="205" r="9.3"/><circle cx="1779" cy="185" r="9.3"/><circle cx="2147" cy="163" r="9.3"/><circle cx="1160" cy="208" r="9.3"/><circle cx="2128" cy="156" r="9.3"/><circle cx="1774" cy="183" r="9.3"/><circle cx="1932" cy="173" r="9.3"/><circle cx="1548" cy="191" r="9.3"/><circle cx="2511" cy="160" r="9.3"/><circle cx="1579" cy="183" r="9.3"/><circle cx="1166" cy="166" r="9.3"/><circle cx="1457" cy="160" r="9.3"/><circle cx="2266" cy="178" r="9.3"/><circle cx="2238" cy="179" r="9.3"/><circle cx="1864" cy="202" r="9.3"/><circle cx="1818" cy="173" r="9.3"/><circle cx="1981" cy="204" r="9.3"/><circle cx="1668" cy="173" r="9.3"/><circle cx="1824" cy="161" r="9.3"/><circle cx="1881" cy="159" r="9.3"/><circle cx="1850" cy="169" r="9.3"/><circle cx="1419" cy="191" r="9.3"/><circle cx="1578" cy="190" r="9.3"/><circle cx="1941" cy="196" r="9.3"/><circle cx="1272" cy="167" r="9.3"/><circle cx="1371" cy="177" r="9.3"/><circle cx="1179" cy="160" r="9.3"/><circle cx="1990" cy="183" r="9.3"/><circle cx="1053" cy="186" r="9.3"/><circle cx="1799" cy="186" r="9.3"/><circle cx="1664" cy="180" r="9.3"/><circle cx="1669" cy="165" r="9.3"/><circle cx="1688" cy="162" r="9.3"/><circle cx="1683" cy="175" r="9.3"/><circle cx="1457" cy="169" r="9.3"/><circle cx="1734" cy="187" r="9.3"/><circle cx="1806" cy="160" r="9.3"/><circle cx="1365" cy="162" r="9.3"/><circle cx="1623" cy="168" r="9.3"/><circle cx="1387" cy="172" r="9.3"/><circle cx="1843" cy="177" r="9.3"/><circle cx="1391" cy="165" r="9.3"/><circle cx="1898" cy="172" r="9.3"/><circle cx="1988" cy="160" r="9.3"/><circle cx="1451" cy="169" r="9.3"/><circle cx="662" cy="174" r="9.3"/><circle cx="1224" cy="164" r="9.3"/><circle cx="1135" cy="183" r="9.3"/><circle cx="1890" cy="173" r="9.3"/><circle cx="1982" cy="186" r="9.3"/><circle cx="1723" cy="160" r="9.3"/><circle cx="1938" cy="166" r="9.3"/><circle cx="1757" cy="175" r="9.3"/><circle cx="1769" cy="164" r="9.3"/><circle cx="1178" cy="197" r="9.3"/><circle cx="2072" cy="163" r="9.3"/><circle cx="1371" cy="159" r="9.3"/><circle cx="1834" cy="162" r="9.3"/></g>
<g class="sV"><circle cx="2652" cy="222" r="9.3"/><circle cx="1318" cy="220" r="9.3"/><circle cx="2499" cy="161" r="9.3"/><circle cx="557" cy="173" r="9.3"/><circle cx="574" cy="379" r="9.3"/><circle cx="2540" cy="231" r="9.3"/><circle cx="2058" cy="896" r="9.3"/><circle cx="2461" cy="199" r="9.3"/><circle cx="1692" cy="174" r="9.3"/><circle cx="1252" cy="220" r="9.3"/><circle cx="565" cy="180" r="9.3"/><circle cx="1099" cy="206" r="9.3"/><circle cx="582" cy="321" r="9.3"/><circle cx="2004" cy="330" r="9.3"/><circle cx="781" cy="276" r="9.3"/><circle cx="1198" cy="188" r="9.3"/><circle cx="1234" cy="215" r="9.3"/><circle cx="2525" cy="159" r="9.3"/><circle cx="2497" cy="228" r="9.3"/><circle cx="2144" cy="201" r="9.3"/><circle cx="2118" cy="354" r="9.3"/><circle cx="1303" cy="189" r="9.3"/><circle cx="2496" cy="179" r="9.3"/><circle cx="548" cy="182" r="9.3"/><circle cx="1693" cy="645" r="9.3"/><circle cx="561" cy="188" r="9.3"/><circle cx="1187" cy="239" r="9.3"/><circle cx="1205" cy="226" r="9.3"/><circle cx="566" cy="183" r="9.3"/><circle cx="1714" cy="168" r="9.3"/><circle cx="523" cy="180" r="9.3"/><circle cx="2379" cy="219" r="9.3"/><circle cx="1133" cy="205" r="9.3"/><circle cx="2005" cy="223" r="9.3"/><circle cx="1643" cy="654" r="9.3"/><circle cx="2186" cy="197" r="9.3"/><circle cx="2687" cy="181" r="9.3"/><circle cx="587" cy="372" r="9.3"/><circle cx="1836" cy="607" r="9.3"/><circle cx="2128" cy="304" r="9.3"/><circle cx="1949" cy="182" r="9.3"/><circle cx="1241" cy="221" r="9.3"/><circle cx="2237" cy="155" r="9.3"/><circle cx="1890" cy="550" r="9.3"/><circle cx="2695" cy="154" r="9.3"/><circle cx="2203" cy="224" r="9.3"/><circle cx="2110" cy="359" r="9.3"/><circle cx="1254" cy="214" r="9.3"/><circle cx="2536" cy="176" r="9.3"/><circle cx="557" cy="154" r="9.3"/><circle cx="965" cy="214" r="9.3"/><circle cx="2170" cy="435" r="9.3"/><circle cx="2020" cy="196" r="9.3"/><circle cx="1910" cy="601" r="9.3"/><circle cx="2559" cy="187" r="9.3"/><circle cx="1655" cy="197" r="9.3"/><circle cx="2113" cy="255" r="9.3"/><circle cx="2196" cy="252" r="9.3"/><circle cx="883" cy="157" r="9.3"/><circle cx="979" cy="215" r="9.3"/><circle cx="577" cy="267" r="9.3"/><circle cx="2483" cy="264" r="9.3"/><circle cx="2271" cy="367" r="9.3"/><circle cx="614" cy="219" r="9.3"/><circle cx="578" cy="182" r="9.3"/><circle cx="519" cy="188" r="9.3"/><circle cx="2559" cy="163" r="9.3"/><circle cx="1213" cy="371" r="9.3"/><circle cx="1814" cy="521" r="9.3"/><circle cx="554" cy="154" r="9.3"/><circle cx="774" cy="231" r="9.3"/><circle cx="2240" cy="158" r="9.3"/><circle cx="832" cy="316" r="9.3"/><circle cx="581" cy="189" r="9.3"/><circle cx="457" cy="183" r="9.3"/></g>
<g class="sM"><circle cx="3354" cy="194" r="9.3"/><circle cx="2411" cy="245" r="9.3"/><circle cx="577" cy="267" r="9.3"/></g>
<g class="sC"><circle cx="2445" cy="323" r="9.3"/><circle cx="532" cy="248" r="9.3"/><circle cx="2077" cy="205" r="9.3"/><circle cx="667" cy="211" r="9.3"/><circle cx="1813" cy="611" r="9.3"/><circle cx="2220" cy="282" r="9.3"/></g>
<g class="sV"><circle cx="2078" cy="194" r="9.3"/><circle cx="2154" cy="157" r="9.3"/><circle cx="2025" cy="254" r="9.3"/><circle cx="1109" cy="203" r="9.3"/><circle cx="1215" cy="188" r="9.3"/><circle cx="621" cy="305" r="9.3"/><circle cx="501" cy="194" r="9.3"/><circle cx="1177" cy="318" r="9.3"/><circle cx="573" cy="293" r="9.3"/><circle cx="1218" cy="207" r="9.3"/><circle cx="2175" cy="188" r="9.3"/><circle cx="1816" cy="675" r="9.3"/><circle cx="2286" cy="188" r="9.3"/><circle cx="2532" cy="323" r="9.3"/><circle cx="1916" cy="244" r="9.3"/><circle cx="453" cy="160" r="9.3"/><circle cx="569" cy="363" r="9.3"/><circle cx="1624" cy="197" r="9.3"/><circle cx="561" cy="182" r="9.3"/><circle cx="1836" cy="590" r="9.3"/><circle cx="869" cy="263" r="9.3"/><circle cx="1817" cy="524" r="9.3"/><circle cx="2126" cy="210" r="9.3"/><circle cx="1306" cy="204" r="9.3"/><circle cx="2978" cy="194" r="9.3"/><circle cx="568" cy="183" r="9.3"/><circle cx="2166" cy="212" r="9.3"/><circle cx="2457" cy="229" r="9.3"/><circle cx="2241" cy="182" r="9.3"/><circle cx="538" cy="153" r="9.3"/><circle cx="2242" cy="323" r="9.3"/><circle cx="508" cy="170" r="9.3"/><circle cx="524" cy="154" r="9.3"/><circle cx="2198" cy="193" r="9.3"/><circle cx="2734" cy="152" r="9.3"/><circle cx="1453" cy="168" r="9.3"/><circle cx="1281" cy="214" r="9.3"/><circle cx="921" cy="224" r="9.3"/><circle cx="2255" cy="179" r="9.3"/><circle cx="2156" cy="223" r="9.3"/><circle cx="1043" cy="233" r="9.3"/><circle cx="1999" cy="230" r="9.3"/><circle cx="549" cy="175" r="9.3"/><circle cx="555" cy="177" r="9.3"/><circle cx="1927" cy="216" r="9.3"/><circle cx="1192" cy="236" r="9.3"/><circle cx="1991" cy="579" r="9.3"/><circle cx="1169" cy="232" r="9.3"/><circle cx="555" cy="153" r="9.3"/><circle cx="1824" cy="514" r="9.3"/><circle cx="2524" cy="215" r="9.3"/><circle cx="2011" cy="314" r="9.3"/><circle cx="2285" cy="161" r="9.3"/><circle cx="527" cy="174" r="9.3"/><circle cx="584" cy="186" r="9.3"/><circle cx="2259" cy="186" r="9.3"/><circle cx="487" cy="187" r="9.3"/><circle cx="2156" cy="197" r="9.3"/><circle cx="1297" cy="235" r="9.3"/><circle cx="1058" cy="240" r="9.3"/><circle cx="2424" cy="176" r="9.3"/><circle cx="616" cy="178" r="9.3"/><circle cx="2238" cy="206" r="9.3"/><circle cx="2688" cy="353" r="9.3"/><circle cx="2432" cy="174" r="9.3"/><circle cx="561" cy="154" r="9.3"/><circle cx="483" cy="185" r="9.3"/><circle cx="2482" cy="348" r="9.3"/><circle cx="2400" cy="200" r="9.3"/><circle cx="1072" cy="335" r="9.3"/><circle cx="2161" cy="167" r="9.3"/><circle cx="2174" cy="221" r="9.3"/><circle cx="2168" cy="190" r="9.3"/><circle cx="1149" cy="167" r="9.3"/><circle cx="2493" cy="179" r="9.3"/></g>
<g class="sG"><circle cx="2557" cy="213" r="9.3"/><circle cx="906" cy="192" r="9.3"/><circle cx="2312" cy="219" r="9.3"/><circle cx="2309" cy="221" r="9.3"/><circle cx="2290" cy="309" r="9.3"/><circle cx="1994" cy="171" r="9.3"/><circle cx="1135" cy="225" r="9.3"/><circle cx="1556" cy="185" r="9.3"/><circle cx="2338" cy="222" r="9.3"/><circle cx="2379" cy="279" r="9.3"/><circle cx="1883" cy="166" r="9.3"/><circle cx="2041" cy="188" r="9.3"/><circle cx="2109" cy="274" r="9.3"/><circle cx="1924" cy="384" r="9.3"/><circle cx="2173" cy="311" r="9.3"/><circle cx="2243" cy="216" r="9.3"/><circle cx="2244" cy="182" r="9.3"/><circle cx="1126" cy="215" r="9.3"/><circle cx="1387" cy="202" r="9.3"/><circle cx="526" cy="200" r="9.3"/><circle cx="2434" cy="207" r="9.3"/><circle cx="2081" cy="192" r="9.3"/><circle cx="2348" cy="178" r="9.3"/><circle cx="2139" cy="293" r="9.3"/><circle cx="1623" cy="190" r="9.3"/><circle cx="1929" cy="368" r="9.3"/><circle cx="2341" cy="172" r="9.3"/><circle cx="1770" cy="194" r="9.3"/><circle cx="1758" cy="205" r="9.3"/><circle cx="1336" cy="194" r="9.3"/><circle cx="1439" cy="203" r="9.3"/><circle cx="1655" cy="189" r="9.3"/><circle cx="2119" cy="177" r="9.3"/><circle cx="1925" cy="166" r="9.3"/><circle cx="2245" cy="175" r="9.3"/><circle cx="1921" cy="379" r="9.3"/><circle cx="2601" cy="192" r="9.3"/><circle cx="2039" cy="206" r="9.3"/><circle cx="629" cy="206" r="9.3"/><circle cx="2264" cy="257" r="9.3"/><circle cx="1342" cy="186" r="9.3"/><circle cx="1875" cy="177" r="9.3"/><circle cx="2581" cy="189" r="9.3"/><circle cx="2160" cy="181" r="9.3"/><circle cx="2008" cy="352" r="9.3"/><circle cx="2173" cy="284" r="9.3"/><circle cx="1118" cy="236" r="9.3"/><circle cx="2090" cy="225" r="9.3"/><circle cx="1705" cy="194" r="9.3"/><circle cx="2046" cy="208" r="9.3"/><circle cx="2332" cy="213" r="9.3"/><circle cx="1634" cy="202" r="9.3"/><circle cx="1854" cy="214" r="9.3"/><circle cx="1208" cy="302" r="9.3"/><circle cx="1365" cy="212" r="9.3"/><circle cx="2414" cy="155" r="9.3"/><circle cx="2182" cy="257" r="9.3"/><circle cx="2097" cy="230" r="9.3"/><circle cx="1211" cy="211" r="9.3"/><circle cx="2273" cy="182" r="9.3"/><circle cx="2125" cy="182" r="9.3"/><circle cx="2454" cy="159" r="9.3"/><circle cx="2595" cy="184" r="9.3"/><circle cx="1242" cy="217" r="9.3"/><circle cx="747" cy="276" r="9.3"/><circle cx="2115" cy="181" r="9.3"/><circle cx="2053" cy="303" r="9.3"/><circle cx="2480" cy="182" r="9.3"/><circle cx="2124" cy="222" r="9.3"/><circle cx="1241" cy="218" r="9.3"/><circle cx="2083" cy="284" r="9.3"/><circle cx="749" cy="177" r="9.3"/><circle cx="1137" cy="207" r="9.3"/><circle cx="917" cy="197" r="9.3"/><circle cx="789" cy="209" r="9.3"/><circle cx="2329" cy="157" r="9.3"/><circle cx="1103" cy="235" r="9.3"/><circle cx="2142" cy="217" r="9.3"/><circle cx="1734" cy="174" r="9.3"/><circle cx="1193" cy="184" r="9.3"/><circle cx="964" cy="195" r="9.3"/><circle cx="1954" cy="199" r="9.3"/><circle cx="2223" cy="243" r="9.3"/><circle cx="1159" cy="237" r="9.3"/><circle cx="2215" cy="160" r="9.3"/><circle cx="2198" cy="308" r="9.3"/><circle cx="2489" cy="187" r="9.3"/><circle cx="2373" cy="205" r="9.3"/><circle cx="1202" cy="222" r="9.3"/><circle cx="2128" cy="292" r="9.3"/><circle cx="2506" cy="217" r="9.3"/><circle cx="1983" cy="171" r="9.3"/><circle cx="1539" cy="173" r="9.3"/><circle cx="1286" cy="195" r="9.3"/><circle cx="2248" cy="212" r="9.3"/><circle cx="2629" cy="165" r="9.3"/><circle cx="2291" cy="219" r="9.3"/><circle cx="2312" cy="189" r="9.3"/><circle cx="2241" cy="170" r="9.3"/><circle cx="2431" cy="193" r="9.3"/><circle cx="2251" cy="194" r="9.3"/><circle cx="2507" cy="196" r="9.3"/><circle cx="1047" cy="153" r="9.3"/><circle cx="1060" cy="233" r="9.3"/><circle cx="2017" cy="321" r="9.3"/><circle cx="2281" cy="207" r="9.3"/><circle cx="2134" cy="325" r="9.3"/><circle cx="2245" cy="213" r="9.3"/><circle cx="2489" cy="155" r="9.3"/><circle cx="1176" cy="275" r="9.3"/><circle cx="2011" cy="187" r="9.3"/><circle cx="2034" cy="168" r="9.3"/><circle cx="2230" cy="181" r="9.3"/><circle cx="1158" cy="233" r="9.3"/><circle cx="1106" cy="212" r="9.3"/><circle cx="2192" cy="304" r="9.3"/><circle cx="2171" cy="220" r="9.3"/><circle cx="1931" cy="165" r="9.3"/><circle cx="1626" cy="188" r="9.3"/><circle cx="1538" cy="181" r="9.3"/><circle cx="2181" cy="218" r="9.3"/><circle cx="2087" cy="225" r="9.3"/><circle cx="625" cy="165" r="9.3"/><circle cx="2433" cy="215" r="9.3"/><circle cx="2484" cy="196" r="9.3"/><circle cx="2005" cy="335" r="9.3"/><circle cx="1194" cy="222" r="9.3"/><circle cx="1220" cy="162" r="9.3"/><circle cx="1108" cy="239" r="9.3"/><circle cx="1263" cy="159" r="9.3"/><circle cx="2136" cy="230" r="9.3"/><circle cx="2125" cy="209" r="9.3"/><circle cx="2331" cy="184" r="9.3"/><circle cx="2164" cy="309" r="9.3"/><circle cx="1470" cy="169" r="9.3"/><circle cx="2170" cy="242" r="9.3"/><circle cx="1923" cy="378" r="9.3"/><circle cx="2003" cy="172" r="9.3"/><circle cx="1284" cy="309" r="9.3"/><circle cx="1660" cy="206" r="9.3"/><circle cx="2198" cy="284" r="9.3"/><circle cx="2002" cy="338" r="9.3"/><circle cx="1293" cy="202" r="9.3"/><circle cx="2274" cy="192" r="9.3"/><circle cx="2271" cy="272" r="9.3"/><circle cx="1326" cy="177" r="9.3"/><circle cx="1633" cy="176" r="9.3"/><circle cx="1458" cy="177" r="9.3"/><circle cx="2289" cy="214" r="9.3"/><circle cx="1243" cy="178" r="9.3"/><circle cx="608" cy="183" r="9.3"/><circle cx="1221" cy="208" r="9.3"/><circle cx="1326" cy="185" r="9.3"/><circle cx="579" cy="180" r="9.3"/><circle cx="2067" cy="161" r="9.3"/><circle cx="2503" cy="170" r="9.3"/><circle cx="2069" cy="195" r="9.3"/><circle cx="1655" cy="191" r="9.3"/><circle cx="2356" cy="180" r="9.3"/><circle cx="1785" cy="173" r="9.3"/><circle cx="2400" cy="189" r="9.3"/><circle cx="2203" cy="306" r="9.3"/><circle cx="637" cy="156" r="9.3"/><circle cx="1170" cy="267" r="9.3"/><circle cx="2405" cy="180" r="9.3"/><circle cx="1271" cy="180" r="9.3"/><circle cx="2282" cy="212" r="9.3"/><circle cx="2167" cy="236" r="9.3"/><circle cx="1291" cy="163" r="9.3"/><circle cx="1778" cy="161" r="9.3"/><circle cx="2162" cy="317" r="9.3"/><circle cx="1687" cy="213" r="9.3"/><circle cx="2017" cy="356" r="9.3"/><circle cx="2181" cy="182" r="9.3"/><circle cx="1377" cy="195" r="9.3"/><circle cx="2267" cy="174" r="9.3"/><circle cx="2213" cy="190" r="9.3"/><circle cx="2188" cy="187" r="9.3"/><circle cx="2614" cy="185" r="9.3"/><circle cx="2404" cy="252" r="9.3"/><circle cx="1545" cy="189" r="9.3"/><circle cx="1357" cy="184" r="9.3"/><circle cx="1845" cy="230" r="9.3"/><circle cx="1072" cy="156" r="9.3"/><circle cx="2204" cy="246" r="9.3"/><circle cx="2261" cy="179" r="9.3"/><circle cx="2323" cy="212" r="9.3"/><circle cx="1373" cy="193" r="9.3"/><circle cx="2270" cy="199" r="9.3"/><circle cx="1660" cy="176" r="9.3"/><circle cx="1661" cy="223" r="9.3"/></g>
<g class="sP"><circle cx="2214" cy="278" r="9.3"/><circle cx="1584" cy="174" r="9.3"/><circle cx="1619" cy="169" r="9.3"/><circle cx="1394" cy="193" r="9.3"/><circle cx="1416" cy="171" r="9.3"/><circle cx="1843" cy="196" r="9.3"/><circle cx="1312" cy="159" r="9.3"/><circle cx="1400" cy="170" r="9.3"/><circle cx="1510" cy="182" r="9.3"/><circle cx="1550" cy="181" r="9.3"/><circle cx="1319" cy="201" r="9.3"/><circle cx="2154" cy="275" r="9.3"/><circle cx="2175" cy="180" r="9.3"/><circle cx="1924" cy="172" r="9.3"/><circle cx="1852" cy="158" r="9.3"/><circle cx="1989" cy="173" r="9.3"/><circle cx="2225" cy="228" r="9.3"/><circle cx="2268" cy="164" r="9.3"/><circle cx="1977" cy="177" r="9.3"/><circle cx="1681" cy="160" r="9.3"/><circle cx="1347" cy="163" r="9.3"/><circle cx="2037" cy="158" r="9.3"/><circle cx="1419" cy="175" r="9.3"/><circle cx="1669" cy="170" r="9.3"/><circle cx="1463" cy="172" r="9.3"/><circle cx="1853" cy="175" r="9.3"/><circle cx="2136" cy="192" r="9.3"/><circle cx="1755" cy="170" r="9.3"/><circle cx="1753" cy="191" r="9.3"/><circle cx="1933" cy="187" r="9.3"/><circle cx="1199" cy="165" r="9.3"/><circle cx="2048" cy="164" r="9.3"/><circle cx="1712" cy="176" r="9.3"/><circle cx="1930" cy="206" r="9.3"/><circle cx="2040" cy="169" r="9.3"/><circle cx="1963" cy="168" r="9.3"/><circle cx="1808" cy="170" r="9.3"/><circle cx="1234" cy="162" r="9.3"/><circle cx="2277" cy="265" r="9.3"/><circle cx="1574" cy="190" r="9.3"/><circle cx="2161" cy="163" r="9.3"/><circle cx="1665" cy="165" r="9.3"/><circle cx="2023" cy="197" r="9.3"/><circle cx="1650" cy="170" r="9.3"/><circle cx="1957" cy="172" r="9.3"/><circle cx="1960" cy="158" r="9.3"/><circle cx="1254" cy="207" r="9.3"/><circle cx="2284" cy="188" r="9.3"/><circle cx="1710" cy="172" r="9.3"/><circle cx="2034" cy="219" r="9.3"/><circle cx="1722" cy="162" r="9.3"/><circle cx="1182" cy="164" r="9.3"/><circle cx="2016" cy="165" r="9.3"/><circle cx="2036" cy="165" r="9.3"/><circle cx="1313" cy="176" r="9.3"/><circle cx="1406" cy="160" r="9.3"/><circle cx="1501" cy="171" r="9.3"/><circle cx="1237" cy="180" r="9.3"/><circle cx="2216" cy="172" r="9.3"/><circle cx="1851" cy="163" r="9.3"/><circle cx="1417" cy="183" r="9.3"/><circle cx="2144" cy="250" r="9.3"/><circle cx="2150" cy="167" r="9.3"/><circle cx="1283" cy="237" r="9.3"/><circle cx="1679" cy="180" r="9.3"/><circle cx="1868" cy="160" r="9.3"/><circle cx="1877" cy="197" r="9.3"/><circle cx="2275" cy="250" r="9.3"/><circle cx="1814" cy="183" r="9.3"/><circle cx="1876" cy="168" r="9.3"/><circle cx="1774" cy="188" r="9.3"/><circle cx="1276" cy="214" r="9.3"/><circle cx="1763" cy="154" r="9.3"/><circle cx="1247" cy="154" r="9.3"/><circle cx="1726" cy="190" r="9.3"/><circle cx="1899" cy="157" r="9.3"/><circle cx="1394" cy="183" r="9.3"/><circle cx="1451" cy="177" r="9.3"/><circle cx="1683" cy="173" r="9.3"/><circle cx="1275" cy="162" r="9.3"/><circle cx="1233" cy="186" r="9.3"/><circle cx="1436" cy="180" r="9.3"/><circle cx="2279" cy="175" r="9.3"/><circle cx="1582" cy="193" r="9.3"/><circle cx="1614" cy="161" r="9.3"/><circle cx="2261" cy="169" r="9.3"/><circle cx="1534" cy="158" r="9.3"/><circle cx="1827" cy="169" r="9.3"/><circle cx="2264" cy="155" r="9.3"/><circle cx="2066" cy="174" r="9.3"/><circle cx="1751" cy="180" r="9.3"/><circle cx="2144" cy="191" r="9.3"/><circle cx="1640" cy="185" r="9.3"/><circle cx="1545" cy="189" r="9.3"/><circle cx="2278" cy="298" r="9.3"/><circle cx="1504" cy="175" r="9.3"/><circle cx="1791" cy="210" r="9.3"/><circle cx="1684" cy="162" r="9.3"/><circle cx="1887" cy="211" r="9.3"/><circle cx="1998" cy="172" r="9.3"/><circle cx="1418" cy="176" r="9.3"/><circle cx="1534" cy="184" r="9.3"/><circle cx="1278" cy="204" r="9.3"/><circle cx="2135" cy="182" r="9.3"/><circle cx="1861" cy="179" r="9.3"/><circle cx="1790" cy="176" r="9.3"/><circle cx="2115" cy="155" r="9.3"/><circle cx="1423" cy="170" r="9.3"/><circle cx="1572" cy="168" r="9.3"/><circle cx="1658" cy="171" r="9.3"/><circle cx="1162" cy="173" r="9.3"/><circle cx="1906" cy="190" r="9.3"/><circle cx="2100" cy="177" r="9.3"/><circle cx="1809" cy="197" r="9.3"/><circle cx="1617" cy="205" r="9.3"/><circle cx="1930" cy="161" r="9.3"/><circle cx="1431" cy="161" r="9.3"/><circle cx="1394" cy="210" r="9.3"/><circle cx="1819" cy="165" r="9.3"/><circle cx="2275" cy="214" r="9.3"/><circle cx="1843" cy="204" r="9.3"/><circle cx="1606" cy="199" r="9.3"/><circle cx="1661" cy="163" r="9.3"/><circle cx="2111" cy="178" r="9.3"/><circle cx="1635" cy="170" r="9.3"/><circle cx="1905" cy="182" r="9.3"/><circle cx="1288" cy="161" r="9.3"/><circle cx="1252" cy="158" r="9.3"/><circle cx="1351" cy="177" r="9.3"/><circle cx="1901" cy="180" r="9.3"/><circle cx="1962" cy="165" r="9.3"/><circle cx="1579" cy="159" r="9.3"/><circle cx="2061" cy="207" r="9.3"/><circle cx="1663" cy="168" r="9.3"/><circle cx="1187" cy="181" r="9.3"/><circle cx="1466" cy="189" r="9.3"/><circle cx="1398" cy="166" r="9.3"/><circle cx="1292" cy="169" r="9.3"/><circle cx="1829" cy="180" r="9.3"/><circle cx="1749" cy="175" r="9.3"/><circle cx="2084" cy="158" r="9.3"/><circle cx="1329" cy="165" r="9.3"/><circle cx="2119" cy="160" r="9.3"/><circle cx="1663" cy="196" r="9.3"/><circle cx="1254" cy="161" r="9.3"/><circle cx="657" cy="175" r="9.3"/><circle cx="1978" cy="164" r="9.3"/><circle cx="1629" cy="178" r="9.3"/><circle cx="1549" cy="165" r="9.3"/><circle cx="1956" cy="205" r="9.3"/><circle cx="1890" cy="169" r="9.3"/><circle cx="1641" cy="159" r="9.3"/><circle cx="1273" cy="222" r="9.3"/><circle cx="1851" cy="171" r="9.3"/><circle cx="1916" cy="167" r="9.3"/><circle cx="2108" cy="165" r="9.3"/><circle cx="1437" cy="168" r="9.3"/><circle cx="1510" cy="160" r="9.3"/><circle cx="1590" cy="160" r="9.3"/><circle cx="1297" cy="173" r="9.3"/><circle cx="1145" cy="160" r="9.3"/><circle cx="1181" cy="162" r="9.3"/><circle cx="1769" cy="179" r="9.3"/><circle cx="1801" cy="162" r="9.3"/><circle cx="1225" cy="171" r="9.3"/><circle cx="2162" cy="163" r="9.3"/><circle cx="1819" cy="162" r="9.3"/><circle cx="1192" cy="182" r="9.3"/><circle cx="1430" cy="190" r="9.3"/><circle cx="1878" cy="160" r="9.3"/><circle cx="1767" cy="164" r="9.3"/><circle cx="1709" cy="179" r="9.3"/><circle cx="1367" cy="162" r="9.3"/><circle cx="1376" cy="170" r="9.3"/><circle cx="2340" cy="170" r="9.3"/><circle cx="1334" cy="159" r="9.3"/><circle cx="1662" cy="185" r="9.3"/><circle cx="1881" cy="184" r="9.3"/><circle cx="1266" cy="254" r="9.3"/><circle cx="1781" cy="199" r="9.3"/><circle cx="1793" cy="199" r="9.3"/><circle cx="1886" cy="183" r="9.3"/><circle cx="1188" cy="168" r="9.3"/><circle cx="2041" cy="201" r="9.3"/><circle cx="1898" cy="168" r="9.3"/><circle cx="1325" cy="165" r="9.3"/><circle cx="1468" cy="165" r="9.3"/><circle cx="2062" cy="185" r="9.3"/><circle cx="1446" cy="164" r="9.3"/><circle cx="2088" cy="163" r="9.3"/><circle cx="2216" cy="296" r="9.3"/><circle cx="1914" cy="160" r="9.3"/><circle cx="2243" cy="157" r="9.3"/><circle cx="1905" cy="162" r="9.3"/><circle cx="1512" cy="163" r="9.3"/><circle cx="1913" cy="158" r="9.3"/><circle cx="2198" cy="159" r="9.3"/><circle cx="1557" cy="174" r="9.3"/><circle cx="1551" cy="182" r="9.3"/><circle cx="1673" cy="166" r="9.3"/><circle cx="2007" cy="246" r="9.3"/><circle cx="2123" cy="186" r="9.3"/><circle cx="2032" cy="295" r="9.3"/><circle cx="2189" cy="175" r="9.3"/><circle cx="2212" cy="168" r="9.3"/><circle cx="1856" cy="161" r="9.3"/><circle cx="1414" cy="173" r="9.3"/><circle cx="2094" cy="154" r="9.3"/><circle cx="1340" cy="173" r="9.3"/><circle cx="1881" cy="176" r="9.3"/><circle cx="2109" cy="178" r="9.3"/><circle cx="1718" cy="175" r="9.3"/><circle cx="1550" cy="184" r="9.3"/><circle cx="1650" cy="164" r="9.3"/><circle cx="1863" cy="163" r="9.3"/><circle cx="1830" cy="198" r="9.3"/><circle cx="1317" cy="176" r="9.3"/><circle cx="2011" cy="214" r="9.3"/><circle cx="668" cy="234" r="9.3"/><circle cx="1956" cy="185" r="9.3"/><circle cx="1915" cy="178" r="9.3"/><circle cx="1960" cy="173" r="9.3"/><circle cx="1301" cy="171" r="9.3"/><circle cx="1397" cy="194" r="9.3"/></g>
<g class="sM"><circle cx="3007" cy="194" r="9.3"/><circle cx="3055" cy="194" r="9.3"/></g>
<g class="sG"><circle cx="1535" cy="197" r="9.3"/><circle cx="1058" cy="158" r="9.3"/><circle cx="795" cy="219" r="9.3"/><circle cx="2051" cy="228" r="9.3"/><circle cx="2029" cy="193" r="9.3"/><circle cx="1080" cy="164" r="9.3"/><circle cx="1855" cy="169" r="9.3"/><circle cx="2034" cy="344" r="9.3"/><circle cx="924" cy="165" r="9.3"/><circle cx="1235" cy="233" r="9.3"/><circle cx="2547" cy="201" r="9.3"/><circle cx="2389" cy="162" r="9.3"/><circle cx="647" cy="173" r="9.3"/><circle cx="1343" cy="172" r="9.3"/><circle cx="1028" cy="158" r="9.3"/><circle cx="2493" cy="215" r="9.3"/><circle cx="1233" cy="226" r="9.3"/><circle cx="2207" cy="212" r="9.3"/><circle cx="2277" cy="158" r="9.3"/><circle cx="1624" cy="183" r="9.3"/><circle cx="2062" cy="159" r="9.3"/><circle cx="2227" cy="189" r="9.3"/><circle cx="2042" cy="170" r="9.3"/><circle cx="1230" cy="191" r="9.3"/><circle cx="2400" cy="192" r="9.3"/><circle cx="1048" cy="162" r="9.3"/><circle cx="1960" cy="353" r="9.3"/><circle cx="2125" cy="210" r="9.3"/><circle cx="2127" cy="235" r="9.3"/><circle cx="1243" cy="339" r="9.3"/><circle cx="2175" cy="182" r="9.3"/><circle cx="2188" cy="171" r="9.3"/><circle cx="2199" cy="226" r="9.3"/><circle cx="2007" cy="182" r="9.3"/><circle cx="2371" cy="170" r="9.3"/><circle cx="2254" cy="206" r="9.3"/><circle cx="782" cy="216" r="9.3"/><circle cx="589" cy="154" r="9.3"/><circle cx="2447" cy="331" r="9.3"/><circle cx="2593" cy="306" r="9.3"/><circle cx="2417" cy="179" r="9.3"/><circle cx="1411" cy="210" r="9.3"/><circle cx="1227" cy="161" r="9.3"/><circle cx="1676" cy="221" r="9.3"/><circle cx="1252" cy="164" r="9.3"/><circle cx="2097" cy="154" r="9.3"/><circle cx="1541" cy="160" r="9.3"/><circle cx="1263" cy="218" r="9.3"/><circle cx="2283" cy="213" r="9.3"/><circle cx="2265" cy="259" r="9.3"/><circle cx="2256" cy="199" r="9.3"/><circle cx="2252" cy="174" r="9.3"/><circle cx="2278" cy="167" r="9.3"/><circle cx="1041" cy="154" r="9.3"/><circle cx="2206" cy="167" r="9.3"/><circle cx="2256" cy="309" r="9.3"/><circle cx="2508" cy="164" r="9.3"/><circle cx="2232" cy="218" r="9.3"/><circle cx="614" cy="344" r="9.3"/><circle cx="1335" cy="301" r="9.3"/><circle cx="1195" cy="183" r="9.3"/><circle cx="2338" cy="230" r="9.3"/><circle cx="1334" cy="197" r="9.3"/><circle cx="2382" cy="219" r="9.3"/><circle cx="2444" cy="168" r="9.3"/><circle cx="2211" cy="239" r="9.3"/><circle cx="1923" cy="167" r="9.3"/><circle cx="2365" cy="168" r="9.3"/><circle cx="2011" cy="207" r="9.3"/><circle cx="2198" cy="159" r="9.3"/><circle cx="2228" cy="157" r="9.3"/><circle cx="2480" cy="175" r="9.3"/><circle cx="1319" cy="205" r="9.3"/><circle cx="2340" cy="190" r="9.3"/><circle cx="2361" cy="211" r="9.3"/><circle cx="1940" cy="168" r="9.3"/><circle cx="2147" cy="157" r="9.3"/><circle cx="2335" cy="171" r="9.3"/><circle cx="2357" cy="219" r="9.3"/><circle cx="2185" cy="154" r="9.3"/><circle cx="1354" cy="178" r="9.3"/><circle cx="1150" cy="288" r="9.3"/><circle cx="1828" cy="179" r="9.3"/><circle cx="2199" cy="196" r="9.3"/><circle cx="2059" cy="211" r="9.3"/><circle cx="2282" cy="194" r="9.3"/><circle cx="2055" cy="177" r="9.3"/><circle cx="1137" cy="213" r="9.3"/><circle cx="785" cy="225" r="9.3"/><circle cx="644" cy="183" r="9.3"/><circle cx="1918" cy="383" r="9.3"/><circle cx="2547" cy="186" r="9.3"/><circle cx="1178" cy="211" r="9.3"/><circle cx="2396" cy="287" r="9.3"/><circle cx="2125" cy="183" r="9.3"/><circle cx="2082" cy="217" r="9.3"/><circle cx="1003" cy="191" r="9.3"/><circle cx="2002" cy="181" r="9.3"/><circle cx="2276" cy="192" r="9.3"/><circle cx="2333" cy="211" r="9.3"/><circle cx="1231" cy="186" r="9.3"/><circle cx="2214" cy="249" r="9.3"/><circle cx="2451" cy="205" r="9.3"/><circle cx="2498" cy="252" r="9.3"/><circle cx="2225" cy="181" r="9.3"/><circle cx="2477" cy="207" r="9.3"/><circle cx="730" cy="162" r="9.3"/><circle cx="1975" cy="179" r="9.3"/><circle cx="1236" cy="196" r="9.3"/><circle cx="2488" cy="181" r="9.3"/><circle cx="1194" cy="199" r="9.3"/><circle cx="2230" cy="230" r="9.3"/><circle cx="2433" cy="202" r="9.3"/><circle cx="1305" cy="188" r="9.3"/><circle cx="619" cy="249" r="9.3"/><circle cx="2013" cy="165" r="9.3"/><circle cx="2345" cy="157" r="9.3"/><circle cx="2223" cy="228" r="9.3"/><circle cx="2194" cy="218" r="9.3"/><circle cx="591" cy="285" r="9.3"/><circle cx="1004" cy="183" r="9.3"/><circle cx="915" cy="270" r="9.3"/><circle cx="1220" cy="186" r="9.3"/><circle cx="1795" cy="171" r="9.3"/><circle cx="2215" cy="284" r="9.3"/><circle cx="2373" cy="190" r="9.3"/><circle cx="2393" cy="219" r="9.3"/><circle cx="2226" cy="164" r="9.3"/><circle cx="1137" cy="186" r="9.3"/><circle cx="2123" cy="164" r="9.3"/><circle cx="2402" cy="154" r="9.3"/><circle cx="1286" cy="328" r="9.3"/><circle cx="2205" cy="265" r="9.3"/><circle cx="2195" cy="174" r="9.3"/><circle cx="2039" cy="190" r="9.3"/><circle cx="2360" cy="165" r="9.3"/><circle cx="970" cy="167" r="9.3"/><circle cx="1569" cy="173" r="9.3"/><circle cx="1124" cy="205" r="9.3"/><circle cx="2229" cy="329" r="9.3"/><circle cx="2388" cy="247" r="9.3"/><circle cx="2069" cy="254" r="9.3"/><circle cx="2118" cy="307" r="9.3"/><circle cx="2340" cy="160" r="9.3"/><circle cx="2257" cy="190" r="9.3"/><circle cx="2384" cy="163" r="9.3"/><circle cx="2094" cy="237" r="9.3"/><circle cx="1317" cy="182" r="9.3"/><circle cx="1045" cy="176" r="9.3"/><circle cx="2156" cy="242" r="9.3"/><circle cx="1353" cy="179" r="9.3"/><circle cx="2496" cy="186" r="9.3"/><circle cx="946" cy="197" r="9.3"/><circle cx="2212" cy="189" r="9.3"/><circle cx="2157" cy="372" r="9.3"/><circle cx="2350" cy="211" r="9.3"/><circle cx="2361" cy="185" r="9.3"/><circle cx="1275" cy="218" r="9.3"/><circle cx="580" cy="303" r="9.3"/><circle cx="2245" cy="255" r="9.3"/><circle cx="2327" cy="200" r="9.3"/><circle cx="2250" cy="236" r="9.3"/><circle cx="2295" cy="233" r="9.3"/><circle cx="538" cy="258" r="9.3"/><circle cx="713" cy="193" r="9.3"/><circle cx="2302" cy="219" r="9.3"/><circle cx="2245" cy="227" r="9.3"/><circle cx="2311" cy="208" r="9.3"/><circle cx="2205" cy="204" r="9.3"/><circle cx="2421" cy="203" r="9.3"/><circle cx="2402" cy="330" r="9.3"/><circle cx="2213" cy="217" r="9.3"/><circle cx="2145" cy="199" r="9.3"/><circle cx="2207" cy="203" r="9.3"/><circle cx="2388" cy="254" r="9.3"/><circle cx="1313" cy="161" r="9.3"/><circle cx="2590" cy="207" r="9.3"/><circle cx="2500" cy="218" r="9.3"/><circle cx="2617" cy="201" r="9.3"/><circle cx="1393" cy="187" r="9.3"/><circle cx="2209" cy="200" r="9.3"/><circle cx="2033" cy="182" r="9.3"/><circle cx="1791" cy="193" r="9.3"/><circle cx="2392" cy="221" r="9.3"/><circle cx="2478" cy="263" r="9.3"/><circle cx="2500" cy="207" r="9.3"/><circle cx="2482" cy="161" r="9.3"/><circle cx="2137" cy="206" r="9.3"/><circle cx="2090" cy="270" r="9.3"/><circle cx="1324" cy="171" r="9.3"/></g>
<g class="sC"><circle cx="715" cy="188" r="9.3"/><circle cx="1875" cy="193" r="9.3"/><circle cx="2753" cy="152" r="9.3"/><circle cx="1354" cy="164" r="9.3"/><circle cx="2424" cy="262" r="9.3"/><circle cx="591" cy="319" r="9.3"/></g>
<g class="sP"><circle cx="1982" cy="165" r="9.3"/><circle cx="1178" cy="168" r="9.3"/><circle cx="1545" cy="158" r="9.3"/><circle cx="1180" cy="159" r="9.3"/><circle cx="1686" cy="175" r="9.3"/><circle cx="1394" cy="170" r="9.3"/><circle cx="2335" cy="202" r="9.3"/><circle cx="2259" cy="294" r="9.3"/><circle cx="1852" cy="166" r="9.3"/><circle cx="1617" cy="162" r="9.3"/><circle cx="1466" cy="185" r="9.3"/><circle cx="1941" cy="186" r="9.3"/><circle cx="1979" cy="177" r="9.3"/><circle cx="1671" cy="161" r="9.3"/><circle cx="1753" cy="178" r="9.3"/><circle cx="1887" cy="163" r="9.3"/><circle cx="2153" cy="312" r="9.3"/><circle cx="1946" cy="160" r="9.3"/><circle cx="2156" cy="236" r="9.3"/><circle cx="1522" cy="171" r="9.3"/><circle cx="2283" cy="172" r="9.3"/><circle cx="1681" cy="166" r="9.3"/><circle cx="2098" cy="169" r="9.3"/><circle cx="2474" cy="157" r="9.3"/><circle cx="1616" cy="161" r="9.3"/><circle cx="1268" cy="179" r="9.3"/><circle cx="1863" cy="196" r="9.3"/><circle cx="1632" cy="168" r="9.3"/><circle cx="1540" cy="173" r="9.3"/><circle cx="1491" cy="182" r="9.3"/><circle cx="1740" cy="176" r="9.3"/><circle cx="1637" cy="186" r="9.3"/><circle cx="2228" cy="168" r="9.3"/><circle cx="1691" cy="155" r="9.3"/><circle cx="2134" cy="243" r="9.3"/><circle cx="2255" cy="160" r="9.3"/><circle cx="2506" cy="157" r="9.3"/><circle cx="1543" cy="186" r="9.3"/><circle cx="1682" cy="172" r="9.3"/><circle cx="1172" cy="179" r="9.3"/><circle cx="1825" cy="207" r="9.3"/><circle cx="1577" cy="194" r="9.3"/><circle cx="695" cy="173" r="9.3"/><circle cx="1801" cy="159" r="9.3"/><circle cx="1853" cy="161" r="9.3"/><circle cx="1770" cy="200" r="9.3"/><circle cx="1698" cy="168" r="9.3"/><circle cx="1467" cy="161" r="9.3"/><circle cx="710" cy="222" r="9.3"/><circle cx="1521" cy="171" r="9.3"/><circle cx="1333" cy="175" r="9.3"/><circle cx="1222" cy="164" r="9.3"/><circle cx="1313" cy="167" r="9.3"/><circle cx="1749" cy="170" r="9.3"/><circle cx="1484" cy="176" r="9.3"/><circle cx="1287" cy="186" r="9.3"/><circle cx="2104" cy="172" r="9.3"/><circle cx="1888" cy="210" r="9.3"/><circle cx="1374" cy="179" r="9.3"/><circle cx="2089" cy="243" r="9.3"/><circle cx="1508" cy="168" r="9.3"/><circle cx="2499" cy="228" r="9.3"/><circle cx="2074" cy="175" r="9.3"/><circle cx="2137" cy="161" r="9.3"/><circle cx="1933" cy="161" r="9.3"/><circle cx="1239" cy="159" r="9.3"/><circle cx="2023" cy="214" r="9.3"/><circle cx="1351" cy="202" r="9.3"/><circle cx="1814" cy="164" r="9.3"/><circle cx="734" cy="224" r="9.3"/><circle cx="1307" cy="290" r="9.3"/><circle cx="1358" cy="162" r="9.3"/><circle cx="1267" cy="181" r="9.3"/><circle cx="644" cy="184" r="9.3"/><circle cx="1657" cy="168" r="9.3"/><circle cx="1628" cy="172" r="9.3"/><circle cx="1219" cy="179" r="9.3"/><circle cx="1321" cy="216" r="9.3"/><circle cx="2028" cy="214" r="9.3"/><circle cx="1327" cy="171" r="9.3"/><circle cx="1835" cy="237" r="9.3"/><circle cx="1613" cy="176" r="9.3"/><circle cx="2188" cy="180" r="9.3"/><circle cx="1293" cy="231" r="9.3"/><circle cx="2264" cy="211" r="9.3"/><circle cx="1961" cy="167" r="9.3"/><circle cx="2121" cy="172" r="9.3"/><circle cx="1208" cy="160" r="9.3"/><circle cx="1272" cy="160" r="9.3"/><circle cx="2113" cy="160" r="9.3"/><circle cx="1892" cy="168" r="9.3"/><circle cx="2221" cy="163" r="9.3"/><circle cx="1821" cy="175" r="9.3"/><circle cx="1162" cy="203" r="9.3"/><circle cx="1848" cy="159" r="9.3"/><circle cx="2480" cy="278" r="9.3"/><circle cx="2150" cy="242" r="9.3"/><circle cx="1706" cy="163" r="9.3"/><circle cx="1899" cy="180" r="9.3"/><circle cx="1496" cy="168" r="9.3"/><circle cx="2487" cy="170" r="9.3"/><circle cx="2099" cy="264" r="9.3"/><circle cx="1757" cy="164" r="9.3"/><circle cx="1579" cy="166" r="9.3"/><circle cx="1464" cy="204" r="9.3"/><circle cx="1832" cy="167" r="9.3"/><circle cx="2183" cy="231" r="9.3"/><circle cx="1834" cy="176" r="9.3"/><circle cx="1982" cy="205" r="9.3"/><circle cx="2144" cy="304" r="9.3"/><circle cx="2461" cy="156" r="9.3"/><circle cx="1335" cy="169" r="9.3"/><circle cx="1265" cy="220" r="9.3"/><circle cx="1844" cy="166" r="9.3"/><circle cx="1917" cy="163" r="9.3"/><circle cx="1531" cy="185" r="9.3"/><circle cx="1595" cy="167" r="9.3"/><circle cx="1215" cy="209" r="9.3"/><circle cx="1723" cy="163" r="9.3"/><circle cx="2387" cy="205" r="9.3"/><circle cx="1952" cy="182" r="9.3"/><circle cx="1579" cy="179" r="9.3"/><circle cx="1963" cy="182" r="9.3"/><circle cx="1606" cy="168" r="9.3"/><circle cx="1418" cy="172" r="9.3"/><circle cx="1860" cy="171" r="9.3"/><circle cx="1348" cy="169" r="9.3"/><circle cx="1824" cy="175" r="9.3"/><circle cx="1762" cy="174" r="9.3"/><circle cx="1868" cy="157" r="9.3"/><circle cx="1640" cy="170" r="9.3"/><circle cx="1865" cy="174" r="9.3"/><circle cx="1479" cy="160" r="9.3"/><circle cx="1317" cy="248" r="9.3"/><circle cx="2238" cy="183" r="9.3"/><circle cx="1962" cy="165" r="9.3"/><circle cx="1820" cy="199" r="9.3"/><circle cx="1404" cy="189" r="9.3"/><circle cx="1657" cy="161" r="9.3"/><circle cx="1871" cy="211" r="9.3"/><circle cx="1644" cy="162" r="9.3"/><circle cx="1962" cy="164" r="9.3"/><circle cx="1806" cy="165" r="9.3"/><circle cx="1410" cy="173" r="9.3"/><circle cx="1677" cy="172" r="9.3"/><circle cx="1431" cy="188" r="9.3"/><circle cx="1338" cy="184" r="9.3"/><circle cx="1827" cy="160" r="9.3"/><circle cx="1650" cy="161" r="9.3"/><circle cx="2252" cy="163" r="9.3"/><circle cx="2018" cy="160" r="9.3"/><circle cx="1167" cy="163" r="9.3"/><circle cx="1479" cy="160" r="9.3"/><circle cx="2135" cy="168" r="9.3"/><circle cx="2068" cy="166" r="9.3"/><circle cx="1660" cy="171" r="9.3"/><circle cx="1644" cy="174" r="9.3"/><circle cx="2267" cy="253" r="9.3"/><circle cx="1763" cy="171" r="9.3"/><circle cx="2244" cy="165" r="9.3"/><circle cx="2233" cy="189" r="9.3"/><circle cx="1525" cy="167" r="9.3"/><circle cx="1432" cy="178" r="9.3"/><circle cx="1154" cy="166" r="9.3"/><circle cx="2075" cy="173" r="9.3"/><circle cx="1235" cy="209" r="9.3"/><circle cx="1464" cy="190" r="9.3"/><circle cx="2065" cy="167" r="9.3"/><circle cx="1667" cy="162" r="9.3"/><circle cx="1217" cy="167" r="9.3"/><circle cx="1638" cy="160" r="9.3"/><circle cx="2260" cy="165" r="9.3"/><circle cx="1455" cy="158" r="9.3"/><circle cx="1650" cy="162" r="9.3"/><circle cx="1627" cy="174" r="9.3"/><circle cx="1232" cy="161" r="9.3"/><circle cx="1564" cy="197" r="9.3"/><circle cx="2195" cy="235" r="9.3"/><circle cx="1288" cy="171" r="9.3"/><circle cx="2132" cy="262" r="9.3"/><circle cx="1874" cy="164" r="9.3"/><circle cx="2575" cy="267" r="9.3"/><circle cx="1563" cy="172" r="9.3"/><circle cx="2469" cy="172" r="9.3"/><circle cx="1415" cy="171" r="9.3"/><circle cx="1407" cy="171" r="9.3"/><circle cx="1366" cy="160" r="9.3"/><circle cx="1169" cy="173" r="9.3"/><circle cx="1524" cy="171" r="9.3"/><circle cx="1401" cy="210" r="9.3"/><circle cx="2126" cy="158" r="9.3"/><circle cx="1683" cy="158" r="9.3"/><circle cx="1678" cy="190" r="9.3"/><circle cx="1176" cy="163" r="9.3"/><circle cx="2111" cy="218" r="9.3"/><circle cx="1664" cy="161" r="9.3"/><circle cx="1296" cy="175" r="9.3"/><circle cx="1731" cy="169" r="9.3"/><circle cx="1466" cy="188" r="9.3"/><circle cx="1891" cy="159" r="9.3"/><circle cx="2147" cy="231" r="9.3"/><circle cx="1788" cy="173" r="9.3"/><circle cx="1854" cy="163" r="9.3"/><circle cx="2275" cy="182" r="9.3"/><circle cx="2275" cy="165" r="9.3"/><circle cx="2234" cy="167" r="9.3"/><circle cx="2188" cy="169" r="9.3"/><circle cx="1048" cy="180" r="9.3"/><circle cx="1554" cy="166" r="9.3"/><circle cx="1703" cy="177" r="9.3"/><circle cx="1320" cy="192" r="9.3"/><circle cx="2244" cy="180" r="9.3"/><circle cx="1340" cy="164" r="9.3"/><circle cx="1827" cy="182" r="9.3"/><circle cx="2198" cy="224" r="9.3"/><circle cx="1677" cy="206" r="9.3"/><circle cx="1272" cy="173" r="9.3"/><circle cx="2174" cy="278" r="9.3"/><circle cx="2193" cy="229" r="9.3"/><circle cx="1343" cy="175" r="9.3"/><circle cx="2086" cy="247" r="9.3"/><circle cx="1349" cy="168" r="9.3"/><circle cx="2466" cy="168" r="9.3"/><circle cx="1950" cy="212" r="9.3"/><circle cx="1313" cy="154" r="9.3"/></g>
<g class="sV"><circle cx="2193" cy="220" r="9.3"/><circle cx="957" cy="205" r="9.3"/><circle cx="1259" cy="205" r="9.3"/><circle cx="1924" cy="436" r="9.3"/><circle cx="2044" cy="563" r="9.3"/><circle cx="2673" cy="236" r="9.3"/><circle cx="2305" cy="205" r="9.3"/><circle cx="746" cy="207" r="9.3"/><circle cx="2302" cy="208" r="9.3"/><circle cx="474" cy="190" r="9.3"/><circle cx="548" cy="191" r="9.3"/><circle cx="580" cy="192" r="9.3"/><circle cx="526" cy="153" r="9.3"/><circle cx="932" cy="150" r="9.3"/><circle cx="1968" cy="390" r="9.3"/><circle cx="491" cy="235" r="9.3"/><circle cx="522" cy="167" r="9.3"/><circle cx="2320" cy="206" r="9.3"/><circle cx="2715" cy="301" r="9.3"/><circle cx="2092" cy="247" r="9.3"/><circle cx="519" cy="184" r="9.3"/><circle cx="2269" cy="159" r="9.3"/><circle cx="2272" cy="317" r="9.3"/><circle cx="1310" cy="212" r="9.3"/><circle cx="1387" cy="235" r="9.3"/><circle cx="1290" cy="210" r="9.3"/><circle cx="533" cy="153" r="9.3"/><circle cx="551" cy="153" r="9.3"/><circle cx="551" cy="184" r="9.3"/><circle cx="1834" cy="642" r="9.3"/><circle cx="2309" cy="409" r="9.3"/><circle cx="2623" cy="444" r="9.3"/><circle cx="1299" cy="212" r="9.3"/><circle cx="2113" cy="233" r="9.3"/><circle cx="1023" cy="206" r="9.3"/><circle cx="2107" cy="207" r="9.3"/><circle cx="2134" cy="172" r="9.3"/><circle cx="2262" cy="204" r="9.3"/><circle cx="568" cy="182" r="9.3"/><circle cx="480" cy="178" r="9.3"/><circle cx="2349" cy="284" r="9.3"/><circle cx="1044" cy="238" r="9.3"/><circle cx="481" cy="252" r="9.3"/><circle cx="1374" cy="224" r="9.3"/><circle cx="500" cy="204" r="9.3"/><circle cx="1253" cy="209" r="9.3"/><circle cx="2292" cy="233" r="9.3"/><circle cx="2053" cy="228" r="9.3"/><circle cx="1222" cy="195" r="9.3"/><circle cx="2024" cy="172" r="9.3"/><circle cx="493" cy="173" r="9.3"/><circle cx="2701" cy="153" r="9.3"/><circle cx="514" cy="208" r="9.3"/><circle cx="520" cy="218" r="9.3"/><circle cx="1160" cy="223" r="9.3"/><circle cx="2678" cy="317" r="9.3"/><circle cx="1206" cy="211" r="9.3"/><circle cx="532" cy="154" r="9.3"/><circle cx="2008" cy="167" r="9.3"/><circle cx="574" cy="176" r="9.3"/><circle cx="587" cy="178" r="9.3"/><circle cx="495" cy="205" r="9.3"/><circle cx="2443" cy="156" r="9.3"/><circle cx="818" cy="452" r="9.3"/><circle cx="2095" cy="273" r="9.3"/><circle cx="2113" cy="175" r="9.3"/><circle cx="517" cy="311" r="9.3"/><circle cx="2075" cy="224" r="9.3"/><circle cx="2976" cy="320" r="9.3"/><circle cx="2506" cy="208" r="9.3"/><circle cx="1219" cy="235" r="9.3"/><circle cx="1443" cy="174" r="9.3"/><circle cx="551" cy="174" r="9.3"/><circle cx="1169" cy="217" r="9.3"/><circle cx="2375" cy="210" r="9.3"/><circle cx="2193" cy="238" r="9.3"/></g>
<g class="sM"><circle cx="2984" cy="194" r="9.3"/><circle cx="2913" cy="194" r="9.3"/><circle cx="2359" cy="555" r="9.3"/></g>
<g class="sC"><circle cx="807" cy="289" r="9.3"/><circle cx="1253" cy="381" r="9.3"/><circle cx="500" cy="234" r="9.3"/><circle cx="2380" cy="160" r="9.3"/><circle cx="509" cy="239" r="9.3"/><circle cx="2654" cy="174" r="9.3"/></g>
<g class="sV"><circle cx="574" cy="175" r="9.3"/><circle cx="2407" cy="191" r="9.3"/><circle cx="553" cy="154" r="9.3"/><circle cx="2058" cy="195" r="9.3"/><circle cx="2634" cy="373" r="9.3"/><circle cx="2038" cy="324" r="9.3"/><circle cx="598" cy="335" r="9.3"/><circle cx="2200" cy="174" r="9.3"/><circle cx="2116" cy="172" r="9.3"/><circle cx="2321" cy="178" r="9.3"/><circle cx="2136" cy="217" r="9.3"/><circle cx="2188" cy="299" r="9.3"/><circle cx="1257" cy="232" r="9.3"/><circle cx="1202" cy="212" r="9.3"/><circle cx="538" cy="154" r="9.3"/><circle cx="429" cy="246" r="9.3"/><circle cx="2107" cy="171" r="9.3"/><circle cx="2007" cy="472" r="9.3"/><circle cx="2022" cy="424" r="9.3"/><circle cx="507" cy="191" r="9.3"/><circle cx="557" cy="153" r="9.3"/><circle cx="918" cy="157" r="9.3"/><circle cx="1261" cy="207" r="9.3"/><circle cx="542" cy="155" r="9.3"/><circle cx="489" cy="250" r="9.3"/><circle cx="2011" cy="182" r="9.3"/><circle cx="1778" cy="177" r="9.3"/><circle cx="530" cy="167" r="9.3"/><circle cx="2280" cy="199" r="9.3"/><circle cx="473" cy="263" r="9.3"/><circle cx="587" cy="203" r="9.3"/><circle cx="1932" cy="411" r="9.3"/><circle cx="669" cy="288" r="9.3"/><circle cx="1868" cy="194" r="9.3"/><circle cx="1224" cy="249" r="9.3"/><circle cx="1802" cy="599" r="9.3"/><circle cx="523" cy="221" r="9.3"/><circle cx="2208" cy="189" r="9.3"/><circle cx="481" cy="258" r="9.3"/><circle cx="1296" cy="216" r="9.3"/><circle cx="1904" cy="446" r="9.3"/><circle cx="2409" cy="186" r="9.3"/><circle cx="573" cy="177" r="9.3"/><circle cx="1127" cy="196" r="9.3"/><circle cx="1215" cy="209" r="9.3"/><circle cx="481" cy="199" r="9.3"/><circle cx="1173" cy="201" r="9.3"/><circle cx="2560" cy="162" r="9.3"/><circle cx="1919" cy="228" r="9.3"/><circle cx="886" cy="347" r="9.3"/><circle cx="2632" cy="349" r="9.3"/><circle cx="2408" cy="211" r="9.3"/><circle cx="2764" cy="262" r="9.3"/><circle cx="2320" cy="176" r="9.3"/><circle cx="2015" cy="450" r="9.3"/><circle cx="2183" cy="224" r="9.3"/><circle cx="2169" cy="197" r="9.3"/><circle cx="917" cy="437" r="9.3"/><circle cx="542" cy="154" r="9.3"/><circle cx="2502" cy="207" r="9.3"/><circle cx="2226" cy="466" r="9.3"/><circle cx="1678" cy="247" r="9.3"/><circle cx="1738" cy="217" r="9.3"/><circle cx="540" cy="170" r="9.3"/><circle cx="1934" cy="586" r="9.3"/><circle cx="2103" cy="201" r="9.3"/><circle cx="2213" cy="232" r="9.3"/><circle cx="1802" cy="531" r="9.3"/><circle cx="565" cy="154" r="9.3"/><circle cx="2359" cy="207" r="9.3"/><circle cx="1147" cy="202" r="9.3"/><circle cx="2229" cy="227" r="9.3"/><circle cx="2215" cy="335" r="9.3"/><circle cx="2112" cy="216" r="9.3"/><circle cx="565" cy="175" r="9.3"/></g>
<g class="sG"><circle cx="636" cy="165" r="9.3"/><circle cx="2259" cy="249" r="9.3"/><circle cx="2192" cy="197" r="9.3"/><circle cx="2273" cy="154" r="9.3"/><circle cx="644" cy="265" r="9.3"/><circle cx="2071" cy="237" r="9.3"/><circle cx="1528" cy="188" r="9.3"/><circle cx="1312" cy="204" r="9.3"/><circle cx="2507" cy="210" r="9.3"/><circle cx="2030" cy="340" r="9.3"/><circle cx="2315" cy="212" r="9.3"/><circle cx="2166" cy="190" r="9.3"/><circle cx="2317" cy="299" r="9.3"/><circle cx="1144" cy="229" r="9.3"/><circle cx="2179" cy="174" r="9.3"/><circle cx="2271" cy="172" r="9.3"/><circle cx="2456" cy="196" r="9.3"/><circle cx="1934" cy="176" r="9.3"/><circle cx="2246" cy="168" r="9.3"/><circle cx="2282" cy="214" r="9.3"/><circle cx="1724" cy="170" r="9.3"/><circle cx="2242" cy="189" r="9.3"/><circle cx="2621" cy="223" r="9.3"/><circle cx="1277" cy="202" r="9.3"/><circle cx="1434" cy="180" r="9.3"/><circle cx="1298" cy="352" r="9.3"/><circle cx="2462" cy="330" r="9.3"/><circle cx="2089" cy="190" r="9.3"/><circle cx="1027" cy="163" r="9.3"/><circle cx="946" cy="184" r="9.3"/><circle cx="1566" cy="180" r="9.3"/><circle cx="1042" cy="208" r="9.3"/><circle cx="2494" cy="158" r="9.3"/><circle cx="2625" cy="201" r="9.3"/><circle cx="763" cy="215" r="9.3"/><circle cx="804" cy="190" r="9.3"/><circle cx="965" cy="181" r="9.3"/><circle cx="1966" cy="336" r="9.3"/><circle cx="1573" cy="160" r="9.3"/><circle cx="1874" cy="165" r="9.3"/><circle cx="1510" cy="191" r="9.3"/><circle cx="2112" cy="170" r="9.3"/><circle cx="1193" cy="225" r="9.3"/><circle cx="2377" cy="407" r="9.3"/><circle cx="1999" cy="329" r="9.3"/><circle cx="2387" cy="222" r="9.3"/><circle cx="1762" cy="164" r="9.3"/><circle cx="2178" cy="254" r="9.3"/><circle cx="2549" cy="161" r="9.3"/><circle cx="2228" cy="168" r="9.3"/><circle cx="1140" cy="228" r="9.3"/><circle cx="2328" cy="265" r="9.3"/><circle cx="2120" cy="222" r="9.3"/><circle cx="2264" cy="160" r="9.3"/><circle cx="2333" cy="157" r="9.3"/><circle cx="1848" cy="172" r="9.3"/><circle cx="1314" cy="168" r="9.3"/><circle cx="1817" cy="191" r="9.3"/><circle cx="2230" cy="181" r="9.3"/><circle cx="2312" cy="207" r="9.3"/><circle cx="2160" cy="220" r="9.3"/><circle cx="2210" cy="165" r="9.3"/><circle cx="930" cy="178" r="9.3"/><circle cx="2388" cy="170" r="9.3"/><circle cx="1124" cy="219" r="9.3"/><circle cx="2313" cy="205" r="9.3"/><circle cx="2138" cy="196" r="9.3"/><circle cx="1986" cy="176" r="9.3"/><circle cx="1320" cy="169" r="9.3"/><circle cx="542" cy="206" r="9.3"/><circle cx="2274" cy="161" r="9.3"/><circle cx="2211" cy="185" r="9.3"/><circle cx="1826" cy="191" r="9.3"/><circle cx="529" cy="177" r="9.3"/><circle cx="614" cy="191" r="9.3"/><circle cx="1144" cy="224" r="9.3"/><circle cx="2444" cy="183" r="9.3"/><circle cx="2321" cy="166" r="9.3"/><circle cx="2049" cy="179" r="9.3"/><circle cx="2278" cy="154" r="9.3"/><circle cx="722" cy="152" r="9.3"/><circle cx="1185" cy="188" r="9.3"/><circle cx="2173" cy="196" r="9.3"/><circle cx="2065" cy="335" r="9.3"/><circle cx="918" cy="263" r="9.3"/><circle cx="792" cy="193" r="9.3"/><circle cx="2073" cy="249" r="9.3"/><circle cx="1193" cy="231" r="9.3"/><circle cx="2569" cy="205" r="9.3"/><circle cx="2517" cy="156" r="9.3"/><circle cx="1272" cy="165" r="9.3"/><circle cx="2126" cy="273" r="9.3"/><circle cx="1008" cy="177" r="9.3"/><circle cx="2164" cy="175" r="9.3"/><circle cx="1958" cy="352" r="9.3"/><circle cx="2399" cy="203" r="9.3"/><circle cx="2167" cy="173" r="9.3"/><circle cx="1645" cy="178" r="9.3"/><circle cx="1254" cy="193" r="9.3"/><circle cx="2040" cy="231" r="9.3"/><circle cx="2248" cy="154" r="9.3"/><circle cx="2207" cy="216" r="9.3"/><circle cx="2096" cy="260" r="9.3"/><circle cx="2234" cy="188" r="9.3"/><circle cx="2124" cy="205" r="9.3"/><circle cx="1956" cy="192" r="9.3"/><circle cx="2189" cy="280" r="9.3"/><circle cx="2263" cy="174" r="9.3"/><circle cx="2194" cy="204" r="9.3"/><circle cx="1174" cy="164" r="9.3"/><circle cx="2367" cy="164" r="9.3"/><circle cx="2103" cy="192" r="9.3"/><circle cx="2182" cy="167" r="9.3"/><circle cx="1272" cy="219" r="9.3"/><circle cx="2310" cy="159" r="9.3"/><circle cx="1155" cy="238" r="9.3"/><circle cx="1445" cy="171" r="9.3"/><circle cx="2283" cy="176" r="9.3"/><circle cx="2386" cy="270" r="9.3"/><circle cx="1334" cy="190" r="9.3"/><circle cx="2202" cy="253" r="9.3"/><circle cx="1935" cy="429" r="9.3"/><circle cx="2433" cy="206" r="9.3"/><circle cx="2098" cy="385" r="9.3"/><circle cx="2190" cy="158" r="9.3"/><circle cx="2357" cy="197" r="9.3"/><circle cx="1172" cy="161" r="9.3"/><circle cx="2167" cy="169" r="9.3"/><circle cx="2199" cy="253" r="9.3"/><circle cx="2293" cy="169" r="9.3"/><circle cx="1862" cy="161" r="9.3"/><circle cx="1342" cy="203" r="9.3"/><circle cx="2033" cy="204" r="9.3"/><circle cx="2223" cy="154" r="9.3"/><circle cx="2168" cy="363" r="9.3"/><circle cx="1830" cy="220" r="9.3"/><circle cx="1419" cy="178" r="9.3"/><circle cx="2243" cy="165" r="9.3"/><circle cx="2278" cy="216" r="9.3"/><circle cx="746" cy="170" r="9.3"/><circle cx="2174" cy="283" r="9.3"/><circle cx="1211" cy="213" r="9.3"/><circle cx="2069" cy="273" r="9.3"/><circle cx="532" cy="202" r="9.3"/><circle cx="2220" cy="204" r="9.3"/><circle cx="2345" cy="196" r="9.3"/><circle cx="916" cy="165" r="9.3"/><circle cx="2219" cy="185" r="9.3"/><circle cx="1142" cy="183" r="9.3"/><circle cx="2288" cy="202" r="9.3"/><circle cx="2366" cy="218" r="9.3"/><circle cx="2521" cy="207" r="9.3"/><circle cx="2229" cy="194" r="9.3"/><circle cx="2449" cy="243" r="9.3"/><circle cx="2218" cy="192" r="9.3"/><circle cx="1825" cy="160" r="9.3"/><circle cx="2347" cy="213" r="9.3"/><circle cx="537" cy="202" r="9.3"/><circle cx="2223" cy="157" r="9.3"/><circle cx="1839" cy="186" r="9.3"/><circle cx="2183" cy="155" r="9.3"/><circle cx="2214" cy="220" r="9.3"/><circle cx="2131" cy="192" r="9.3"/><circle cx="1788" cy="203" r="9.3"/><circle cx="2294" cy="197" r="9.3"/><circle cx="2298" cy="254" r="9.3"/><circle cx="2130" cy="216" r="9.3"/><circle cx="1846" cy="200" r="9.3"/><circle cx="1831" cy="181" r="9.3"/><circle cx="2180" cy="225" r="9.3"/><circle cx="2375" cy="167" r="9.3"/><circle cx="799" cy="202" r="9.3"/><circle cx="2204" cy="226" r="9.3"/><circle cx="2514" cy="195" r="9.3"/><circle cx="1374" cy="163" r="9.3"/><circle cx="2206" cy="162" r="9.3"/><circle cx="1264" cy="213" r="9.3"/><circle cx="2510" cy="256" r="9.3"/><circle cx="2457" cy="205" r="9.3"/><circle cx="2031" cy="318" r="9.3"/><circle cx="1824" cy="178" r="9.3"/><circle cx="2018" cy="229" r="9.3"/><circle cx="2050" cy="227" r="9.3"/><circle cx="1963" cy="314" r="9.3"/><circle cx="2079" cy="173" r="9.3"/><circle cx="2474" cy="192" r="9.3"/><circle cx="2318" cy="195" r="9.3"/><circle cx="2119" cy="232" r="9.3"/><circle cx="1352" cy="189" r="9.3"/><circle cx="2204" cy="187" r="9.3"/></g>
<g class="sP"><circle cx="1848" cy="167" r="9.3"/><circle cx="1655" cy="177" r="9.3"/><circle cx="1314" cy="172" r="9.3"/><circle cx="1633" cy="164" r="9.3"/><circle cx="1301" cy="255" r="9.3"/><circle cx="2095" cy="221" r="9.3"/><circle cx="1872" cy="182" r="9.3"/><circle cx="1821" cy="174" r="9.3"/><circle cx="1400" cy="164" r="9.3"/><circle cx="1690" cy="161" r="9.3"/><circle cx="1167" cy="163" r="9.3"/><circle cx="1882" cy="168" r="9.3"/><circle cx="1643" cy="168" r="9.3"/><circle cx="1684" cy="169" r="9.3"/><circle cx="1680" cy="208" r="9.3"/><circle cx="1660" cy="226" r="9.3"/><circle cx="1623" cy="181" r="9.3"/><circle cx="2029" cy="163" r="9.3"/><circle cx="1941" cy="206" r="9.3"/><circle cx="2131" cy="165" r="9.3"/><circle cx="1389" cy="169" r="9.3"/><circle cx="1676" cy="168" r="9.3"/><circle cx="2295" cy="237" r="9.3"/><circle cx="1469" cy="166" r="9.3"/><circle cx="1256" cy="185" r="9.3"/><circle cx="2062" cy="162" r="9.3"/><circle cx="1686" cy="169" r="9.3"/><circle cx="2118" cy="175" r="9.3"/><circle cx="2183" cy="173" r="9.3"/><circle cx="1460" cy="169" r="9.3"/><circle cx="1788" cy="160" r="9.3"/><circle cx="1832" cy="165" r="9.3"/><circle cx="1950" cy="176" r="9.3"/><circle cx="1321" cy="160" r="9.3"/><circle cx="1466" cy="174" r="9.3"/><circle cx="1452" cy="170" r="9.3"/><circle cx="1723" cy="178" r="9.3"/><circle cx="2494" cy="155" r="9.3"/><circle cx="1980" cy="206" r="9.3"/><circle cx="1371" cy="159" r="9.3"/><circle cx="1250" cy="164" r="9.3"/><circle cx="2124" cy="222" r="9.3"/><circle cx="1882" cy="160" r="9.3"/><circle cx="1469" cy="177" r="9.3"/><circle cx="1860" cy="157" r="9.3"/><circle cx="1622" cy="186" r="9.3"/><circle cx="1190" cy="220" r="9.3"/><circle cx="1141" cy="168" r="9.3"/><circle cx="1292" cy="196" r="9.3"/><circle cx="2158" cy="309" r="9.3"/><circle cx="2115" cy="292" r="9.3"/><circle cx="1797" cy="200" r="9.3"/><circle cx="1266" cy="161" r="9.3"/><circle cx="1720" cy="170" r="9.3"/><circle cx="1702" cy="162" r="9.3"/><circle cx="1642" cy="161" r="9.3"/><circle cx="1966" cy="175" r="9.3"/><circle cx="2118" cy="177" r="9.3"/><circle cx="2108" cy="173" r="9.3"/><circle cx="1143" cy="204" r="9.3"/><circle cx="1123" cy="220" r="9.3"/><circle cx="1663" cy="191" r="9.3"/><circle cx="1563" cy="159" r="9.3"/><circle cx="1682" cy="165" r="9.3"/><circle cx="1668" cy="177" r="9.3"/><circle cx="1289" cy="208" r="9.3"/><circle cx="1551" cy="161" r="9.3"/><circle cx="1362" cy="166" r="9.3"/><circle cx="1504" cy="176" r="9.3"/><circle cx="1597" cy="181" r="9.3"/><circle cx="1196" cy="173" r="9.3"/><circle cx="1900" cy="164" r="9.3"/><circle cx="2080" cy="221" r="9.3"/><circle cx="1512" cy="201" r="9.3"/><circle cx="1860" cy="179" r="9.3"/><circle cx="1351" cy="172" r="9.3"/><circle cx="2372" cy="184" r="9.3"/><circle cx="2228" cy="197" r="9.3"/><circle cx="1393" cy="172" r="9.3"/><circle cx="2161" cy="167" r="9.3"/><circle cx="1895" cy="173" r="9.3"/><circle cx="1913" cy="173" r="9.3"/><circle cx="1198" cy="211" r="9.3"/><circle cx="1066" cy="230" r="9.3"/><circle cx="2303" cy="179" r="9.3"/><circle cx="1268" cy="323" r="9.3"/><circle cx="1229" cy="193" r="9.3"/><circle cx="2059" cy="193" r="9.3"/><circle cx="2227" cy="279" r="9.3"/><circle cx="1439" cy="159" r="9.3"/><circle cx="1665" cy="166" r="9.3"/><circle cx="1843" cy="162" r="9.3"/><circle cx="2059" cy="290" r="9.3"/><circle cx="1708" cy="169" r="9.3"/><circle cx="1851" cy="160" r="9.3"/><circle cx="2304" cy="198" r="9.3"/><circle cx="1921" cy="180" r="9.3"/><circle cx="2159" cy="180" r="9.3"/><circle cx="1508" cy="159" r="9.3"/><circle cx="2116" cy="162" r="9.3"/><circle cx="1958" cy="159" r="9.3"/><circle cx="1784" cy="163" r="9.3"/><circle cx="1534" cy="164" r="9.3"/><circle cx="1785" cy="181" r="9.3"/><circle cx="1819" cy="168" r="9.3"/><circle cx="1883" cy="157" r="9.3"/><circle cx="1905" cy="166" r="9.3"/><circle cx="1486" cy="186" r="9.3"/><circle cx="1203" cy="213" r="9.3"/><circle cx="1821" cy="190" r="9.3"/><circle cx="2347" cy="234" r="9.3"/><circle cx="1172" cy="163" r="9.3"/><circle cx="1715" cy="157" r="9.3"/><circle cx="2036" cy="159" r="9.3"/><circle cx="1876" cy="182" r="9.3"/><circle cx="2122" cy="248" r="9.3"/><circle cx="1839" cy="219" r="9.3"/><circle cx="1318" cy="174" r="9.3"/><circle cx="2199" cy="157" r="9.3"/><circle cx="2072" cy="166" r="9.3"/><circle cx="1750" cy="160" r="9.3"/><circle cx="1571" cy="168" r="9.3"/><circle cx="1861" cy="158" r="9.3"/><circle cx="1349" cy="171" r="9.3"/><circle cx="1845" cy="176" r="9.3"/><circle cx="1964" cy="159" r="9.3"/><circle cx="1740" cy="170" r="9.3"/><circle cx="1495" cy="167" r="9.3"/><circle cx="1830" cy="168" r="9.3"/><circle cx="2062" cy="250" r="9.3"/><circle cx="1607" cy="162" r="9.3"/><circle cx="2141" cy="167" r="9.3"/><circle cx="1851" cy="172" r="9.3"/><circle cx="1393" cy="167" r="9.3"/><circle cx="2315" cy="171" r="9.3"/><circle cx="1613" cy="176" r="9.3"/><circle cx="2068" cy="260" r="9.3"/><circle cx="1180" cy="159" r="9.3"/><circle cx="1289" cy="244" r="9.3"/><circle cx="1325" cy="212" r="9.3"/><circle cx="1763" cy="158" r="9.3"/><circle cx="1317" cy="200" r="9.3"/><circle cx="1905" cy="163" r="9.3"/><circle cx="1673" cy="180" r="9.3"/><circle cx="1822" cy="174" r="9.3"/><circle cx="1827" cy="166" r="9.3"/><circle cx="1278" cy="303" r="9.3"/><circle cx="1355" cy="222" r="9.3"/><circle cx="1692" cy="174" r="9.3"/><circle cx="2262" cy="227" r="9.3"/><circle cx="1427" cy="162" r="9.3"/><circle cx="1980" cy="194" r="9.3"/><circle cx="1786" cy="166" r="9.3"/><circle cx="2337" cy="164" r="9.3"/><circle cx="2022" cy="255" r="9.3"/><circle cx="2047" cy="208" r="9.3"/><circle cx="2180" cy="156" r="9.3"/><circle cx="1898" cy="165" r="9.3"/><circle cx="1693" cy="184" r="9.3"/><circle cx="1349" cy="205" r="9.3"/><circle cx="2130" cy="320" r="9.3"/><circle cx="1935" cy="170" r="9.3"/><circle cx="1217" cy="191" r="9.3"/><circle cx="1534" cy="170" r="9.3"/><circle cx="2078" cy="195" r="9.3"/><circle cx="1399" cy="180" r="9.3"/><circle cx="2059" cy="164" r="9.3"/><circle cx="1503" cy="176" r="9.3"/><circle cx="1284" cy="168" r="9.3"/><circle cx="1568" cy="175" r="9.3"/><circle cx="1585" cy="168" r="9.3"/><circle cx="2269" cy="156" r="9.3"/><circle cx="1799" cy="165" r="9.3"/><circle cx="1302" cy="161" r="9.3"/><circle cx="1952" cy="162" r="9.3"/><circle cx="1891" cy="166" r="9.3"/><circle cx="1372" cy="168" r="9.3"/><circle cx="2191" cy="212" r="9.3"/><circle cx="1981" cy="206" r="9.3"/><circle cx="1598" cy="173" r="9.3"/><circle cx="1482" cy="165" r="9.3"/><circle cx="1771" cy="170" r="9.3"/><circle cx="2206" cy="154" r="9.3"/><circle cx="1321" cy="175" r="9.3"/><circle cx="1632" cy="166" r="9.3"/><circle cx="666" cy="179" r="9.3"/><circle cx="1235" cy="193" r="9.3"/><circle cx="2469" cy="180" r="9.3"/><circle cx="700" cy="228" r="9.3"/><circle cx="2092" cy="168" r="9.3"/><circle cx="1640" cy="173" r="9.3"/><circle cx="1926" cy="196" r="9.3"/><circle cx="1141" cy="198" r="9.3"/><circle cx="2158" cy="173" r="9.3"/><circle cx="1520" cy="175" r="9.3"/><circle cx="1287" cy="176" r="9.3"/><circle cx="2031" cy="178" r="9.3"/><circle cx="1269" cy="214" r="9.3"/><circle cx="2120" cy="176" r="9.3"/><circle cx="2010" cy="265" r="9.3"/><circle cx="2052" cy="156" r="9.3"/><circle cx="1976" cy="163" r="9.3"/><circle cx="2024" cy="174" r="9.3"/><circle cx="1776" cy="169" r="9.3"/><circle cx="694" cy="223" r="9.3"/><circle cx="2114" cy="157" r="9.3"/><circle cx="1782" cy="165" r="9.3"/><circle cx="2066" cy="183" r="9.3"/><circle cx="1722" cy="208" r="9.3"/><circle cx="1384" cy="158" r="9.3"/><circle cx="1563" cy="167" r="9.3"/><circle cx="2180" cy="170" r="9.3"/><circle cx="1355" cy="159" r="9.3"/><circle cx="1862" cy="195" r="9.3"/><circle cx="1407" cy="184" r="9.3"/><circle cx="2086" cy="179" r="9.3"/><circle cx="1886" cy="188" r="9.3"/><circle cx="1640" cy="174" r="9.3"/><circle cx="1358" cy="168" r="9.3"/><circle cx="1869" cy="160" r="9.3"/><circle cx="2293" cy="154" r="9.3"/><circle cx="1886" cy="159" r="9.3"/><circle cx="1181" cy="207" r="9.3"/><circle cx="1603" cy="182" r="9.3"/></g>
<g class="sM"><circle cx="2184" cy="215" r="9.3"/><circle cx="2601" cy="284" r="9.3"/><circle cx="458" cy="174" r="9.3"/></g>
<g class="sG"><circle cx="1235" cy="221" r="9.3"/><circle cx="1147" cy="179" r="9.3"/><circle cx="2509" cy="209" r="9.3"/><circle cx="2039" cy="187" r="9.3"/><circle cx="1688" cy="181" r="9.3"/><circle cx="2636" cy="172" r="9.3"/><circle cx="1384" cy="204" r="9.3"/><circle cx="1274" cy="205" r="9.3"/><circle cx="2183" cy="212" r="9.3"/><circle cx="1988" cy="322" r="9.3"/><circle cx="1773" cy="182" r="9.3"/><circle cx="1879" cy="207" r="9.3"/><circle cx="1653" cy="162" r="9.3"/><circle cx="2246" cy="169" r="9.3"/><circle cx="2229" cy="181" r="9.3"/><circle cx="1673" cy="173" r="9.3"/><circle cx="2430" cy="156" r="9.3"/><circle cx="2428" cy="161" r="9.3"/><circle cx="2385" cy="217" r="9.3"/><circle cx="1725" cy="186" r="9.3"/><circle cx="1045" cy="185" r="9.3"/><circle cx="2284" cy="168" r="9.3"/><circle cx="1965" cy="298" r="9.3"/><circle cx="1681" cy="173" r="9.3"/><circle cx="1371" cy="200" r="9.3"/><circle cx="2347" cy="218" r="9.3"/><circle cx="666" cy="151" r="9.3"/><circle cx="2296" cy="220" r="9.3"/><circle cx="2231" cy="221" r="9.3"/><circle cx="2250" cy="203" r="9.3"/><circle cx="1323" cy="215" r="9.3"/><circle cx="2110" cy="284" r="9.3"/><circle cx="1925" cy="170" r="9.3"/><circle cx="1053" cy="224" r="9.3"/><circle cx="953" cy="243" r="9.3"/><circle cx="1986" cy="170" r="9.3"/><circle cx="2258" cy="189" r="9.3"/><circle cx="2121" cy="369" r="9.3"/><circle cx="2271" cy="232" r="9.3"/><circle cx="2235" cy="211" r="9.3"/><circle cx="2367" cy="167" r="9.3"/><circle cx="2334" cy="186" r="9.3"/><circle cx="2029" cy="199" r="9.3"/><circle cx="2524" cy="160" r="9.3"/><circle cx="1710" cy="223" r="9.3"/><circle cx="2160" cy="184" r="9.3"/><circle cx="2037" cy="325" r="9.3"/><circle cx="2119" cy="200" r="9.3"/><circle cx="1229" cy="199" r="9.3"/><circle cx="1304" cy="172" r="9.3"/><circle cx="2386" cy="194" r="9.3"/><circle cx="2370" cy="190" r="9.3"/><circle cx="2438" cy="180" r="9.3"/><circle cx="2060" cy="220" r="9.3"/><circle cx="2373" cy="214" r="9.3"/><circle cx="581" cy="169" r="9.3"/><circle cx="2452" cy="190" r="9.3"/><circle cx="2099" cy="230" r="9.3"/><circle cx="1296" cy="304" r="9.3"/><circle cx="1346" cy="170" r="9.3"/><circle cx="2460" cy="182" r="9.3"/><circle cx="1890" cy="158" r="9.3"/><circle cx="2329" cy="165" r="9.3"/><circle cx="2254" cy="254" r="9.3"/><circle cx="1012" cy="181" r="9.3"/><circle cx="1451" cy="191" r="9.3"/><circle cx="2106" cy="203" r="9.3"/><circle cx="2160" cy="162" r="9.3"/><circle cx="754" cy="183" r="9.3"/><circle cx="1252" cy="184" r="9.3"/><circle cx="1094" cy="154" r="9.3"/><circle cx="1202" cy="165" r="9.3"/><circle cx="2455" cy="198" r="9.3"/><circle cx="992" cy="197" r="9.3"/><circle cx="2073" cy="208" r="9.3"/><circle cx="2452" cy="236" r="9.3"/><circle cx="2366" cy="212" r="9.3"/><circle cx="2424" cy="185" r="9.3"/><circle cx="1286" cy="161" r="9.3"/><circle cx="2410" cy="216" r="9.3"/><circle cx="2276" cy="194" r="9.3"/><circle cx="700" cy="265" r="9.3"/><circle cx="2263" cy="219" r="9.3"/><circle cx="703" cy="157" r="9.3"/><circle cx="2291" cy="159" r="9.3"/><circle cx="797" cy="211" r="9.3"/><circle cx="1180" cy="198" r="9.3"/><circle cx="1074" cy="249" r="9.3"/><circle cx="585" cy="177" r="9.3"/><circle cx="610" cy="310" r="9.3"/><circle cx="2125" cy="237" r="9.3"/><circle cx="2293" cy="320" r="9.3"/><circle cx="2675" cy="197" r="9.3"/><circle cx="622" cy="172" r="9.3"/><circle cx="555" cy="163" r="9.3"/><circle cx="1236" cy="225" r="9.3"/><circle cx="1168" cy="216" r="9.3"/><circle cx="573" cy="168" r="9.3"/><circle cx="2029" cy="319" r="9.3"/><circle cx="2041" cy="196" r="9.3"/><circle cx="630" cy="198" r="9.3"/><circle cx="1777" cy="159" r="9.3"/><circle cx="2228" cy="157" r="9.3"/><circle cx="1970" cy="201" r="9.3"/><circle cx="1713" cy="217" r="9.3"/><circle cx="2504" cy="201" r="9.3"/><circle cx="1501" cy="171" r="9.3"/><circle cx="1869" cy="180" r="9.3"/><circle cx="2012" cy="176" r="9.3"/><circle cx="1366" cy="165" r="9.3"/><circle cx="2477" cy="162" r="9.3"/><circle cx="1689" cy="197" r="9.3"/><circle cx="747" cy="268" r="9.3"/><circle cx="2086" cy="192" r="9.3"/><circle cx="747" cy="262" r="9.3"/><circle cx="2391" cy="173" r="9.3"/><circle cx="1475" cy="186" r="9.3"/><circle cx="2464" cy="169" r="9.3"/><circle cx="993" cy="242" r="9.3"/><circle cx="2193" cy="226" r="9.3"/><circle cx="2230" cy="217" r="9.3"/><circle cx="1936" cy="176" r="9.3"/><circle cx="1020" cy="203" r="9.3"/><circle cx="1502" cy="167" r="9.3"/><circle cx="1489" cy="163" r="9.3"/><circle cx="2320" cy="210" r="9.3"/><circle cx="2311" cy="283" r="9.3"/><circle cx="2240" cy="191" r="9.3"/><circle cx="2146" cy="277" r="9.3"/><circle cx="2146" cy="225" r="9.3"/><circle cx="730" cy="229" r="9.3"/><circle cx="1803" cy="176" r="9.3"/><circle cx="2403" cy="201" r="9.3"/><circle cx="2146" cy="216" r="9.3"/><circle cx="1081" cy="220" r="9.3"/><circle cx="2203" cy="233" r="9.3"/><circle cx="2291" cy="195" r="9.3"/><circle cx="2100" cy="205" r="9.3"/><circle cx="2093" cy="283" r="9.3"/><circle cx="2240" cy="192" r="9.3"/><circle cx="2193" cy="227" r="9.3"/><circle cx="1130" cy="208" r="9.3"/><circle cx="1547" cy="170" r="9.3"/><circle cx="1424" cy="201" r="9.3"/><circle cx="2034" cy="230" r="9.3"/><circle cx="2488" cy="220" r="9.3"/><circle cx="2107" cy="194" r="9.3"/><circle cx="2125" cy="296" r="9.3"/><circle cx="948" cy="173" r="9.3"/><circle cx="2066" cy="202" r="9.3"/><circle cx="1301" cy="185" r="9.3"/><circle cx="2267" cy="164" r="9.3"/><circle cx="2038" cy="320" r="9.3"/><circle cx="1844" cy="207" r="9.3"/><circle cx="1946" cy="180" r="9.3"/><circle cx="1716" cy="161" r="9.3"/><circle cx="2140" cy="268" r="9.3"/><circle cx="2467" cy="211" r="9.3"/><circle cx="1730" cy="177" r="9.3"/><circle cx="2386" cy="182" r="9.3"/><circle cx="2285" cy="192" r="9.3"/><circle cx="1240" cy="345" r="9.3"/><circle cx="2181" cy="179" r="9.3"/><circle cx="2038" cy="250" r="9.3"/><circle cx="2191" cy="177" r="9.3"/><circle cx="1402" cy="202" r="9.3"/><circle cx="1220" cy="235" r="9.3"/><circle cx="2491" cy="247" r="9.3"/><circle cx="2369" cy="203" r="9.3"/><circle cx="2037" cy="193" r="9.3"/><circle cx="1030" cy="184" r="9.3"/><circle cx="2360" cy="250" r="9.3"/><circle cx="1935" cy="390" r="9.3"/><circle cx="2031" cy="302" r="9.3"/><circle cx="1205" cy="182" r="9.3"/><circle cx="2217" cy="186" r="9.3"/><circle cx="2422" cy="197" r="9.3"/><circle cx="2211" cy="161" r="9.3"/><circle cx="2267" cy="381" r="9.3"/><circle cx="2350" cy="198" r="9.3"/><circle cx="2208" cy="258" r="9.3"/><circle cx="2324" cy="256" r="9.3"/><circle cx="2073" cy="242" r="9.3"/><circle cx="1895" cy="191" r="9.3"/><circle cx="2218" cy="207" r="9.3"/><circle cx="2229" cy="289" r="9.3"/><circle cx="2509" cy="216" r="9.3"/><circle cx="2271" cy="192" r="9.3"/><circle cx="2000" cy="185" r="9.3"/><circle cx="2259" cy="210" r="9.3"/><circle cx="2216" cy="156" r="9.3"/></g>
<g class="sC"><circle cx="2407" cy="323" r="9.3"/><circle cx="617" cy="240" r="9.3"/><circle cx="1992" cy="305" r="9.3"/><circle cx="2203" cy="285" r="9.3"/><circle cx="610" cy="359" r="9.3"/><circle cx="1106" cy="217" r="9.3"/></g>
<g class="sP"><circle cx="1826" cy="161" r="9.3"/><circle cx="1852" cy="162" r="9.3"/><circle cx="1875" cy="164" r="9.3"/><circle cx="2167" cy="161" r="9.3"/><circle cx="1178" cy="159" r="9.3"/><circle cx="1904" cy="184" r="9.3"/><circle cx="1628" cy="183" r="9.3"/><circle cx="955" cy="221" r="9.3"/><circle cx="1264" cy="262" r="9.3"/><circle cx="2326" cy="167" r="9.3"/><circle cx="1248" cy="159" r="9.3"/><circle cx="1149" cy="158" r="9.3"/><circle cx="1260" cy="160" r="9.3"/><circle cx="1308" cy="173" r="9.3"/><circle cx="1946" cy="177" r="9.3"/><circle cx="1047" cy="166" r="9.3"/><circle cx="1390" cy="173" r="9.3"/><circle cx="2029" cy="155" r="9.3"/><circle cx="1444" cy="163" r="9.3"/><circle cx="2237" cy="236" r="9.3"/><circle cx="1335" cy="180" r="9.3"/><circle cx="2067" cy="183" r="9.3"/><circle cx="2061" cy="220" r="9.3"/><circle cx="1242" cy="164" r="9.3"/><circle cx="1385" cy="169" r="9.3"/><circle cx="2210" cy="300" r="9.3"/><circle cx="1653" cy="160" r="9.3"/><circle cx="1839" cy="174" r="9.3"/><circle cx="1667" cy="176" r="9.3"/><circle cx="1603" cy="198" r="9.3"/><circle cx="1350" cy="215" r="9.3"/><circle cx="1531" cy="174" r="9.3"/><circle cx="1931" cy="164" r="9.3"/><circle cx="2102" cy="245" r="9.3"/><circle cx="1026" cy="166" r="9.3"/><circle cx="2327" cy="174" r="9.3"/><circle cx="1824" cy="172" r="9.3"/><circle cx="1592" cy="189" r="9.3"/><circle cx="2046" cy="159" r="9.3"/><circle cx="1278" cy="164" r="9.3"/><circle cx="2261" cy="160" r="9.3"/><circle cx="2239" cy="169" r="9.3"/><circle cx="1225" cy="180" r="9.3"/><circle cx="2007" cy="174" r="9.3"/><circle cx="1968" cy="172" r="9.3"/><circle cx="1425" cy="177" r="9.3"/><circle cx="1530" cy="170" r="9.3"/><circle cx="1511" cy="163" r="9.3"/><circle cx="1825" cy="163" r="9.3"/><circle cx="1317" cy="166" r="9.3"/><circle cx="2086" cy="171" r="9.3"/><circle cx="2123" cy="302" r="9.3"/><circle cx="1925" cy="161" r="9.3"/><circle cx="2139" cy="222" r="9.3"/><circle cx="1786" cy="162" r="9.3"/><circle cx="1334" cy="264" r="9.3"/><circle cx="1638" cy="176" r="9.3"/><circle cx="1223" cy="175" r="9.3"/><circle cx="1880" cy="164" r="9.3"/><circle cx="1625" cy="188" r="9.3"/><circle cx="1197" cy="169" r="9.3"/><circle cx="1351" cy="198" r="9.3"/><circle cx="2177" cy="267" r="9.3"/><circle cx="1831" cy="162" r="9.3"/><circle cx="2451" cy="276" r="9.3"/><circle cx="1245" cy="166" r="9.3"/><circle cx="1644" cy="160" r="9.3"/><circle cx="1464" cy="173" r="9.3"/><circle cx="2132" cy="158" r="9.3"/><circle cx="2014" cy="198" r="9.3"/><circle cx="2127" cy="169" r="9.3"/><circle cx="1730" cy="165" r="9.3"/><circle cx="1675" cy="162" r="9.3"/><circle cx="1230" cy="171" r="9.3"/><circle cx="2004" cy="287" r="9.3"/><circle cx="1686" cy="162" r="9.3"/><circle cx="650" cy="185" r="9.3"/><circle cx="1317" cy="163" r="9.3"/><circle cx="1228" cy="160" r="9.3"/><circle cx="1780" cy="177" r="9.3"/><circle cx="1856" cy="180" r="9.3"/><circle cx="1290" cy="173" r="9.3"/><circle cx="1769" cy="160" r="9.3"/><circle cx="1627" cy="168" r="9.3"/><circle cx="1899" cy="185" r="9.3"/><circle cx="1821" cy="159" r="9.3"/><circle cx="2249" cy="277" r="9.3"/><circle cx="2446" cy="254" r="9.3"/><circle cx="1861" cy="232" r="9.3"/><circle cx="1742" cy="167" r="9.3"/><circle cx="1350" cy="189" r="9.3"/><circle cx="1134" cy="178" r="9.3"/><circle cx="1260" cy="154" r="9.3"/><circle cx="1270" cy="171" r="9.3"/><circle cx="1853" cy="181" r="9.3"/><circle cx="1790" cy="197" r="9.3"/><circle cx="1651" cy="177" r="9.3"/><circle cx="1572" cy="171" r="9.3"/><circle cx="1853" cy="163" r="9.3"/><circle cx="1868" cy="171" r="9.3"/><circle cx="1411" cy="169" r="9.3"/><circle cx="1661" cy="204" r="9.3"/><circle cx="1215" cy="169" r="9.3"/><circle cx="1505" cy="159" r="9.3"/><circle cx="1346" cy="211" r="9.3"/><circle cx="2235" cy="191" r="9.3"/><circle cx="1482" cy="189" r="9.3"/><circle cx="1504" cy="201" r="9.3"/><circle cx="1564" cy="160" r="9.3"/><circle cx="1418" cy="165" r="9.3"/><circle cx="1613" cy="180" r="9.3"/><circle cx="1364" cy="172" r="9.3"/><circle cx="1786" cy="173" r="9.3"/><circle cx="1926" cy="174" r="9.3"/><circle cx="1862" cy="180" r="9.3"/><circle cx="1225" cy="163" r="9.3"/><circle cx="1296" cy="186" r="9.3"/><circle cx="1180" cy="192" r="9.3"/><circle cx="2268" cy="165" r="9.3"/><circle cx="1518" cy="167" r="9.3"/><circle cx="2208" cy="209" r="9.3"/><circle cx="2014" cy="216" r="9.3"/><circle cx="1136" cy="177" r="9.3"/><circle cx="1634" cy="177" r="9.3"/><circle cx="1629" cy="178" r="9.3"/><circle cx="2315" cy="178" r="9.3"/><circle cx="1892" cy="166" r="9.3"/><circle cx="1760" cy="173" r="9.3"/><circle cx="2383" cy="179" r="9.3"/><circle cx="2234" cy="158" r="9.3"/><circle cx="1888" cy="170" r="9.3"/><circle cx="1844" cy="158" r="9.3"/><circle cx="2379" cy="250" r="9.3"/><circle cx="1376" cy="179" r="9.3"/><circle cx="1642" cy="173" r="9.3"/><circle cx="1270" cy="222" r="9.3"/><circle cx="1288" cy="238" r="9.3"/><circle cx="1897" cy="173" r="9.3"/><circle cx="2235" cy="174" r="9.3"/><circle cx="2034" cy="165" r="9.3"/><circle cx="1273" cy="163" r="9.3"/><circle cx="2227" cy="157" r="9.3"/><circle cx="2092" cy="164" r="9.3"/><circle cx="1876" cy="178" r="9.3"/><circle cx="1823" cy="160" r="9.3"/><circle cx="1213" cy="171" r="9.3"/><circle cx="1851" cy="165" r="9.3"/><circle cx="2265" cy="283" r="9.3"/><circle cx="1316" cy="230" r="9.3"/><circle cx="2024" cy="156" r="9.3"/><circle cx="1402" cy="187" r="9.3"/><circle cx="1752" cy="163" r="9.3"/><circle cx="1392" cy="159" r="9.3"/><circle cx="1157" cy="163" r="9.3"/><circle cx="1294" cy="319" r="9.3"/><circle cx="1379" cy="161" r="9.3"/><circle cx="1305" cy="162" r="9.3"/><circle cx="2106" cy="229" r="9.3"/><circle cx="1695" cy="181" r="9.3"/><circle cx="1665" cy="169" r="9.3"/><circle cx="1604" cy="154" r="9.3"/><circle cx="1549" cy="160" r="9.3"/><circle cx="1230" cy="173" r="9.3"/><circle cx="2204" cy="253" r="9.3"/><circle cx="2041" cy="161" r="9.3"/><circle cx="2034" cy="168" r="9.3"/><circle cx="1700" cy="202" r="9.3"/><circle cx="1388" cy="162" r="9.3"/><circle cx="1867" cy="170" r="9.3"/><circle cx="1796" cy="178" r="9.3"/><circle cx="1204" cy="160" r="9.3"/><circle cx="1526" cy="184" r="9.3"/><circle cx="2210" cy="204" r="9.3"/><circle cx="1688" cy="211" r="9.3"/><circle cx="1718" cy="166" r="9.3"/><circle cx="1857" cy="160" r="9.3"/><circle cx="1546" cy="194" r="9.3"/><circle cx="1806" cy="167" r="9.3"/><circle cx="1912" cy="160" r="9.3"/><circle cx="1861" cy="160" r="9.3"/><circle cx="1816" cy="172" r="9.3"/><circle cx="1926" cy="183" r="9.3"/><circle cx="2088" cy="188" r="9.3"/><circle cx="1290" cy="160" r="9.3"/><circle cx="1565" cy="158" r="9.3"/><circle cx="1567" cy="185" r="9.3"/><circle cx="1828" cy="161" r="9.3"/><circle cx="1158" cy="179" r="9.3"/><circle cx="1249" cy="176" r="9.3"/><circle cx="2078" cy="211" r="9.3"/><circle cx="2278" cy="164" r="9.3"/><circle cx="1956" cy="158" r="9.3"/><circle cx="2270" cy="178" r="9.3"/><circle cx="2138" cy="182" r="9.3"/><circle cx="2121" cy="170" r="9.3"/><circle cx="2254" cy="178" r="9.3"/><circle cx="1853" cy="164" r="9.3"/><circle cx="1763" cy="166" r="9.3"/><circle cx="1965" cy="158" r="9.3"/><circle cx="1652" cy="175" r="9.3"/><circle cx="1750" cy="167" r="9.3"/><circle cx="2204" cy="169" r="9.3"/><circle cx="1093" cy="195" r="9.3"/><circle cx="1884" cy="178" r="9.3"/><circle cx="1746" cy="205" r="9.3"/><circle cx="1420" cy="170" r="9.3"/><circle cx="2089" cy="212" r="9.3"/><circle cx="2183" cy="208" r="9.3"/><circle cx="1385" cy="203" r="9.3"/><circle cx="2065" cy="176" r="9.3"/><circle cx="1339" cy="215" r="9.3"/><circle cx="2054" cy="184" r="9.3"/><circle cx="1934" cy="209" r="9.3"/><circle cx="1327" cy="179" r="9.3"/><circle cx="1699" cy="204" r="9.3"/><circle cx="1982" cy="182" r="9.3"/><circle cx="1142" cy="164" r="9.3"/><circle cx="1426" cy="179" r="9.3"/><circle cx="1777" cy="163" r="9.3"/><circle cx="2231" cy="158" r="9.3"/><circle cx="1620" cy="181" r="9.3"/><circle cx="2315" cy="156" r="9.3"/><circle cx="1291" cy="236" r="9.3"/><circle cx="1695" cy="192" r="9.3"/><circle cx="1682" cy="154" r="9.3"/></g>
<g class="sV"><circle cx="2217" cy="192" r="9.3"/><circle cx="1050" cy="170" r="9.3"/><circle cx="1942" cy="670" r="9.3"/><circle cx="2434" cy="217" r="9.3"/><circle cx="720" cy="260" r="9.3"/><circle cx="2620" cy="358" r="9.3"/><circle cx="2376" cy="653" r="9.3"/><circle cx="2721" cy="223" r="9.3"/><circle cx="2506" cy="187" r="9.3"/><circle cx="631" cy="193" r="9.3"/><circle cx="1080" cy="240" r="9.3"/><circle cx="2821" cy="194" r="9.3"/><circle cx="519" cy="169" r="9.3"/><circle cx="559" cy="197" r="9.3"/><circle cx="1683" cy="633" r="9.3"/><circle cx="2182" cy="301" r="9.3"/><circle cx="1289" cy="362" r="9.3"/><circle cx="485" cy="178" r="9.3"/><circle cx="1029" cy="203" r="9.3"/><circle cx="2094" cy="210" r="9.3"/><circle cx="480" cy="199" r="9.3"/><circle cx="2116" cy="246" r="9.3"/><circle cx="2522" cy="154" r="9.3"/><circle cx="562" cy="154" r="9.3"/><circle cx="1281" cy="258" r="9.3"/><circle cx="489" cy="188" r="9.3"/><circle cx="494" cy="237" r="9.3"/><circle cx="1932" cy="517" r="9.3"/><circle cx="1275" cy="215" r="9.3"/><circle cx="454" cy="163" r="9.3"/><circle cx="542" cy="181" r="9.3"/><circle cx="489" cy="183" r="9.3"/><circle cx="1307" cy="199" r="9.3"/><circle cx="2057" cy="170" r="9.3"/><circle cx="1206" cy="156" r="9.3"/><circle cx="2207" cy="187" r="9.3"/><circle cx="2254" cy="213" r="9.3"/><circle cx="2052" cy="197" r="9.3"/><circle cx="2737" cy="154" r="9.3"/><circle cx="2037" cy="220" r="9.3"/><circle cx="2029" cy="311" r="9.3"/><circle cx="2117" cy="224" r="9.3"/><circle cx="2256" cy="173" r="9.3"/><circle cx="1141" cy="225" r="9.3"/><circle cx="620" cy="374" r="9.3"/><circle cx="2235" cy="265" r="9.3"/><circle cx="569" cy="153" r="9.3"/><circle cx="1013" cy="368" r="9.3"/><circle cx="882" cy="164" r="9.3"/><circle cx="2195" cy="184" r="9.3"/><circle cx="498" cy="302" r="9.3"/><circle cx="2172" cy="224" r="9.3"/><circle cx="2241" cy="237" r="9.3"/><circle cx="1855" cy="469" r="9.3"/><circle cx="1246" cy="287" r="9.3"/><circle cx="562" cy="172" r="9.3"/><circle cx="1497" cy="182" r="9.3"/><circle cx="2023" cy="306" r="9.3"/><circle cx="782" cy="152" r="9.3"/><circle cx="2354" cy="182" r="9.3"/><circle cx="2284" cy="310" r="9.3"/><circle cx="2448" cy="179" r="9.3"/><circle cx="1966" cy="375" r="9.3"/><circle cx="2486" cy="164" r="9.3"/><circle cx="2650" cy="323" r="9.3"/><circle cx="543" cy="163" r="9.3"/><circle cx="1821" cy="211" r="9.3"/><circle cx="2758" cy="158" r="9.3"/><circle cx="523" cy="170" r="9.3"/><circle cx="1170" cy="193" r="9.3"/><circle cx="2041" cy="197" r="9.3"/><circle cx="2140" cy="199" r="9.3"/><circle cx="1997" cy="223" r="9.3"/><circle cx="2167" cy="165" r="9.3"/><circle cx="497" cy="190" r="9.3"/><circle cx="2309" cy="215" r="9.3"/></g>
<g class="sM"><circle cx="553" cy="180" r="9.3"/><circle cx="2891" cy="194" r="9.3"/></g>
<g class="sC"><circle cx="2243" cy="268" r="9.3"/><circle cx="2217" cy="239" r="9.3"/><circle cx="1244" cy="206" r="9.3"/><circle cx="1254" cy="226" r="9.3"/><circle cx="2083" cy="336" r="9.3"/><circle cx="3404" cy="420" r="9.3"/></g>
<g class="sV"><circle cx="2001" cy="325" r="9.3"/><circle cx="568" cy="160" r="9.3"/><circle cx="1153" cy="204" r="9.3"/><circle cx="2008" cy="324" r="9.3"/><circle cx="2642" cy="228" r="9.3"/><circle cx="1384" cy="227" r="9.3"/><circle cx="2579" cy="271" r="9.3"/><circle cx="2173" cy="215" r="9.3"/><circle cx="1132" cy="201" r="9.3"/><circle cx="554" cy="275" r="9.3"/><circle cx="1859" cy="495" r="9.3"/><circle cx="3076" cy="194" r="9.3"/><circle cx="2677" cy="331" r="9.3"/><circle cx="774" cy="154" r="9.3"/><circle cx="1191" cy="260" r="9.3"/><circle cx="2404" cy="224" r="9.3"/><circle cx="2314" cy="285" r="9.3"/><circle cx="1348" cy="228" r="9.3"/><circle cx="590" cy="352" r="9.3"/><circle cx="526" cy="155" r="9.3"/><circle cx="1276" cy="172" r="9.3"/><circle cx="1643" cy="228" r="9.3"/><circle cx="2150" cy="222" r="9.3"/><circle cx="1182" cy="320" r="9.3"/><circle cx="454" cy="189" r="9.3"/><circle cx="1256" cy="193" r="9.3"/><circle cx="2060" cy="362" r="9.3"/><circle cx="1058" cy="233" r="9.3"/><circle cx="2131" cy="218" r="9.3"/><circle cx="2035" cy="193" r="9.3"/><circle cx="1798" cy="664" r="9.3"/><circle cx="2122" cy="426" r="9.3"/><circle cx="1837" cy="666" r="9.3"/><circle cx="553" cy="154" r="9.3"/><circle cx="1126" cy="217" r="9.3"/><circle cx="1889" cy="624" r="9.3"/><circle cx="2124" cy="203" r="9.3"/><circle cx="2439" cy="614" r="9.3"/><circle cx="2572" cy="301" r="9.3"/><circle cx="1783" cy="749" r="9.3"/><circle cx="510" cy="171" r="9.3"/><circle cx="2192" cy="188" r="9.3"/><circle cx="524" cy="161" r="9.3"/><circle cx="2289" cy="183" r="9.3"/><circle cx="1202" cy="230" r="9.3"/><circle cx="563" cy="193" r="9.3"/><circle cx="1369" cy="233" r="9.3"/><circle cx="2597" cy="221" r="9.3"/><circle cx="2021" cy="236" r="9.3"/><circle cx="1202" cy="237" r="9.3"/><circle cx="2341" cy="192" r="9.3"/><circle cx="1661" cy="660" r="9.3"/><circle cx="575" cy="288" r="9.3"/><circle cx="1937" cy="510" r="9.3"/><circle cx="2519" cy="178" r="9.3"/><circle cx="934" cy="282" r="9.3"/><circle cx="1106" cy="150" r="9.3"/><circle cx="1989" cy="714" r="9.3"/><circle cx="988" cy="360" r="9.3"/><circle cx="2746" cy="316" r="9.3"/><circle cx="2042" cy="315" r="9.3"/><circle cx="1295" cy="260" r="9.3"/><circle cx="2106" cy="182" r="9.3"/><circle cx="499" cy="183" r="9.3"/><circle cx="713" cy="196" r="9.3"/><circle cx="2680" cy="294" r="9.3"/><circle cx="1792" cy="673" r="9.3"/><circle cx="2613" cy="172" r="9.3"/><circle cx="1289" cy="187" r="9.3"/><circle cx="572" cy="183" r="9.3"/><circle cx="1216" cy="215" r="9.3"/><circle cx="567" cy="166" r="9.3"/><circle cx="2285" cy="227" r="9.3"/><circle cx="2708" cy="252" r="9.3"/><circle cx="507" cy="221" r="9.3"/></g>
<g class="sG"><circle cx="2174" cy="276" r="9.3"/><circle cx="2356" cy="201" r="9.3"/><circle cx="2425" cy="183" r="9.3"/><circle cx="1999" cy="232" r="9.3"/><circle cx="2405" cy="226" r="9.3"/><circle cx="2118" cy="165" r="9.3"/><circle cx="1859" cy="214" r="9.3"/><circle cx="637" cy="197" r="9.3"/><circle cx="2198" cy="292" r="9.3"/><circle cx="2500" cy="215" r="9.3"/><circle cx="2328" cy="194" r="9.3"/><circle cx="1019" cy="196" r="9.3"/><circle cx="1149" cy="213" r="9.3"/><circle cx="1605" cy="173" r="9.3"/><circle cx="2224" cy="221" r="9.3"/><circle cx="2255" cy="159" r="9.3"/><circle cx="2573" cy="208" r="9.3"/><circle cx="2112" cy="206" r="9.3"/><circle cx="2455" cy="202" r="9.3"/><circle cx="2480" cy="212" r="9.3"/><circle cx="2217" cy="175" r="9.3"/><circle cx="2380" cy="258" r="9.3"/><circle cx="2124" cy="181" r="9.3"/><circle cx="1515" cy="178" r="9.3"/><circle cx="2594" cy="183" r="9.3"/><circle cx="2186" cy="188" r="9.3"/><circle cx="2402" cy="171" r="9.3"/><circle cx="2071" cy="184" r="9.3"/><circle cx="1026" cy="245" r="9.3"/><circle cx="1232" cy="177" r="9.3"/><circle cx="2302" cy="229" r="9.3"/><circle cx="2093" cy="203" r="9.3"/><circle cx="1089" cy="205" r="9.3"/><circle cx="1837" cy="203" r="9.3"/><circle cx="1655" cy="200" r="9.3"/><circle cx="2219" cy="286" r="9.3"/><circle cx="2078" cy="250" r="9.3"/><circle cx="2433" cy="221" r="9.3"/><circle cx="1274" cy="174" r="9.3"/><circle cx="1784" cy="186" r="9.3"/><circle cx="643" cy="331" r="9.3"/><circle cx="2450" cy="181" r="9.3"/><circle cx="2107" cy="316" r="9.3"/><circle cx="1733" cy="180" r="9.3"/><circle cx="2335" cy="162" r="9.3"/><circle cx="1515" cy="181" r="9.3"/><circle cx="1474" cy="166" r="9.3"/><circle cx="961" cy="234" r="9.3"/><circle cx="2332" cy="202" r="9.3"/><circle cx="2271" cy="220" r="9.3"/><circle cx="548" cy="221" r="9.3"/><circle cx="2514" cy="173" r="9.3"/><circle cx="2461" cy="173" r="9.3"/><circle cx="1879" cy="168" r="9.3"/><circle cx="2294" cy="260" r="9.3"/><circle cx="1743" cy="212" r="9.3"/><circle cx="2211" cy="219" r="9.3"/><circle cx="2220" cy="215" r="9.3"/><circle cx="2452" cy="182" r="9.3"/><circle cx="2252" cy="191" r="9.3"/><circle cx="2503" cy="220" r="9.3"/><circle cx="1219" cy="161" r="9.3"/><circle cx="2516" cy="325" r="9.3"/><circle cx="1206" cy="237" r="9.3"/><circle cx="2435" cy="193" r="9.3"/><circle cx="1257" cy="160" r="9.3"/><circle cx="1687" cy="228" r="9.3"/><circle cx="2585" cy="200" r="9.3"/><circle cx="2035" cy="297" r="9.3"/><circle cx="1022" cy="202" r="9.3"/><circle cx="1184" cy="182" r="9.3"/><circle cx="2288" cy="163" r="9.3"/><circle cx="2282" cy="156" r="9.3"/><circle cx="2484" cy="181" r="9.3"/><circle cx="2148" cy="217" r="9.3"/><circle cx="1185" cy="180" r="9.3"/><circle cx="1280" cy="184" r="9.3"/><circle cx="2216" cy="221" r="9.3"/><circle cx="1028" cy="197" r="9.3"/><circle cx="614" cy="256" r="9.3"/><circle cx="1627" cy="163" r="9.3"/><circle cx="1836" cy="181" r="9.3"/><circle cx="2079" cy="313" r="9.3"/><circle cx="1317" cy="212" r="9.3"/><circle cx="2349" cy="225" r="9.3"/><circle cx="2228" cy="184" r="9.3"/><circle cx="2276" cy="272" r="9.3"/><circle cx="1423" cy="187" r="9.3"/><circle cx="1683" cy="197" r="9.3"/><circle cx="2504" cy="357" r="9.3"/><circle cx="638" cy="182" r="9.3"/><circle cx="1304" cy="337" r="9.3"/><circle cx="1073" cy="192" r="9.3"/><circle cx="2551" cy="215" r="9.3"/><circle cx="1367" cy="210" r="9.3"/><circle cx="741" cy="164" r="9.3"/><circle cx="2173" cy="281" r="9.3"/><circle cx="2398" cy="194" r="9.3"/><circle cx="1159" cy="254" r="9.3"/><circle cx="2458" cy="190" r="9.3"/><circle cx="1060" cy="250" r="9.3"/><circle cx="1753" cy="179" r="9.3"/><circle cx="1228" cy="217" r="9.3"/><circle cx="1980" cy="300" r="9.3"/><circle cx="2471" cy="256" r="9.3"/><circle cx="1058" cy="158" r="9.3"/><circle cx="2050" cy="320" r="9.3"/><circle cx="1144" cy="208" r="9.3"/><circle cx="1869" cy="204" r="9.3"/><circle cx="777" cy="211" r="9.3"/><circle cx="759" cy="200" r="9.3"/><circle cx="981" cy="175" r="9.3"/><circle cx="2417" cy="221" r="9.3"/><circle cx="2366" cy="185" r="9.3"/><circle cx="1169" cy="241" r="9.3"/><circle cx="2458" cy="213" r="9.3"/><circle cx="1447" cy="190" r="9.3"/><circle cx="1685" cy="192" r="9.3"/><circle cx="2018" cy="349" r="9.3"/><circle cx="2346" cy="194" r="9.3"/><circle cx="2005" cy="166" r="9.3"/><circle cx="2174" cy="161" r="9.3"/><circle cx="1362" cy="195" r="9.3"/><circle cx="1158" cy="286" r="9.3"/><circle cx="1870" cy="194" r="9.3"/><circle cx="1400" cy="199" r="9.3"/><circle cx="1860" cy="168" r="9.3"/><circle cx="851" cy="306" r="9.3"/><circle cx="2163" cy="233" r="9.3"/><circle cx="2414" cy="155" r="9.3"/><circle cx="1855" cy="230" r="9.3"/><circle cx="555" cy="242" r="9.3"/><circle cx="1367" cy="170" r="9.3"/><circle cx="1378" cy="198" r="9.3"/><circle cx="2610" cy="166" r="9.3"/><circle cx="2124" cy="178" r="9.3"/><circle cx="2102" cy="464" r="9.3"/><circle cx="2272" cy="221" r="9.3"/><circle cx="1982" cy="430" r="9.3"/><circle cx="1873" cy="197" r="9.3"/><circle cx="2231" cy="191" r="9.3"/><circle cx="2421" cy="197" r="9.3"/><circle cx="2203" cy="177" r="9.3"/><circle cx="2270" cy="222" r="9.3"/><circle cx="1198" cy="235" r="9.3"/><circle cx="1660" cy="173" r="9.3"/><circle cx="2239" cy="213" r="9.3"/><circle cx="1317" cy="178" r="9.3"/><circle cx="1294" cy="200" r="9.3"/><circle cx="1831" cy="224" r="9.3"/><circle cx="2482" cy="192" r="9.3"/><circle cx="2238" cy="172" r="9.3"/><circle cx="2149" cy="296" r="9.3"/><circle cx="2329" cy="211" r="9.3"/><circle cx="1840" cy="213" r="9.3"/><circle cx="2118" cy="199" r="9.3"/><circle cx="2216" cy="178" r="9.3"/><circle cx="2171" cy="291" r="9.3"/><circle cx="1826" cy="210" r="9.3"/><circle cx="2301" cy="231" r="9.3"/><circle cx="2482" cy="212" r="9.3"/><circle cx="2379" cy="220" r="9.3"/><circle cx="1215" cy="219" r="9.3"/><circle cx="1302" cy="196" r="9.3"/><circle cx="967" cy="173" r="9.3"/><circle cx="2617" cy="173" r="9.3"/><circle cx="1580" cy="200" r="9.3"/><circle cx="2182" cy="171" r="9.3"/><circle cx="2136" cy="289" r="9.3"/><circle cx="2109" cy="178" r="9.3"/><circle cx="1824" cy="194" r="9.3"/><circle cx="1834" cy="166" r="9.3"/><circle cx="2076" cy="185" r="9.3"/><circle cx="1816" cy="176" r="9.3"/><circle cx="1992" cy="165" r="9.3"/><circle cx="614" cy="352" r="9.3"/><circle cx="2171" cy="171" r="9.3"/><circle cx="1879" cy="173" r="9.3"/><circle cx="2428" cy="157" r="9.3"/><circle cx="638" cy="168" r="9.3"/><circle cx="1443" cy="175" r="9.3"/><circle cx="1331" cy="175" r="9.3"/><circle cx="1709" cy="161" r="9.3"/><circle cx="2268" cy="180" r="9.3"/><circle cx="1237" cy="332" r="9.3"/><circle cx="1760" cy="196" r="9.3"/><circle cx="2550" cy="213" r="9.3"/><circle cx="2211" cy="187" r="9.3"/><circle cx="2459" cy="175" r="9.3"/><circle cx="1390" cy="178" r="9.3"/></g>
<g class="sP"><circle cx="2127" cy="187" r="9.3"/><circle cx="1979" cy="180" r="9.3"/><circle cx="1393" cy="160" r="9.3"/><circle cx="1416" cy="171" r="9.3"/><circle cx="1822" cy="162" r="9.3"/><circle cx="1646" cy="173" r="9.3"/><circle cx="1918" cy="155" r="9.3"/><circle cx="1310" cy="197" r="9.3"/><circle cx="1985" cy="179" r="9.3"/><circle cx="1680" cy="198" r="9.3"/><circle cx="2021" cy="182" r="9.3"/><circle cx="2087" cy="281" r="9.3"/><circle cx="1162" cy="178" r="9.3"/><circle cx="1703" cy="163" r="9.3"/><circle cx="1834" cy="163" r="9.3"/><circle cx="1508" cy="159" r="9.3"/><circle cx="1839" cy="169" r="9.3"/><circle cx="1731" cy="176" r="9.3"/><circle cx="1935" cy="178" r="9.3"/><circle cx="1442" cy="185" r="9.3"/><circle cx="1984" cy="195" r="9.3"/><circle cx="2162" cy="245" r="9.3"/><circle cx="2173" cy="302" r="9.3"/><circle cx="1281" cy="190" r="9.3"/><circle cx="2264" cy="208" r="9.3"/><circle cx="1217" cy="166" r="9.3"/><circle cx="1070" cy="162" r="9.3"/><circle cx="1772" cy="175" r="9.3"/><circle cx="1930" cy="170" r="9.3"/><circle cx="1367" cy="171" r="9.3"/><circle cx="1718" cy="159" r="9.3"/><circle cx="1831" cy="160" r="9.3"/><circle cx="2186" cy="232" r="9.3"/><circle cx="1917" cy="179" r="9.3"/><circle cx="1275" cy="213" r="9.3"/><circle cx="1701" cy="180" r="9.3"/><circle cx="1913" cy="168" r="9.3"/><circle cx="1980" cy="201" r="9.3"/><circle cx="2087" cy="156" r="9.3"/><circle cx="1347" cy="172" r="9.3"/><circle cx="1279" cy="167" r="9.3"/><circle cx="1623" cy="167" r="9.3"/><circle cx="2134" cy="213" r="9.3"/><circle cx="1270" cy="334" r="9.3"/><circle cx="1267" cy="261" r="9.3"/><circle cx="1989" cy="339" r="9.3"/><circle cx="1647" cy="185" r="9.3"/><circle cx="1401" cy="169" r="9.3"/><circle cx="2286" cy="221" r="9.3"/><circle cx="1862" cy="169" r="9.3"/><circle cx="1369" cy="177" r="9.3"/><circle cx="1763" cy="163" r="9.3"/><circle cx="1686" cy="154" r="9.3"/><circle cx="2145" cy="202" r="9.3"/><circle cx="1275" cy="225" r="9.3"/><circle cx="1955" cy="161" r="9.3"/><circle cx="1344" cy="162" r="9.3"/><circle cx="1574" cy="189" r="9.3"/><circle cx="1238" cy="182" r="9.3"/><circle cx="1892" cy="170" r="9.3"/><circle cx="1343" cy="160" r="9.3"/><circle cx="1379" cy="181" r="9.3"/><circle cx="1981" cy="196" r="9.3"/><circle cx="648" cy="171" r="9.3"/><circle cx="1451" cy="165" r="9.3"/><circle cx="2093" cy="173" r="9.3"/><circle cx="1862" cy="158" r="9.3"/><circle cx="2022" cy="173" r="9.3"/><circle cx="1993" cy="162" r="9.3"/><circle cx="1862" cy="181" r="9.3"/><circle cx="2016" cy="302" r="9.3"/><circle cx="2333" cy="169" r="9.3"/><circle cx="1648" cy="165" r="9.3"/><circle cx="2021" cy="154" r="9.3"/><circle cx="1228" cy="168" r="9.3"/><circle cx="1620" cy="158" r="9.3"/><circle cx="1970" cy="183" r="9.3"/><circle cx="1346" cy="196" r="9.3"/><circle cx="1227" cy="181" r="9.3"/><circle cx="1843" cy="234" r="9.3"/><circle cx="1906" cy="166" r="9.3"/><circle cx="1628" cy="167" r="9.3"/><circle cx="1145" cy="182" r="9.3"/><circle cx="2259" cy="204" r="9.3"/><circle cx="2134" cy="200" r="9.3"/><circle cx="1470" cy="200" r="9.3"/><circle cx="2024" cy="164" r="9.3"/><circle cx="1620" cy="204" r="9.3"/><circle cx="1675" cy="169" r="9.3"/><circle cx="2224" cy="196" r="9.3"/><circle cx="1400" cy="193" r="9.3"/><circle cx="2322" cy="154" r="9.3"/><circle cx="2210" cy="157" r="9.3"/><circle cx="1777" cy="174" r="9.3"/><circle cx="1618" cy="176" r="9.3"/><circle cx="2248" cy="262" r="9.3"/><circle cx="2209" cy="167" r="9.3"/><circle cx="1710" cy="159" r="9.3"/><circle cx="2219" cy="279" r="9.3"/><circle cx="1483" cy="162" r="9.3"/><circle cx="2246" cy="157" r="9.3"/><circle cx="1256" cy="173" r="9.3"/><circle cx="1387" cy="160" r="9.3"/><circle cx="1292" cy="226" r="9.3"/><circle cx="2133" cy="306" r="9.3"/><circle cx="1551" cy="178" r="9.3"/><circle cx="1340" cy="180" r="9.3"/><circle cx="1269" cy="170" r="9.3"/><circle cx="1834" cy="161" r="9.3"/><circle cx="2180" cy="178" r="9.3"/><circle cx="1782" cy="200" r="9.3"/><circle cx="2138" cy="172" r="9.3"/><circle cx="2150" cy="210" r="9.3"/><circle cx="1887" cy="160" r="9.3"/><circle cx="1382" cy="159" r="9.3"/><circle cx="1162" cy="160" r="9.3"/><circle cx="1631" cy="171" r="9.3"/><circle cx="1304" cy="268" r="9.3"/><circle cx="1294" cy="294" r="9.3"/><circle cx="2020" cy="190" r="9.3"/><circle cx="1660" cy="183" r="9.3"/><circle cx="1570" cy="180" r="9.3"/><circle cx="1466" cy="164" r="9.3"/><circle cx="1715" cy="167" r="9.3"/><circle cx="1532" cy="178" r="9.3"/><circle cx="1987" cy="173" r="9.3"/><circle cx="1720" cy="214" r="9.3"/><circle cx="2047" cy="162" r="9.3"/><circle cx="1313" cy="157" r="9.3"/><circle cx="2171" cy="216" r="9.3"/><circle cx="1798" cy="176" r="9.3"/><circle cx="1696" cy="184" r="9.3"/><circle cx="1522" cy="180" r="9.3"/><circle cx="1666" cy="215" r="9.3"/><circle cx="1401" cy="196" r="9.3"/><circle cx="1640" cy="159" r="9.3"/><circle cx="2162" cy="166" r="9.3"/><circle cx="2291" cy="154" r="9.3"/><circle cx="2243" cy="185" r="9.3"/><circle cx="2260" cy="179" r="9.3"/><circle cx="2097" cy="213" r="9.3"/><circle cx="1693" cy="235" r="9.3"/><circle cx="1836" cy="210" r="9.3"/><circle cx="1376" cy="211" r="9.3"/><circle cx="1841" cy="182" r="9.3"/><circle cx="1587" cy="160" r="9.3"/><circle cx="2248" cy="243" r="9.3"/><circle cx="1145" cy="198" r="9.3"/><circle cx="1769" cy="173" r="9.3"/><circle cx="1823" cy="183" r="9.3"/><circle cx="1409" cy="179" r="9.3"/><circle cx="1286" cy="174" r="9.3"/><circle cx="1433" cy="174" r="9.3"/><circle cx="1539" cy="180" r="9.3"/><circle cx="1733" cy="179" r="9.3"/><circle cx="1842" cy="165" r="9.3"/><circle cx="1396" cy="161" r="9.3"/><circle cx="2295" cy="172" r="9.3"/><circle cx="1294" cy="161" r="9.3"/><circle cx="1366" cy="174" r="9.3"/><circle cx="1469" cy="160" r="9.3"/><circle cx="1540" cy="174" r="9.3"/><circle cx="2266" cy="175" r="9.3"/><circle cx="1367" cy="178" r="9.3"/><circle cx="1966" cy="163" r="9.3"/><circle cx="1929" cy="158" r="9.3"/><circle cx="1848" cy="176" r="9.3"/><circle cx="1303" cy="322" r="9.3"/><circle cx="1567" cy="171" r="9.3"/><circle cx="1213" cy="170" r="9.3"/><circle cx="2109" cy="159" r="9.3"/><circle cx="1135" cy="196" r="9.3"/><circle cx="2012" cy="174" r="9.3"/><circle cx="1974" cy="164" r="9.3"/><circle cx="1838" cy="209" r="9.3"/><circle cx="1517" cy="161" r="9.3"/><circle cx="1746" cy="191" r="9.3"/><circle cx="1908" cy="189" r="9.3"/><circle cx="1581" cy="168" r="9.3"/><circle cx="1895" cy="167" r="9.3"/><circle cx="2155" cy="165" r="9.3"/><circle cx="1661" cy="177" r="9.3"/><circle cx="1196" cy="189" r="9.3"/><circle cx="1865" cy="178" r="9.3"/><circle cx="1728" cy="177" r="9.3"/><circle cx="1633" cy="179" r="9.3"/><circle cx="1236" cy="177" r="9.3"/><circle cx="1261" cy="164" r="9.3"/><circle cx="1569" cy="161" r="9.3"/><circle cx="1229" cy="232" r="9.3"/><circle cx="2203" cy="177" r="9.3"/><circle cx="2484" cy="158" r="9.3"/><circle cx="2217" cy="172" r="9.3"/><circle cx="1243" cy="175" r="9.3"/><circle cx="2408" cy="165" r="9.3"/><circle cx="1346" cy="169" r="9.3"/><circle cx="1621" cy="162" r="9.3"/><circle cx="1551" cy="168" r="9.3"/><circle cx="1327" cy="302" r="9.3"/><circle cx="1317" cy="263" r="9.3"/><circle cx="1466" cy="172" r="9.3"/><circle cx="1917" cy="172" r="9.3"/><circle cx="1862" cy="171" r="9.3"/><circle cx="1670" cy="202" r="9.3"/><circle cx="1583" cy="202" r="9.3"/><circle cx="1700" cy="156" r="9.3"/><circle cx="2121" cy="163" r="9.3"/><circle cx="2489" cy="178" r="9.3"/><circle cx="2086" cy="188" r="9.3"/><circle cx="1323" cy="160" r="9.3"/><circle cx="1511" cy="162" r="9.3"/><circle cx="1595" cy="160" r="9.3"/><circle cx="1997" cy="172" r="9.3"/><circle cx="1606" cy="188" r="9.3"/><circle cx="1347" cy="173" r="9.3"/><circle cx="1164" cy="171" r="9.3"/><circle cx="1539" cy="176" r="9.3"/><circle cx="1626" cy="177" r="9.3"/><circle cx="1378" cy="161" r="9.3"/><circle cx="1326" cy="168" r="9.3"/><circle cx="1675" cy="170" r="9.3"/><circle cx="1418" cy="170" r="9.3"/><circle cx="1328" cy="167" r="9.3"/><circle cx="1987" cy="169" r="9.3"/></g>
<g class="sM"><circle cx="2106" cy="330" r="9.3"/><circle cx="2208" cy="380" r="9.3"/><circle cx="3087" cy="194" r="9.3"/></g>
<g class="sG"><circle cx="1593" cy="192" r="9.3"/><circle cx="2223" cy="198" r="9.3"/><circle cx="2512" cy="329" r="9.3"/><circle cx="1824" cy="175" r="9.3"/><circle cx="2388" cy="201" r="9.3"/><circle cx="1232" cy="174" r="9.3"/><circle cx="2113" cy="205" r="9.3"/><circle cx="2235" cy="177" r="9.3"/><circle cx="1223" cy="239" r="9.3"/><circle cx="1270" cy="178" r="9.3"/><circle cx="2380" cy="196" r="9.3"/><circle cx="1536" cy="197" r="9.3"/><circle cx="2214" cy="171" r="9.3"/><circle cx="1989" cy="170" r="9.3"/><circle cx="1083" cy="179" r="9.3"/><circle cx="2357" cy="177" r="9.3"/><circle cx="1994" cy="336" r="9.3"/><circle cx="1952" cy="179" r="9.3"/><circle cx="2185" cy="185" r="9.3"/><circle cx="2120" cy="242" r="9.3"/><circle cx="2291" cy="157" r="9.3"/><circle cx="1453" cy="190" r="9.3"/><circle cx="2187" cy="241" r="9.3"/><circle cx="2334" cy="156" r="9.3"/><circle cx="645" cy="159" r="9.3"/><circle cx="1235" cy="322" r="9.3"/><circle cx="2242" cy="386" r="9.3"/><circle cx="2162" cy="207" r="9.3"/><circle cx="2328" cy="205" r="9.3"/><circle cx="1809" cy="196" r="9.3"/><circle cx="1937" cy="203" r="9.3"/><circle cx="2450" cy="167" r="9.3"/><circle cx="1360" cy="214" r="9.3"/><circle cx="1177" cy="193" r="9.3"/><circle cx="1649" cy="166" r="9.3"/><circle cx="620" cy="374" r="9.3"/><circle cx="2218" cy="159" r="9.3"/><circle cx="1201" cy="238" r="9.3"/><circle cx="2032" cy="233" r="9.3"/><circle cx="2434" cy="221" r="9.3"/><circle cx="2492" cy="175" r="9.3"/><circle cx="1210" cy="230" r="9.3"/><circle cx="1374" cy="195" r="9.3"/><circle cx="2315" cy="317" r="9.3"/><circle cx="1537" cy="186" r="9.3"/><circle cx="2187" cy="157" r="9.3"/><circle cx="1959" cy="188" r="9.3"/><circle cx="1294" cy="183" r="9.3"/><circle cx="2166" cy="183" r="9.3"/><circle cx="2116" cy="225" r="9.3"/><circle cx="2298" cy="208" r="9.3"/><circle cx="2353" cy="219" r="9.3"/><circle cx="1523" cy="182" r="9.3"/><circle cx="2028" cy="285" r="9.3"/><circle cx="2520" cy="176" r="9.3"/><circle cx="1441" cy="192" r="9.3"/><circle cx="2276" cy="189" r="9.3"/><circle cx="1048" cy="342" r="9.3"/><circle cx="1833" cy="223" r="9.3"/><circle cx="1910" cy="184" r="9.3"/><circle cx="1014" cy="204" r="9.3"/><circle cx="1309" cy="196" r="9.3"/><circle cx="2313" cy="182" r="9.3"/><circle cx="1294" cy="166" r="9.3"/><circle cx="2439" cy="230" r="9.3"/><circle cx="2007" cy="165" r="9.3"/><circle cx="2010" cy="314" r="9.3"/><circle cx="1025" cy="330" r="9.3"/><circle cx="2027" cy="316" r="9.3"/><circle cx="1138" cy="189" r="9.3"/><circle cx="2006" cy="300" r="9.3"/><circle cx="1677" cy="183" r="9.3"/><circle cx="2576" cy="172" r="9.3"/><circle cx="1225" cy="369" r="9.3"/><circle cx="2187" cy="165" r="9.3"/><circle cx="1922" cy="175" r="9.3"/><circle cx="2163" cy="268" r="9.3"/><circle cx="2436" cy="216" r="9.3"/><circle cx="1611" cy="183" r="9.3"/><circle cx="2283" cy="211" r="9.3"/><circle cx="2389" cy="170" r="9.3"/><circle cx="2300" cy="265" r="9.3"/><circle cx="2261" cy="204" r="9.3"/><circle cx="1713" cy="190" r="9.3"/><circle cx="528" cy="158" r="9.3"/><circle cx="2448" cy="339" r="9.3"/><circle cx="1155" cy="179" r="9.3"/><circle cx="2302" cy="170" r="9.3"/><circle cx="1959" cy="321" r="9.3"/><circle cx="2001" cy="308" r="9.3"/><circle cx="2354" cy="197" r="9.3"/><circle cx="1030" cy="215" r="9.3"/><circle cx="2212" cy="203" r="9.3"/><circle cx="2455" cy="252" r="9.3"/><circle cx="1192" cy="254" r="9.3"/><circle cx="1436" cy="168" r="9.3"/><circle cx="1825" cy="197" r="9.3"/><circle cx="1428" cy="179" r="9.3"/><circle cx="1103" cy="264" r="9.3"/><circle cx="2336" cy="195" r="9.3"/><circle cx="1432" cy="163" r="9.3"/><circle cx="958" cy="179" r="9.3"/><circle cx="1251" cy="178" r="9.3"/><circle cx="2269" cy="189" r="9.3"/><circle cx="2432" cy="214" r="9.3"/><circle cx="2267" cy="207" r="9.3"/><circle cx="2112" cy="169" r="9.3"/><circle cx="2270" cy="165" r="9.3"/><circle cx="1201" cy="210" r="9.3"/><circle cx="2082" cy="227" r="9.3"/><circle cx="1885" cy="197" r="9.3"/><circle cx="1710" cy="163" r="9.3"/><circle cx="2394" cy="183" r="9.3"/><circle cx="2271" cy="352" r="9.3"/><circle cx="2269" cy="208" r="9.3"/><circle cx="2415" cy="183" r="9.3"/><circle cx="2370" cy="180" r="9.3"/><circle cx="576" cy="157" r="9.3"/><circle cx="631" cy="183" r="9.3"/><circle cx="563" cy="169" r="9.3"/><circle cx="2291" cy="165" r="9.3"/><circle cx="2275" cy="218" r="9.3"/><circle cx="2319" cy="409" r="9.3"/><circle cx="2174" cy="193" r="9.3"/><circle cx="2216" cy="171" r="9.3"/><circle cx="2110" cy="155" r="9.3"/><circle cx="2277" cy="179" r="9.3"/><circle cx="2248" cy="178" r="9.3"/><circle cx="2089" cy="278" r="9.3"/><circle cx="2154" cy="179" r="9.3"/><circle cx="1827" cy="191" r="9.3"/><circle cx="2111" cy="206" r="9.3"/><circle cx="1190" cy="178" r="9.3"/><circle cx="2057" cy="223" r="9.3"/><circle cx="1680" cy="227" r="9.3"/><circle cx="2058" cy="219" r="9.3"/><circle cx="2110" cy="197" r="9.3"/><circle cx="2196" cy="271" r="9.3"/><circle cx="1207" cy="251" r="9.3"/><circle cx="2055" cy="305" r="9.3"/><circle cx="739" cy="240" r="9.3"/><circle cx="1912" cy="176" r="9.3"/><circle cx="2110" cy="265" r="9.3"/><circle cx="2287" cy="211" r="9.3"/><circle cx="2416" cy="190" r="9.3"/><circle cx="2209" cy="327" r="9.3"/><circle cx="2255" cy="179" r="9.3"/><circle cx="2449" cy="198" r="9.3"/><circle cx="2457" cy="172" r="9.3"/><circle cx="532" cy="196" r="9.3"/><circle cx="1992" cy="193" r="9.3"/><circle cx="2478" cy="223" r="9.3"/><circle cx="2321" cy="187" r="9.3"/><circle cx="2379" cy="175" r="9.3"/><circle cx="2068" cy="276" r="9.3"/><circle cx="2610" cy="179" r="9.3"/><circle cx="2512" cy="188" r="9.3"/><circle cx="1640" cy="166" r="9.3"/><circle cx="2420" cy="184" r="9.3"/><circle cx="2100" cy="204" r="9.3"/><circle cx="2522" cy="205" r="9.3"/><circle cx="1248" cy="199" r="9.3"/><circle cx="1380" cy="188" r="9.3"/><circle cx="2225" cy="171" r="9.3"/><circle cx="1874" cy="193" r="9.3"/><circle cx="1198" cy="176" r="9.3"/><circle cx="2514" cy="203" r="9.3"/><circle cx="1784" cy="203" r="9.3"/><circle cx="1927" cy="170" r="9.3"/><circle cx="1110" cy="253" r="9.3"/><circle cx="1020" cy="179" r="9.3"/><circle cx="1212" cy="240" r="9.3"/><circle cx="2269" cy="180" r="9.3"/><circle cx="1997" cy="174" r="9.3"/><circle cx="1135" cy="168" r="9.3"/><circle cx="1213" cy="186" r="9.3"/><circle cx="1620" cy="184" r="9.3"/><circle cx="2152" cy="270" r="9.3"/><circle cx="2343" cy="252" r="9.3"/><circle cx="2165" cy="188" r="9.3"/><circle cx="2226" cy="181" r="9.3"/><circle cx="2173" cy="318" r="9.3"/><circle cx="1224" cy="209" r="9.3"/><circle cx="2378" cy="232" r="9.3"/><circle cx="2210" cy="201" r="9.3"/><circle cx="2115" cy="182" r="9.3"/><circle cx="1320" cy="184" r="9.3"/><circle cx="1883" cy="181" r="9.3"/><circle cx="2180" cy="170" r="9.3"/><circle cx="1541" cy="189" r="9.3"/><circle cx="1501" cy="189" r="9.3"/></g>
<g class="sC"><circle cx="1046" cy="197" r="9.3"/><circle cx="487" cy="216" r="9.3"/><circle cx="833" cy="231" r="9.3"/><circle cx="484" cy="173" r="9.3"/><circle cx="2055" cy="210" r="9.3"/><circle cx="2613" cy="282" r="9.3"/><circle cx="1254" cy="147" r="9.3"/></g>
<g class="sP"><circle cx="1891" cy="210" r="9.3"/><circle cx="2116" cy="155" r="9.3"/><circle cx="1258" cy="174" r="9.3"/><circle cx="1893" cy="174" r="9.3"/><circle cx="1713" cy="171" r="9.3"/><circle cx="1673" cy="181" r="9.3"/><circle cx="1402" cy="168" r="9.3"/><circle cx="2095" cy="174" r="9.3"/><circle cx="1290" cy="206" r="9.3"/><circle cx="1792" cy="161" r="9.3"/><circle cx="1227" cy="162" r="9.3"/><circle cx="2405" cy="185" r="9.3"/><circle cx="1812" cy="193" r="9.3"/><circle cx="1356" cy="173" r="9.3"/><circle cx="1893" cy="179" r="9.3"/><circle cx="1223" cy="187" r="9.3"/><circle cx="1266" cy="287" r="9.3"/><circle cx="2428" cy="163" r="9.3"/><circle cx="1682" cy="163" r="9.3"/><circle cx="1290" cy="223" r="9.3"/><circle cx="1830" cy="186" r="9.3"/><circle cx="1406" cy="160" r="9.3"/><circle cx="1767" cy="163" r="9.3"/><circle cx="1525" cy="157" r="9.3"/><circle cx="2074" cy="159" r="9.3"/><circle cx="2252" cy="165" r="9.3"/><circle cx="1271" cy="171" r="9.3"/><circle cx="1329" cy="163" r="9.3"/><circle cx="1286" cy="166" r="9.3"/><circle cx="2157" cy="242" r="9.3"/><circle cx="1184" cy="158" r="9.3"/><circle cx="1762" cy="169" r="9.3"/><circle cx="1836" cy="228" r="9.3"/><circle cx="1341" cy="161" r="9.3"/><circle cx="1298" cy="168" r="9.3"/><circle cx="1623" cy="159" r="9.3"/><circle cx="1243" cy="184" r="9.3"/><circle cx="1267" cy="159" r="9.3"/><circle cx="1142" cy="164" r="9.3"/><circle cx="1881" cy="174" r="9.3"/><circle cx="2288" cy="195" r="9.3"/><circle cx="1933" cy="209" r="9.3"/><circle cx="1568" cy="195" r="9.3"/><circle cx="1849" cy="174" r="9.3"/><circle cx="1767" cy="159" r="9.3"/><circle cx="1929" cy="170" r="9.3"/><circle cx="2120" cy="169" r="9.3"/><circle cx="1821" cy="167" r="9.3"/><circle cx="2104" cy="168" r="9.3"/><circle cx="2223" cy="164" r="9.3"/><circle cx="1676" cy="182" r="9.3"/><circle cx="1629" cy="180" r="9.3"/><circle cx="1246" cy="183" r="9.3"/><circle cx="2083" cy="279" r="9.3"/><circle cx="2295" cy="155" r="9.3"/><circle cx="1198" cy="175" r="9.3"/><circle cx="1185" cy="171" r="9.3"/><circle cx="2083" cy="185" r="9.3"/><circle cx="1715" cy="219" r="9.3"/><circle cx="1942" cy="163" r="9.3"/><circle cx="1643" cy="188" r="9.3"/><circle cx="2045" cy="170" r="9.3"/><circle cx="2288" cy="168" r="9.3"/><circle cx="2113" cy="243" r="9.3"/><circle cx="1739" cy="183" r="9.3"/><circle cx="1893" cy="170" r="9.3"/><circle cx="2114" cy="154" r="9.3"/><circle cx="1292" cy="241" r="9.3"/><circle cx="1835" cy="218" r="9.3"/><circle cx="1684" cy="171" r="9.3"/><circle cx="1529" cy="169" r="9.3"/><circle cx="658" cy="169" r="9.3"/><circle cx="1710" cy="165" r="9.3"/><circle cx="1766" cy="160" r="9.3"/><circle cx="2345" cy="166" r="9.3"/><circle cx="2238" cy="163" r="9.3"/><circle cx="1890" cy="170" r="9.3"/><circle cx="1699" cy="169" r="9.3"/><circle cx="721" cy="234" r="9.3"/><circle cx="1597" cy="179" r="9.3"/><circle cx="2119" cy="164" r="9.3"/><circle cx="1284" cy="172" r="9.3"/><circle cx="1144" cy="200" r="9.3"/><circle cx="1162" cy="172" r="9.3"/><circle cx="2102" cy="174" r="9.3"/><circle cx="1842" cy="177" r="9.3"/><circle cx="1401" cy="163" r="9.3"/><circle cx="1236" cy="188" r="9.3"/><circle cx="1890" cy="159" r="9.3"/><circle cx="1413" cy="167" r="9.3"/><circle cx="1680" cy="156" r="9.3"/><circle cx="2073" cy="254" r="9.3"/><circle cx="1379" cy="165" r="9.3"/><circle cx="1438" cy="189" r="9.3"/><circle cx="1189" cy="161" r="9.3"/><circle cx="1609" cy="159" r="9.3"/><circle cx="1061" cy="193" r="9.3"/><circle cx="2258" cy="207" r="9.3"/><circle cx="1629" cy="189" r="9.3"/><circle cx="2208" cy="182" r="9.3"/><circle cx="2141" cy="158" r="9.3"/><circle cx="1666" cy="161" r="9.3"/><circle cx="1300" cy="167" r="9.3"/><circle cx="1628" cy="178" r="9.3"/><circle cx="2115" cy="280" r="9.3"/><circle cx="1200" cy="173" r="9.3"/><circle cx="1998" cy="212" r="9.3"/><circle cx="1340" cy="159" r="9.3"/><circle cx="2180" cy="246" r="9.3"/><circle cx="1183" cy="164" r="9.3"/><circle cx="1336" cy="163" r="9.3"/><circle cx="1193" cy="166" r="9.3"/><circle cx="1654" cy="174" r="9.3"/><circle cx="1466" cy="195" r="9.3"/><circle cx="1241" cy="164" r="9.3"/><circle cx="1414" cy="171" r="9.3"/><circle cx="1252" cy="232" r="9.3"/><circle cx="1023" cy="189" r="9.3"/><circle cx="1906" cy="173" r="9.3"/><circle cx="1421" cy="203" r="9.3"/><circle cx="1308" cy="229" r="9.3"/><circle cx="2214" cy="172" r="9.3"/><circle cx="1131" cy="183" r="9.3"/><circle cx="1251" cy="184" r="9.3"/><circle cx="1873" cy="174" r="9.3"/><circle cx="1734" cy="190" r="9.3"/><circle cx="1761" cy="179" r="9.3"/><circle cx="1081" cy="187" r="9.3"/><circle cx="1801" cy="161" r="9.3"/><circle cx="1788" cy="175" r="9.3"/><circle cx="1845" cy="162" r="9.3"/><circle cx="1838" cy="186" r="9.3"/><circle cx="2212" cy="260" r="9.3"/><circle cx="1917" cy="181" r="9.3"/><circle cx="2351" cy="173" r="9.3"/><circle cx="1297" cy="177" r="9.3"/><circle cx="1650" cy="222" r="9.3"/><circle cx="1438" cy="175" r="9.3"/><circle cx="1846" cy="159" r="9.3"/><circle cx="2177" cy="159" r="9.3"/><circle cx="1544" cy="156" r="9.3"/><circle cx="1886" cy="181" r="9.3"/><circle cx="1854" cy="188" r="9.3"/><circle cx="2293" cy="297" r="9.3"/><circle cx="2176" cy="253" r="9.3"/><circle cx="1195" cy="201" r="9.3"/><circle cx="1540" cy="195" r="9.3"/><circle cx="1941" cy="175" r="9.3"/><circle cx="1553" cy="171" r="9.3"/><circle cx="1406" cy="167" r="9.3"/><circle cx="1767" cy="177" r="9.3"/><circle cx="2514" cy="187" r="9.3"/><circle cx="2201" cy="181" r="9.3"/><circle cx="1924" cy="208" r="9.3"/><circle cx="1823" cy="191" r="9.3"/><circle cx="1299" cy="288" r="9.3"/><circle cx="1463" cy="166" r="9.3"/><circle cx="1566" cy="185" r="9.3"/><circle cx="1359" cy="154" r="9.3"/><circle cx="2028" cy="166" r="9.3"/><circle cx="1196" cy="174" r="9.3"/><circle cx="2329" cy="154" r="9.3"/><circle cx="2122" cy="170" r="9.3"/><circle cx="1944" cy="154" r="9.3"/><circle cx="2323" cy="160" r="9.3"/><circle cx="1563" cy="183" r="9.3"/><circle cx="1829" cy="173" r="9.3"/><circle cx="1778" cy="173" r="9.3"/><circle cx="2140" cy="176" r="9.3"/><circle cx="1249" cy="171" r="9.3"/><circle cx="2285" cy="180" r="9.3"/><circle cx="2215" cy="171" r="9.3"/><circle cx="1408" cy="161" r="9.3"/><circle cx="1596" cy="159" r="9.3"/><circle cx="1842" cy="169" r="9.3"/><circle cx="1524" cy="167" r="9.3"/><circle cx="1145" cy="168" r="9.3"/><circle cx="1332" cy="263" r="9.3"/><circle cx="2277" cy="162" r="9.3"/><circle cx="1899" cy="173" r="9.3"/><circle cx="1763" cy="171" r="9.3"/><circle cx="1674" cy="179" r="9.3"/><circle cx="1556" cy="161" r="9.3"/><circle cx="1396" cy="161" r="9.3"/><circle cx="2168" cy="209" r="9.3"/><circle cx="2346" cy="183" r="9.3"/><circle cx="2004" cy="225" r="9.3"/><circle cx="1378" cy="215" r="9.3"/><circle cx="2019" cy="161" r="9.3"/><circle cx="1649" cy="189" r="9.3"/><circle cx="951" cy="150" r="9.3"/><circle cx="1955" cy="180" r="9.3"/><circle cx="2116" cy="207" r="9.3"/><circle cx="2162" cy="206" r="9.3"/><circle cx="1168" cy="155" r="9.3"/><circle cx="1421" cy="159" r="9.3"/><circle cx="2424" cy="300" r="9.3"/><circle cx="1162" cy="159" r="9.3"/><circle cx="1828" cy="222" r="9.3"/><circle cx="1656" cy="168" r="9.3"/><circle cx="1735" cy="174" r="9.3"/><circle cx="2050" cy="178" r="9.3"/><circle cx="1781" cy="170" r="9.3"/><circle cx="1821" cy="175" r="9.3"/><circle cx="1632" cy="189" r="9.3"/><circle cx="1331" cy="335" r="9.3"/><circle cx="2097" cy="168" r="9.3"/><circle cx="1864" cy="198" r="9.3"/><circle cx="2004" cy="216" r="9.3"/><circle cx="1827" cy="161" r="9.3"/><circle cx="1837" cy="161" r="9.3"/><circle cx="2082" cy="185" r="9.3"/><circle cx="1087" cy="157" r="9.3"/><circle cx="1525" cy="166" r="9.3"/><circle cx="1723" cy="174" r="9.3"/><circle cx="1460" cy="166" r="9.3"/><circle cx="1766" cy="176" r="9.3"/><circle cx="2046" cy="260" r="9.3"/><circle cx="1838" cy="183" r="9.3"/><circle cx="2188" cy="214" r="9.3"/><circle cx="1315" cy="174" r="9.3"/><circle cx="1462" cy="172" r="9.3"/><circle cx="2069" cy="254" r="9.3"/><circle cx="1220" cy="170" r="9.3"/><circle cx="1446" cy="178" r="9.3"/></g>
<g class="sV"><circle cx="1938" cy="218" r="9.3"/><circle cx="569" cy="154" r="9.3"/><circle cx="2346" cy="221" r="9.3"/><circle cx="1221" cy="165" r="9.3"/><circle cx="2272" cy="167" r="9.3"/><circle cx="2378" cy="157" r="9.3"/><circle cx="1799" cy="219" r="9.3"/><circle cx="2170" cy="158" r="9.3"/><circle cx="1871" cy="643" r="9.3"/><circle cx="2699" cy="268" r="9.3"/><circle cx="1132" cy="385" r="9.3"/><circle cx="1992" cy="196" r="9.3"/><circle cx="638" cy="348" r="9.3"/><circle cx="2252" cy="235" r="9.3"/><circle cx="1237" cy="307" r="9.3"/><circle cx="1813" cy="217" r="9.3"/><circle cx="2245" cy="232" r="9.3"/><circle cx="2132" cy="156" r="9.3"/><circle cx="2309" cy="532" r="9.3"/><circle cx="1004" cy="387" r="9.3"/><circle cx="538" cy="173" r="9.3"/><circle cx="531" cy="164" r="9.3"/><circle cx="1197" cy="170" r="9.3"/><circle cx="1071" cy="220" r="9.3"/><circle cx="2163" cy="198" r="9.3"/><circle cx="2161" cy="206" r="9.3"/><circle cx="1915" cy="709" r="9.3"/><circle cx="2241" cy="161" r="9.3"/><circle cx="1144" cy="197" r="9.3"/><circle cx="2132" cy="253" r="9.3"/><circle cx="2456" cy="276" r="9.3"/><circle cx="2284" cy="235" r="9.3"/><circle cx="1301" cy="193" r="9.3"/><circle cx="2253" cy="183" r="9.3"/><circle cx="2352" cy="296" r="9.3"/><circle cx="2620" cy="228" r="9.3"/><circle cx="913" cy="361" r="9.3"/><circle cx="460" cy="164" r="9.3"/><circle cx="2121" cy="289" r="9.3"/><circle cx="2512" cy="189" r="9.3"/><circle cx="1674" cy="677" r="9.3"/><circle cx="2216" cy="225" r="9.3"/><circle cx="2109" cy="189" r="9.3"/><circle cx="2175" cy="180" r="9.3"/><circle cx="2028" cy="193" r="9.3"/><circle cx="476" cy="173" r="9.3"/><circle cx="482" cy="189" r="9.3"/><circle cx="992" cy="216" r="9.3"/><circle cx="679" cy="397" r="9.3"/><circle cx="1370" cy="221" r="9.3"/><circle cx="508" cy="186" r="9.3"/><circle cx="2255" cy="189" r="9.3"/><circle cx="2010" cy="817" r="9.3"/><circle cx="457" cy="157" r="9.3"/><circle cx="2111" cy="173" r="9.3"/><circle cx="1058" cy="444" r="9.3"/><circle cx="2434" cy="164" r="9.3"/><circle cx="2398" cy="230" r="9.3"/><circle cx="2134" cy="187" r="9.3"/><circle cx="1195" cy="196" r="9.3"/><circle cx="572" cy="182" r="9.3"/><circle cx="1644" cy="208" r="9.3"/><circle cx="2777" cy="153" r="9.3"/><circle cx="710" cy="419" r="9.3"/><circle cx="536" cy="154" r="9.3"/><circle cx="2021" cy="200" r="9.3"/><circle cx="519" cy="189" r="9.3"/><circle cx="1772" cy="173" r="9.3"/><circle cx="449" cy="163" r="9.3"/><circle cx="2774" cy="297" r="9.3"/><circle cx="2511" cy="190" r="9.3"/><circle cx="1247" cy="226" r="9.3"/><circle cx="2346" cy="163" r="9.3"/><circle cx="1262" cy="237" r="9.3"/><circle cx="1261" cy="204" r="9.3"/><circle cx="2211" cy="229" r="9.3"/></g>
<g class="sM"><circle cx="422" cy="216" r="9.3"/><circle cx="2299" cy="369" r="9.3"/><circle cx="3073" cy="194" r="9.3"/></g>
</g>
<path d="M327.50 109.4V1080.5M762.07 109.4V1080.5M1196.64 109.4V1080.5M1631.21 109.4V1080.5M2065.78 109.4V1080.5M2500.35 109.4V1080.5M2934.92 109.4V1080.5M3369.49 109.4V1080.5M236.5 153.50H3555.5M236.5 290.50H3555.5M236.5 427.50H3555.5M236.5 564.50H3555.5M236.5 701.50H3555.5M236.5 838.50H3555.5M236.5 975.50H3555.5" fill="none" stroke="#b0b0b0" stroke-width="3.33"/>
<path d="M586.07 115V1080.5" fill="none" stroke="#ffc0cb" stroke-width="4.17" stroke-dasharray="15.42 6.67"/>
<path d="M1139.97 115V1080.5" fill="none" stroke="#0000ff" stroke-width="4.17" stroke-dasharray="15.42 6.67"/>
<path d="M1254.00 115V1080.5" fill="none" stroke="#87ceeb" stroke-width="4.17" stroke-dasharray="15.42 6.67"/>
<path d="M2044.92 115V1080.5" fill="none" stroke="#ffa500" stroke-width="4.17" stroke-dasharray="15.42 6.67"/>
<path d="M2233.96 115V1080.5" fill="none" stroke="#808080" stroke-width="4.17" stroke-dasharray="15.42 6.67"/>
<path d="M2313.83 115V1080.5" fill="none" stroke="#ff0000" stroke-width="4.17" stroke-dasharray="15.42 6.67"/>
<path d="M2569.88 115V1080.5" fill="none" stroke="#008000" stroke-width="4.17" stroke-dasharray="15.42 6.67"/>
</g>
<path d="M327.50 1080.5v14.58M762.07 1080.5v14.58M1196.64 1080.5v14.58M1631.21 1080.5v14.58M2065.78 1080.5v14.58M2500.35 1080.5v14.58M2934.92 1080.5v14.58M3369.49 1080.5v14.58M236.5 153.50h-14.58M236.5 290.50h-14.58M236.5 427.50h-14.58M236.5 564.50h-14.58M236.5 701.50h-14.58M236.5 838.50h-14.58M236.5 975.50h-14.58" fill="none" stroke="#000" stroke-width="3.33"/>
<rect x="236.5" y="109.4" width="3319.0" height="971.1" fill="none" stroke="#000" stroke-width="3.33" stroke-linejoin="miter"/>
<g clip-path="url(#cb)">
<path d="M386.29 2230.5V2228.57H429.41V2230.5ZM429.41 2230.5V2215.07H472.52V2230.5ZM472.52 2230.5V2208.33H515.64V2230.5ZM515.64 2230.5V1830.40H558.75V2230.5ZM558.75 2230.5V2145.66H601.87V2230.5ZM601.87 2230.5V2156.26H644.98V2230.5ZM644.98 2230.5V2192.42H688.10V2230.5ZM688.10 2230.5V2219.41H731.21V2230.5ZM731.21 2230.5V2209.29H774.32V2230.5ZM774.32 2230.5V2206.88H817.44V2230.5ZM817.44 2230.5V2226.64H860.55V2230.5ZM860.55 2230.5V2226.64H903.67V2230.5ZM903.67 2230.5V2221.34H946.78V2230.5ZM946.78 2230.5V2217.48H989.90V2230.5ZM989.90 2230.5V2186.15H1033.01V2230.5ZM1033.01 2230.5V2197.24H1076.13V2230.5ZM1076.13 2230.5V2168.80H1119.24V2230.5ZM1119.24 2230.5V2057.93H1162.36V2230.5ZM1162.36 2230.5V1970.19H1205.47V2230.5ZM1205.47 2230.5V1856.91H1248.58V2230.5ZM1248.58 2230.5V1996.22H1291.70V2230.5ZM1291.70 2230.5V2019.36H1334.81V2230.5ZM1334.81 2230.5V2009.24H1377.93V2230.5ZM1377.93 2230.5V2080.10H1421.04V2230.5ZM1421.04 2230.5V2157.23H1464.16V2230.5ZM1464.16 2230.5V2200.13H1507.27V2230.5ZM1507.27 2230.5V2137.46H1550.39V2230.5ZM1550.39 2230.5V2163.01H1593.50V2230.5ZM1593.50 2230.5V2052.62H1636.61V2230.5ZM1636.61 2230.5V1892.58H1679.73V2230.5ZM1679.73 2230.5V2125.41H1722.84V2230.5ZM1722.84 2230.5V2104.20H1765.96V2230.5ZM1765.96 2230.5V2070.94H1809.07V2230.5ZM1809.07 2230.5V1531.05H1852.19V2230.5ZM1852.19 2230.5V1943.68H1895.30V2230.5ZM1895.30 2230.5V2097.94H1938.42V2230.5ZM1938.42 2230.5V2088.30H1981.53V2230.5ZM1981.53 2230.5V1981.76H2024.65V2230.5ZM2024.65 2230.5V1960.07H2067.76V2230.5ZM2067.76 2230.5V1578.77H2110.87V2230.5ZM2110.87 2230.5V1755.20H2153.99V2230.5ZM2153.99 2230.5V1465.00H2197.10V2230.5ZM2197.10 2230.5V1304.96H2240.22V2230.5ZM2240.22 2230.5V1628.42H2283.33V2230.5ZM2283.33 2230.5V2037.20H2326.45V2230.5ZM2326.45 2230.5V2138.43H2369.56V2230.5ZM2369.56 2230.5V2120.59H2412.68V2230.5ZM2412.68 2230.5V2095.04H2455.79V2230.5ZM2455.79 2230.5V2108.54H2498.90V2230.5ZM2498.90 2230.5V2203.99H2542.02V2230.5ZM2542.02 2230.5V2211.70H2585.13V2230.5ZM2585.13 2230.5V2216.04H2628.25V2230.5ZM2628.25 2230.5V2217.48H2671.36V2230.5ZM2671.36 2230.5V2223.27H2714.48V2230.5ZM2714.48 2230.5V2223.27H2757.59V2230.5ZM2757.59 2230.5V2230.50H2800.71V2230.5ZM2800.71 2230.5V2230.02H2843.82V2230.5ZM2843.82 2230.5V2230.02H2886.94V2230.5ZM2886.94 2230.5V2229.54H2930.05V2230.5ZM2930.05 2230.5V2229.05H2973.16V2230.5ZM2973.16 2230.5V2229.54H3016.28V2230.5ZM3016.28 2230.5V2229.05H3059.39V2230.5ZM3059.39 2230.5V2229.54H3102.51V2230.5ZM3102.51 2230.5V2230.02H3145.62V2230.5ZM3145.62 2230.5V2229.05H3188.74V2230.5ZM3188.74 2230.5V2230.02H3231.85V2230.5ZM3231.85 2230.5V2230.50H3274.97V2230.5ZM3274.97 2230.5V2230.50H3318.08V2230.5ZM3318.08 2230.5V2230.02H3361.19V2230.5ZM3361.19 2230.5V2230.02H3404.31V2230.5Z" fill="#add8e6" stroke="#000" stroke-width="4.17" stroke-linejoin="miter"/>
<path d="M327.40 2230.5V1259.4M758.54 2230.5V1259.4M1189.69 2230.5V1259.4M1620.84 2230.5V1259.4M2051.98 2230.5V1259.4M2483.12 2230.5V1259.4M2914.27 2230.5V1259.4M3345.41 2230.5V1259.4M236.5 2230.50H3555.5M236.5 2109.99H3555.5M236.5 1989.47H3555.5M236.5 1868.96H3555.5M236.5 1748.45H3555.5M236.5 1627.94H3555.5M236.5 1507.43H3555.5M236.5 1386.91H3555.5M236.5 1266.40H3555.5" fill="none" stroke="#a9a9a9" stroke-width="2.08" stroke-dasharray="7.71 3.33"/>
<path d="M583.93 2230.50V1266.40" fill="none" stroke="#ffc0cb" stroke-width="4.17" stroke-dasharray="15.42 6.67"/>
<path d="M1133.47 2230.50V1266.40" fill="none" stroke="#0000ff" stroke-width="4.17" stroke-dasharray="15.42 6.67"/>
<path d="M1246.60 2230.50V1266.40" fill="none" stroke="#87ceeb" stroke-width="4.17" stroke-dasharray="15.42 6.67"/>
<path d="M2031.29 2230.50V1266.40" fill="none" stroke="#ffa500" stroke-width="4.17" stroke-dasharray="15.42 6.67"/>
<path d="M2218.83 2230.50V1266.40" fill="none" stroke="#808080" stroke-width="4.17" stroke-dasharray="15.42 6.67"/>
<path d="M2298.08 2230.50V1266.40" fill="none" stroke="#ff0000" stroke-width="4.17" stroke-dasharray="15.42 6.67"/>
<path d="M2552.11 2230.50V1266.40" fill="none" stroke="#008000" stroke-width="4.17" stroke-dasharray="15.42 6.67"/>
</g>
<path d="M327.40 2230.5v14.58M758.54 2230.5v14.58M1189.69 2230.5v14.58M1620.84 2230.5v14.58M2051.98 2230.5v14.58M2483.12 2230.5v14.58M2914.27 2230.5v14.58M3345.41 2230.5v14.58M236.5 2230.50h-14.58M236.5 2109.99h-14.58M236.5 1989.47h-14.58M236.5 1868.96h-14.58M236.5 1748.45h-14.58M236.5 1627.94h-14.58M236.5 1507.43h-14.58M236.5 1386.91h-14.58M236.5 1266.40h-14.58" fill="none" stroke="#000" stroke-width="3.33"/>
<rect x="236.5" y="1259.4" width="3319.0" height="971.1" fill="none" stroke="#000" stroke-width="3.33"/>
<g id="txt" opacity="0.999">
<text x="328.0" y="1142.2" font-size="45.00" text-anchor="middle" textLength="77.1" lengthAdjust="spacingAndGlyphs" stroke="#fff" stroke-width="0.6">120</text>
<text x="327.9" y="2292.2" font-size="45.00" text-anchor="middle" textLength="77.1" lengthAdjust="spacingAndGlyphs" stroke="#fff" stroke-width="0.6">120</text>
<text x="762.6" y="1142.2" font-size="45.00" text-anchor="middle" textLength="77.1" lengthAdjust="spacingAndGlyphs" stroke="#fff" stroke-width="0.6">125</text>
<text x="759.0" y="2292.2" font-size="45.00" text-anchor="middle" textLength="77.1" lengthAdjust="spacingAndGlyphs" stroke="#fff" stroke-width="0.6">125</text>
<text x="1197.1" y="1142.2" font-size="45.00" text-anchor="middle" textLength="77.1" lengthAdjust="spacingAndGlyphs" stroke="#fff" stroke-width="0.6">130</text>
<text x="1190.2" y="2292.2" font-size="45.00" text-anchor="middle" textLength="77.1" lengthAdjust="spacingAndGlyphs" stroke="#fff" stroke-width="0.6">130</text>
<text x="1631.7" y="1142.2" font-size="45.00" text-anchor="middle" textLength="77.1" lengthAdjust="spacingAndGlyphs" stroke="#fff" stroke-width="0.6">135</text>
<text x="1621.3" y="2292.2" font-size="45.00" text-anchor="middle" textLength="77.1" lengthAdjust="spacingAndGlyphs" stroke="#fff" stroke-width="0.6">135</text>
<text x="2066.3" y="1142.2" font-size="45.00" text-anchor="middle" textLength="77.1" lengthAdjust="spacingAndGlyphs" stroke="#fff" stroke-width="0.6">140</text>
<text x="2052.5" y="2292.2" font-size="45.00" text-anchor="middle" textLength="77.1" lengthAdjust="spacingAndGlyphs" stroke="#fff" stroke-width="0.6">140</text>
<text x="2500.8" y="1142.2" font-size="45.00" text-anchor="middle" textLength="77.1" lengthAdjust="spacingAndGlyphs" stroke="#fff" stroke-width="0.6">145</text>
<text x="2483.6" y="2292.2" font-size="45.00" text-anchor="middle" textLength="77.1" lengthAdjust="spacingAndGlyphs" stroke="#fff" stroke-width="0.6">145</text>
<text x="2935.4" y="1142.2" font-size="45.00" text-anchor="middle" textLength="77.1" lengthAdjust="spacingAndGlyphs" stroke="#fff" stroke-width="0.6">150</text>
<text x="2914.8" y="2292.2" font-size="45.00" text-anchor="middle" textLength="77.1" lengthAdjust="spacingAndGlyphs" stroke="#fff" stroke-width="0.6">150</text>
<text x="3370.0" y="1142.2" font-size="45.00" text-anchor="middle" textLength="77.1" lengthAdjust="spacingAndGlyphs" stroke="#fff" stroke-width="0.6">155</text>
<text x="3345.9" y="2292.2" font-size="45.00" text-anchor="middle" textLength="77.1" lengthAdjust="spacingAndGlyphs" stroke="#fff" stroke-width="0.6">155</text>
<text x="206.2" y="169.4" font-size="45.00" text-anchor="end" textLength="26.0" lengthAdjust="spacingAndGlyphs" stroke="#fff" stroke-width="0.6">0</text>
<text x="206.2" y="306.4" font-size="45.00" text-anchor="end" textLength="78.0" lengthAdjust="spacingAndGlyphs" stroke="#fff" stroke-width="0.6">100</text>
<text x="206.2" y="443.4" font-size="45.00" text-anchor="end" textLength="78.0" lengthAdjust="spacingAndGlyphs" stroke="#fff" stroke-width="0.6">200</text>
<text x="206.2" y="580.4" font-size="45.00" text-anchor="end" textLength="78.0" lengthAdjust="spacingAndGlyphs" stroke="#fff" stroke-width="0.6">300</text>
<text x="206.2" y="717.4" font-size="45.00" text-anchor="end" textLength="78.0" lengthAdjust="spacingAndGlyphs" stroke="#fff" stroke-width="0.6">400</text>
<text x="206.2" y="854.4" font-size="45.00" text-anchor="end" textLength="78.0" lengthAdjust="spacingAndGlyphs" stroke="#fff" stroke-width="0.6">500</text>
<text x="206.2" y="991.4" font-size="45.00" text-anchor="end" textLength="78.0" lengthAdjust="spacingAndGlyphs" stroke="#fff" stroke-width="0.6">600</text>
<text x="206.2" y="2246.4" font-size="45.00" text-anchor="end" textLength="26.0" lengthAdjust="spacingAndGlyphs" stroke="#fff" stroke-width="0.6">0</text>
<text x="206.2" y="2125.9" font-size="45.00" text-anchor="end" textLength="78.0" lengthAdjust="spacingAndGlyphs" stroke="#fff" stroke-width="0.6">250</text>
<text x="206.2" y="2005.4" font-size="45.00" text-anchor="end" textLength="78.0" lengthAdjust="spacingAndGlyphs" stroke="#fff" stroke-width="0.6">500</text>
<text x="206.2" y="1884.9" font-size="45.00" text-anchor="end" textLength="78.0" lengthAdjust="spacingAndGlyphs" stroke="#fff" stroke-width="0.6">750</text>
<text x="206.2" y="1764.4" font-size="45.00" text-anchor="end" textLength="104.0" lengthAdjust="spacingAndGlyphs" stroke="#fff" stroke-width="0.6">1000</text>
<text x="206.2" y="1643.8" font-size="45.00" text-anchor="end" textLength="104.0" lengthAdjust="spacingAndGlyphs" stroke="#fff" stroke-width="0.6">1250</text>
<text x="206.2" y="1523.3" font-size="45.00" text-anchor="end" textLength="104.0" lengthAdjust="spacingAndGlyphs" stroke="#fff" stroke-width="0.6">1500</text>
<text x="206.2" y="1402.8" font-size="45.00" text-anchor="end" textLength="104.0" lengthAdjust="spacingAndGlyphs" stroke="#fff" stroke-width="0.6">1750</text>
<text x="206.2" y="1282.3" font-size="45.00" text-anchor="end" textLength="104.0" lengthAdjust="spacingAndGlyphs" stroke="#fff" stroke-width="0.6">2000</text>
<text x="1895.6" y="1198.2" font-size="41.67" text-anchor="middle">経度</text>
<text x="1895.6" y="2348.2" font-size="41.67" text-anchor="middle">経度</text>
<text transform="translate(103.5 598) rotate(-90)" font-size="41.67" text-anchor="middle">深さ</text>
<text transform="translate(77.5 1746.5) rotate(-90)" font-size="41.67" text-anchor="middle">頻度</text>
<text x="1195.0" y="84.5" font-size="54.00" text-anchor="start" textLength="284.0" lengthAdjust="spacingAndGlyphs" stroke="#fff" stroke-width="0.6">2021-06-01</text>
<text x="1494.9" y="83.7" font-size="50.00" text-anchor="start">から</text>
<text x="1608.5" y="84.5" font-size="54.00" text-anchor="start" textLength="291.0" lengthAdjust="spacingAndGlyphs" stroke="#fff" stroke-width="0.6">2021-06-30</text>
<text x="1895.3" y="83.7" font-size="50.00" text-anchor="start">の全国地震の経度と深さの関係</text>
</g>
<rect x="3163.9" y="743" width="370.1" height="317.3" rx="8.3" ry="8.3" fill="#fff" fill-opacity="0.8" stroke="#ccc" stroke-opacity="0.8" stroke-width="4.17"/>
<rect x="3180.6" y="762.4" width="83.3" height="29.2" fill="#e599b1" stroke="#e599b1" stroke-width="4.17"/>
<text x="3297.5" y="792.3" font-size="45.00" text-anchor="start" textLength="108.5" lengthAdjust="spacingAndGlyphs" stroke="#fff" stroke-width="0.6"><tspan font-size="41.8">M</tspan> &lt; 1</text>
<rect x="3180.6" y="822.9" width="83.3" height="29.2" fill="#7c8e42" stroke="#7c8e42" stroke-width="4.17"/>
<text x="3297.5" y="852.0" font-size="45.00" text-anchor="start" textLength="221.0" lengthAdjust="spacingAndGlyphs" stroke="#fff" stroke-width="0.6">1 &lt;= <tspan font-size="41.8">M</tspan> &lt; 2</text>
<rect x="3180.6" y="883.9" width="83.3" height="29.2" fill="#7058a2" stroke="#7058a2" stroke-width="4.17"/>
<text x="3297.5" y="912.9" font-size="45.00" text-anchor="start" textLength="221.0" lengthAdjust="spacingAndGlyphs" stroke="#fff" stroke-width="0.6">2 &lt;= <tspan font-size="41.8">M</tspan> &lt; 4</text>
<rect x="3180.6" y="944.8" width="83.3" height="29.2" fill="#b24c96" stroke="#b24c96" stroke-width="4.17"/>
<text x="3297.5" y="973.7" font-size="45.00" text-anchor="start" textLength="221.0" lengthAdjust="spacingAndGlyphs" stroke="#fff" stroke-width="0.6">4 &lt;= <tspan font-size="41.8">M</tspan> &lt; 6</text>
<rect x="3180.6" y="1005.9" width="83.3" height="29.2" fill="#a32041" stroke="#a32041" stroke-width="4.17"/>
<text x="3297.5" y="1034.1" font-size="45.00" text-anchor="start" textLength="143.0" lengthAdjust="spacingAndGlyphs" stroke="#fff" stroke-width="0.6"><tspan font-size="41.8">M</tspan> &gt;= 6</text>
</svg></body></html>
